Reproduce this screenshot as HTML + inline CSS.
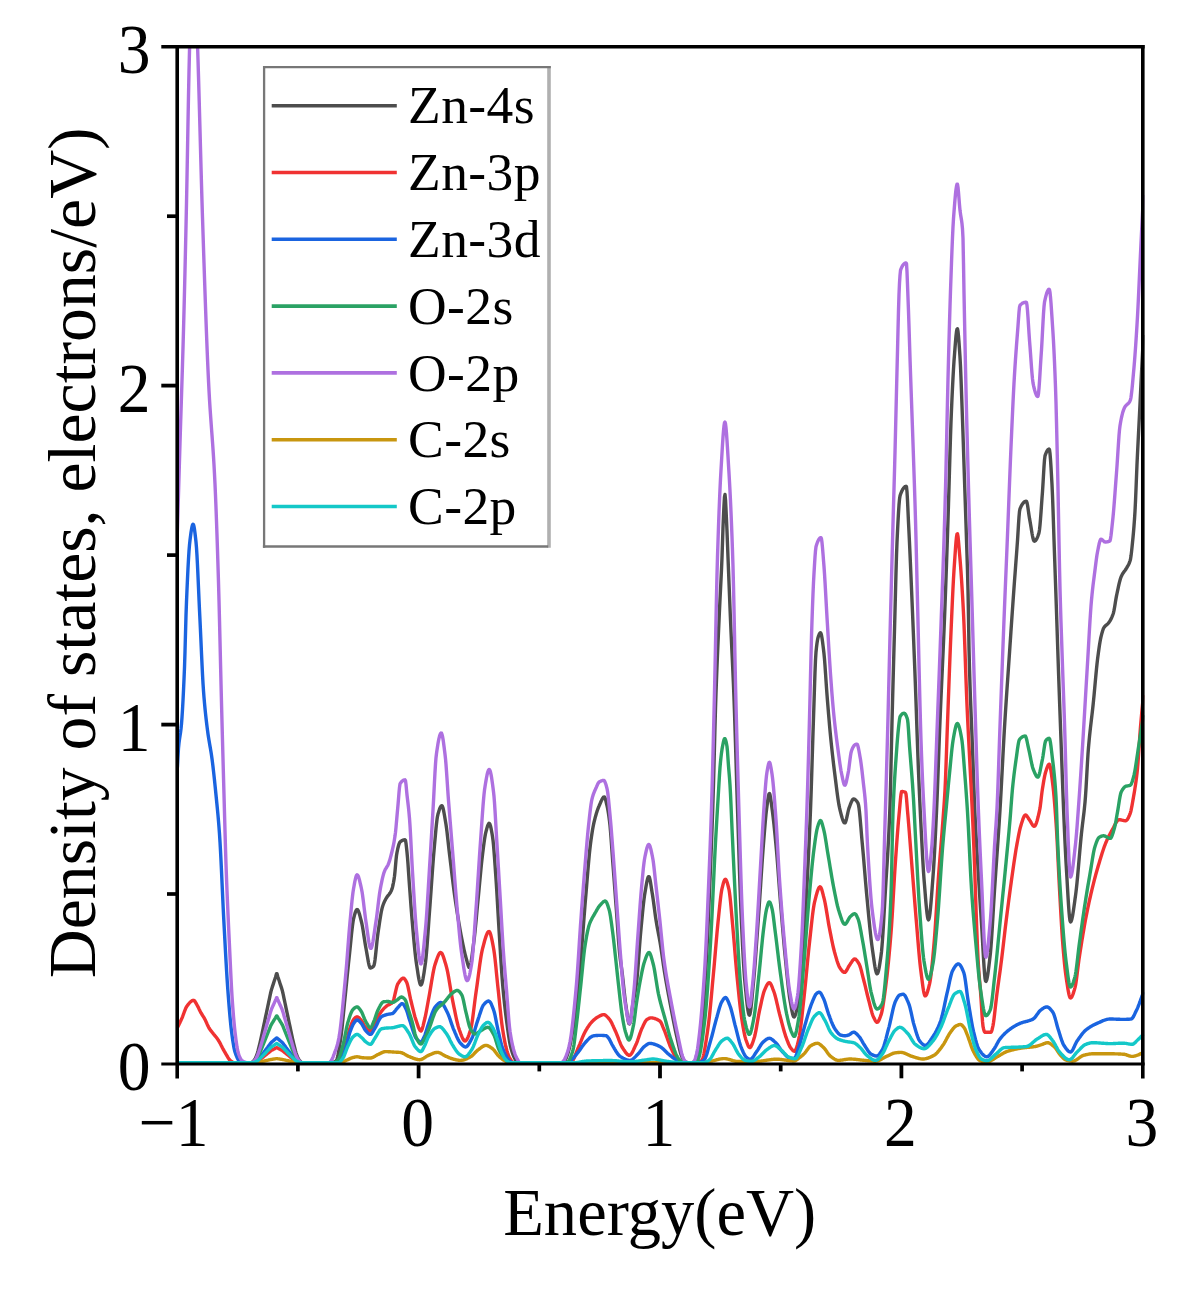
<!DOCTYPE html>
<html><head><meta charset="utf-8"><title>DOS</title>
<style>
html,body{margin:0;padding:0;background:#fff;}
body{width:1182px;height:1290px;overflow:hidden;}
svg{display:block;filter:blur(0.75px);}
text{font-family:"Liberation Serif",serif;fill:#000;}
.c{fill:none;stroke-width:3.4;stroke-linejoin:round;stroke-linecap:butt;}
.ax{stroke:#000;stroke-width:3.6;fill:none;stroke-linecap:butt;}
</style></head><body>
<svg width="1182" height="1290" viewBox="0 0 1182 1290">
<rect x="0" y="0" width="1182" height="1290" fill="#fff"/>
<defs><clipPath id="cp"><rect x="177.2" y="46.7" width="967.1" height="1018.3"/></clipPath></defs>
<g clip-path="url(#cp)">
<path class="c" stroke="#4d4d4d" d="M177.0 1062.8L177.5 1062.8L178.0 1062.8L178.5 1062.8L179.0 1062.8L179.5 1062.8L180.0 1062.8L180.5 1062.8L181.0 1062.8L181.5 1062.8L182.0 1062.8L182.5 1062.8L183.0 1062.8L183.5 1062.8L184.0 1062.8L184.5 1062.8L185.0 1062.8L185.5 1062.8L186.0 1062.8L186.5 1062.8L187.0 1062.8L187.5 1062.8L188.0 1062.8L188.5 1062.8L189.0 1062.8L189.5 1062.8L190.0 1062.8L190.5 1062.8L191.0 1062.8L191.5 1062.8L192.0 1062.8L192.5 1062.8L193.0 1062.8L193.5 1062.8L194.0 1062.8L194.5 1062.8L195.0 1062.8L195.5 1062.8L196.0 1062.8L196.5 1062.8L197.0 1062.8L197.5 1062.8L198.0 1062.8L198.5 1062.8L199.0 1062.8L199.5 1062.8L200.0 1062.8L200.5 1062.8L201.0 1062.8L201.5 1062.8L202.0 1062.8L202.5 1062.8L203.0 1062.8L203.5 1062.8L204.0 1062.8L204.5 1062.8L205.0 1062.8L205.5 1062.8L206.0 1062.8L206.5 1062.8L207.0 1062.8L207.5 1062.8L208.0 1062.8L208.5 1062.8L209.0 1062.8L209.5 1062.8L210.0 1062.8L210.5 1062.8L211.0 1062.8L211.5 1062.8L212.0 1062.8L212.5 1062.8L213.0 1062.8L213.5 1062.8L214.0 1062.8L214.5 1062.8L215.0 1062.8L215.5 1062.8L216.0 1062.8L216.5 1062.8L217.0 1062.8L217.5 1062.8L218.0 1062.8L218.5 1062.8L219.0 1062.8L219.5 1062.8L220.0 1062.8L220.5 1062.8L221.0 1062.8L221.5 1062.8L222.0 1062.8L222.5 1062.8L223.0 1062.8L223.5 1062.8L224.0 1062.8L224.5 1062.8L225.0 1062.8L225.5 1062.8L226.0 1062.8L226.5 1062.8L227.0 1062.8L227.5 1062.8L228.0 1062.8L228.5 1062.8L229.0 1062.8L229.5 1062.8L230.0 1062.8L230.5 1062.8L231.0 1062.8L231.5 1062.8L232.0 1062.8L232.5 1062.8L233.0 1062.8L233.5 1062.8L234.0 1062.8L234.5 1062.8L235.0 1062.8L235.5 1062.8L236.0 1062.8L236.5 1062.8L237.0 1062.8L237.5 1062.8L238.0 1062.8L238.5 1062.8L239.0 1062.8L239.5 1062.8L240.0 1062.8L240.5 1062.8L241.0 1062.8L241.5 1062.8L242.0 1062.8L242.5 1062.8L243.0 1062.8L243.5 1062.8L244.0 1062.8L244.5 1062.8L245.0 1062.8L245.5 1062.8L246.0 1062.8L246.5 1062.8L247.0 1062.8L247.5 1062.8L248.0 1062.8L248.5 1062.8L249.0 1062.8L249.5 1062.8L250.0 1062.8L250.5 1062.8L251.0 1062.8L251.5 1062.6L252.0 1062.4L252.5 1062.0L253.0 1061.6L253.5 1061.2L254.0 1060.6L254.5 1059.8L255.0 1059.0L255.5 1058.1L256.0 1057.0L256.5 1055.6L257.0 1054.2L257.5 1052.7L258.0 1051.0L258.5 1049.0L259.0 1047.0L259.5 1045.0L260.0 1042.9L260.5 1040.7L261.0 1038.5L261.5 1036.1L262.0 1033.8L262.5 1031.4L263.0 1029.1L263.5 1026.7L264.0 1024.3L264.5 1022.0L265.0 1019.6L265.5 1017.2L266.0 1014.9L266.5 1012.5L267.0 1010.1L267.5 1007.8L268.0 1005.4L268.5 1003.0L269.0 1000.7L269.5 998.3L270.0 995.9L270.5 993.5L271.0 991.4L271.5 989.5L272.0 987.9L272.5 986.4L273.0 984.9L273.5 983.4L274.0 981.8L274.5 980.3L275.0 978.8L275.5 977.3L276.0 975.6L276.5 973.8L277.0 973.8L277.5 975.6L278.0 977.3L278.5 978.8L279.0 980.3L279.5 981.8L280.0 983.4L280.5 984.9L281.0 986.4L281.5 987.9L282.0 989.5L282.5 991.4L283.0 993.5L283.5 995.9L284.0 998.3L284.5 1000.7L285.0 1003.0L285.5 1005.4L286.0 1007.8L286.5 1010.1L287.0 1012.5L287.5 1014.9L288.0 1017.2L288.5 1019.6L289.0 1022.0L289.5 1024.3L290.0 1026.7L290.5 1029.1L291.0 1031.4L291.5 1033.8L292.0 1036.1L292.5 1038.5L293.0 1040.7L293.5 1042.9L294.0 1045.0L294.5 1047.0L295.0 1049.0L295.5 1051.0L296.0 1052.7L296.5 1054.2L297.0 1055.6L297.5 1057.0L298.0 1058.1L298.5 1059.0L299.0 1059.8L299.5 1060.6L300.0 1061.2L300.5 1061.6L301.0 1062.0L301.5 1062.4L302.0 1062.7L302.5 1062.8L303.0 1062.8L303.5 1062.8L304.0 1062.8L304.5 1062.8L305.0 1062.8L305.5 1062.8L306.0 1062.8L306.5 1062.8L307.0 1062.8L307.5 1062.8L308.0 1062.8L308.5 1062.8L309.0 1062.8L309.5 1062.8L310.0 1062.8L310.5 1062.8L311.0 1062.8L311.5 1062.8L312.0 1062.8L312.5 1062.8L313.0 1062.8L313.5 1062.8L314.0 1062.8L314.5 1062.8L315.0 1062.8L315.5 1062.8L316.0 1062.8L316.5 1062.8L317.0 1062.8L317.5 1062.8L318.0 1062.8L318.5 1062.8L319.0 1062.8L319.5 1062.8L320.0 1062.8L320.5 1062.8L321.0 1062.8L321.5 1062.8L322.0 1062.8L322.5 1062.8L323.0 1062.8L323.5 1062.8L324.0 1062.8L324.5 1062.8L325.0 1062.8L325.5 1062.8L326.0 1062.8L326.5 1062.8L327.0 1062.8L327.5 1062.8L328.0 1062.8L328.5 1062.8L329.0 1062.8L329.5 1062.8L330.0 1062.8L330.5 1062.8L331.0 1062.8L331.5 1062.8L332.0 1062.8L332.5 1062.6L333.0 1062.5L333.5 1062.3L334.0 1062.1L334.5 1061.9L335.0 1061.6L335.5 1061.3L336.0 1061.0L336.5 1060.3L337.0 1059.0L337.5 1057.2L338.0 1054.9L338.5 1052.3L339.0 1049.4L339.5 1046.3L340.0 1043.1L340.5 1040.0L341.0 1036.6L341.5 1032.6L342.0 1028.1L342.5 1023.3L343.0 1018.3L343.5 1013.1L344.0 1008.0L344.5 1002.9L345.0 998.0L345.5 993.2L346.0 988.3L346.5 983.3L347.0 978.2L347.5 973.2L348.0 968.3L348.5 963.4L349.0 958.7L349.5 954.1L350.0 949.3L350.5 944.3L351.0 939.3L351.5 934.4L352.0 929.7L352.5 925.5L353.0 921.9L353.5 919.0L354.0 917.0L354.5 915.1L355.0 913.4L355.5 911.9L356.0 910.7L356.5 909.9L357.0 909.5L357.5 909.7L358.0 910.3L358.5 911.3L359.0 912.7L359.5 914.3L360.0 916.1L360.5 918.1L361.0 920.0L361.5 922.0L362.0 924.2L362.5 926.8L363.0 929.7L363.5 932.9L364.0 936.2L364.5 939.5L365.0 942.8L365.5 945.8L366.0 948.5L366.5 951.2L367.0 954.1L367.5 957.0L368.0 959.9L368.5 962.6L369.0 964.9L369.5 966.6L370.0 967.7L370.5 968.0L371.0 967.9L371.5 967.7L372.0 967.5L372.5 967.1L373.0 966.7L373.5 966.2L374.0 965.4L374.5 963.2L375.0 959.9L375.5 955.7L376.0 951.0L376.5 946.1L377.0 941.2L377.5 936.8L378.0 933.0L378.5 929.6L379.0 926.2L379.5 922.8L380.0 919.5L380.5 916.4L381.0 913.5L381.5 910.8L382.0 908.6L382.5 906.7L383.0 905.2L383.5 903.8L384.0 902.6L384.5 901.5L385.0 900.5L385.5 899.6L386.0 898.6L386.5 897.8L387.0 897.0L387.5 896.3L388.0 895.7L388.5 895.1L389.0 894.5L389.5 893.8L390.0 893.1L390.5 892.3L391.0 891.3L391.5 890.2L392.0 888.9L392.5 887.2L393.0 885.0L393.5 882.5L394.0 879.6L394.5 876.3L395.0 871.5L395.5 865.8L396.0 860.2L396.5 855.5L397.0 852.5L397.5 850.0L398.0 847.7L398.5 845.8L399.0 844.1L399.5 842.8L400.0 842.0L400.5 841.6L401.0 841.2L401.5 840.9L402.0 840.7L402.5 840.4L403.0 840.2L403.5 840.0L404.0 839.9L404.5 839.8L405.0 839.8L405.5 840.4L406.0 843.2L406.5 847.6L407.0 852.3L407.5 857.6L408.0 864.2L408.5 871.5L409.0 879.0L409.5 886.0L410.0 892.7L410.5 899.5L411.0 906.3L411.5 912.7L412.0 918.8L412.5 924.6L413.0 930.4L413.5 936.0L414.0 941.5L414.5 946.8L415.0 951.8L415.5 956.4L416.0 960.5L416.5 964.0L417.0 967.3L417.5 970.6L418.0 973.9L418.5 976.9L419.0 979.6L419.5 981.9L420.0 983.7L420.5 984.7L421.0 985.0L421.5 984.4L422.0 983.1L422.5 981.2L423.0 978.8L423.5 976.0L424.0 972.9L424.5 969.5L425.0 966.1L425.5 962.5L426.0 958.1L426.5 952.7L427.0 946.5L427.5 939.8L428.0 932.8L428.5 925.6L429.0 918.5L429.5 911.6L430.0 905.0L430.5 898.2L431.0 891.1L431.5 884.0L432.0 876.8L432.5 869.8L433.0 863.1L433.5 856.7L434.0 850.8L434.5 845.2L435.0 839.6L435.5 834.0L436.0 828.6L436.5 823.8L437.0 819.6L437.5 816.3L438.0 814.1L438.5 812.4L439.0 810.7L439.5 809.2L440.0 808.0L440.5 806.9L441.0 806.2L441.5 805.8L442.0 805.8L442.5 806.5L443.0 808.0L443.5 810.1L444.0 812.7L444.5 815.5L445.0 818.5L445.5 821.5L446.0 824.5L446.5 828.0L447.0 831.9L447.5 836.2L448.0 840.7L448.5 845.3L449.0 849.8L449.5 854.0L450.0 858.1L450.5 862.3L451.0 866.4L451.5 870.6L452.0 874.8L452.5 878.9L453.0 883.0L453.5 886.9L454.0 890.8L454.5 894.5L455.0 898.0L455.5 901.4L456.0 904.8L456.5 908.1L457.0 911.3L457.5 914.5L458.0 917.6L458.5 920.6L459.0 923.5L459.5 926.4L460.0 929.3L460.5 932.0L461.0 934.7L461.5 937.3L462.0 939.8L462.5 942.3L463.0 944.8L463.5 947.2L464.0 949.5L464.5 951.7L465.0 953.8L465.5 955.8L466.0 957.6L466.5 959.5L467.0 961.4L467.5 963.3L468.0 965.0L468.5 966.4L469.0 967.3L469.5 967.5L470.0 966.7L470.5 965.0L471.0 962.6L471.5 959.5L472.0 955.9L472.5 952.1L473.0 948.2L473.5 944.3L474.0 940.5L474.5 936.3L475.0 931.7L475.5 926.7L476.0 921.5L476.5 916.1L477.0 910.6L477.5 905.2L478.0 900.0L478.5 895.0L479.0 889.8L479.5 884.4L480.0 879.1L480.5 873.8L481.0 868.7L481.5 863.7L482.0 859.1L482.5 854.8L483.0 850.8L483.5 846.9L484.0 843.1L484.5 839.6L485.0 836.4L485.5 833.7L486.0 831.6L486.5 829.7L487.0 827.9L487.5 826.2L488.0 824.9L488.5 823.9L489.0 823.3L489.5 823.5L490.0 824.4L490.5 826.0L491.0 828.1L491.5 830.7L492.0 833.5L492.5 836.5L493.0 840.2L493.5 845.2L494.0 851.1L494.5 857.6L495.0 864.6L495.5 871.8L496.0 878.9L496.5 886.6L497.0 894.9L497.5 903.6L498.0 912.4L498.5 921.1L499.0 929.4L499.5 937.4L500.0 945.6L500.5 953.8L501.0 961.8L501.5 969.4L502.0 976.5L502.5 982.8L503.0 988.5L503.5 993.8L504.0 998.9L504.5 1003.6L505.0 1008.1L505.5 1012.3L506.0 1016.4L506.5 1020.2L507.0 1024.0L507.5 1027.7L508.0 1031.3L508.5 1034.8L509.0 1038.1L509.5 1041.1L510.0 1043.9L510.5 1046.3L511.0 1048.3L511.5 1050.1L512.0 1051.7L512.5 1053.2L513.0 1054.6L513.5 1055.9L514.0 1057.0L514.5 1058.0L515.0 1058.9L515.5 1059.9L516.0 1060.7L516.5 1061.4L517.0 1062.0L517.5 1062.3L518.0 1062.5L518.5 1062.7L519.0 1062.8L519.5 1062.8L520.0 1062.8L520.5 1062.8L521.0 1062.8L521.5 1062.8L522.0 1062.8L522.5 1062.8L523.0 1062.8L523.5 1062.8L524.0 1062.8L524.5 1062.8L525.0 1062.8L525.5 1062.8L526.0 1062.8L526.5 1062.8L527.0 1062.8L527.5 1062.8L528.0 1062.8L528.5 1062.8L529.0 1062.8L529.5 1062.8L530.0 1062.8L530.5 1062.8L531.0 1062.8L531.5 1062.8L532.0 1062.8L532.5 1062.8L533.0 1062.8L533.5 1062.8L534.0 1062.8L534.5 1062.8L535.0 1062.8L535.5 1062.8L536.0 1062.8L536.5 1062.8L537.0 1062.8L537.5 1062.8L538.0 1062.8L538.5 1062.8L539.0 1062.8L539.5 1062.8L540.0 1062.8L540.5 1062.8L541.0 1062.8L541.5 1062.8L542.0 1062.8L542.5 1062.8L543.0 1062.8L543.5 1062.8L544.0 1062.8L544.5 1062.8L545.0 1062.8L545.5 1062.8L546.0 1062.8L546.5 1062.8L547.0 1062.8L547.5 1062.8L548.0 1062.8L548.5 1062.8L549.0 1062.8L549.5 1062.8L550.0 1062.8L550.5 1062.8L551.0 1062.8L551.5 1062.8L552.0 1062.8L552.5 1062.8L553.0 1062.8L553.5 1062.8L554.0 1062.8L554.5 1062.8L555.0 1062.8L555.5 1062.8L556.0 1062.8L556.5 1062.8L557.0 1062.8L557.5 1062.8L558.0 1062.8L558.5 1062.8L559.0 1062.8L559.5 1062.8L560.0 1062.8L560.5 1062.8L561.0 1062.8L561.5 1062.8L562.0 1062.8L562.5 1062.7L563.0 1062.4L563.5 1062.0L564.0 1061.5L564.5 1061.0L565.0 1060.4L565.5 1059.5L566.0 1058.5L566.5 1057.3L567.0 1055.9L567.5 1054.5L568.0 1053.0L568.5 1051.4L569.0 1049.5L569.5 1047.5L570.0 1045.3L570.5 1042.9L571.0 1040.3L571.5 1037.7L572.0 1034.9L572.5 1032.0L573.0 1029.0L573.5 1025.7L574.0 1022.3L574.5 1018.6L575.0 1014.8L575.5 1010.8L576.0 1006.6L576.5 1002.3L577.0 997.9L577.5 993.3L578.0 988.6L578.5 983.8L579.0 979.0L579.5 974.0L580.0 968.7L580.5 963.0L581.0 957.1L581.5 950.8L582.0 944.4L582.5 937.8L583.0 931.2L583.5 924.5L584.0 917.9L584.5 911.5L585.0 905.2L585.5 899.2L586.0 893.3L586.5 887.3L587.0 881.2L587.5 875.1L588.0 869.2L588.5 863.4L589.0 857.9L589.5 852.7L590.0 848.0L590.5 843.8L591.0 840.0L591.5 836.5L592.0 833.2L592.5 830.1L593.0 827.3L593.5 824.7L594.0 822.4L594.5 820.3L595.0 818.3L595.5 816.4L596.0 814.7L596.5 813.0L597.0 811.4L597.5 810.0L598.0 808.6L598.5 807.3L599.0 806.2L599.5 805.0L600.0 803.8L600.5 802.7L601.0 801.5L601.5 800.4L602.0 799.4L602.5 798.5L603.0 797.8L603.5 797.2L604.0 797.0L604.5 797.0L605.0 797.8L605.5 799.3L606.0 801.3L606.5 803.5L607.0 805.7L607.5 808.0L608.0 810.7L608.5 813.7L609.0 817.2L609.5 821.0L610.0 825.6L610.5 831.2L611.0 837.5L611.5 844.3L612.0 851.3L612.5 858.3L613.0 865.0L613.5 871.5L614.0 878.1L614.5 884.8L615.0 891.5L615.5 898.3L616.0 905.0L616.5 911.7L617.0 918.7L617.5 926.0L618.0 933.2L618.5 940.1L619.0 946.4L619.5 952.0L620.0 956.7L620.5 960.8L621.0 964.5L621.5 968.1L622.0 971.8L622.5 975.8L623.0 980.3L623.5 984.9L624.0 989.7L624.5 994.3L625.0 998.7L625.5 1002.6L626.0 1006.1L626.5 1009.7L627.0 1013.3L627.5 1016.8L628.0 1019.8L628.5 1022.1L629.0 1023.6L629.5 1024.0L630.0 1022.9L630.5 1020.6L631.0 1017.5L631.5 1013.8L632.0 1009.9L632.5 1006.2L633.0 1003.0L633.5 1000.3L634.0 997.8L634.5 995.3L635.0 992.7L635.5 989.9L636.0 986.8L636.5 983.2L637.0 978.7L637.5 973.2L638.0 967.1L638.5 960.5L639.0 953.7L639.5 946.9L640.0 940.3L640.5 934.3L641.0 928.9L641.5 923.6L642.0 918.3L642.5 913.1L643.0 908.1L643.5 903.5L644.0 899.2L644.5 895.6L645.0 892.5L645.5 889.5L646.0 886.5L646.5 883.7L647.0 881.2L647.5 879.1L648.0 877.5L648.5 876.7L649.0 876.6L649.5 877.6L650.0 879.6L650.5 882.3L651.0 885.4L651.5 888.7L652.0 891.9L652.5 894.9L653.0 898.2L653.5 901.7L654.0 905.5L654.5 909.3L655.0 913.1L655.5 916.7L656.0 920.0L656.5 923.0L657.0 925.9L657.5 928.6L658.0 931.3L658.5 933.9L659.0 936.5L659.5 939.2L660.0 942.0L660.5 945.0L661.0 948.2L661.5 951.5L662.0 955.0L662.5 958.5L663.0 962.0L663.5 965.5L664.0 968.8L664.5 972.0L665.0 975.0L665.5 978.0L666.0 980.9L666.5 983.7L667.0 986.5L667.5 989.2L668.0 992.0L668.5 994.6L669.0 997.3L669.5 1000.0L670.0 1002.6L670.5 1005.2L671.0 1007.9L671.5 1010.5L672.0 1013.2L672.5 1015.8L673.0 1018.4L673.5 1020.9L674.0 1023.5L674.5 1026.0L675.0 1028.4L675.5 1030.8L676.0 1033.1L676.5 1035.4L677.0 1037.6L677.5 1039.8L678.0 1042.1L678.5 1044.4L679.0 1046.6L679.5 1048.8L680.0 1050.8L680.5 1052.7L681.0 1054.4L681.5 1055.8L682.0 1057.0L682.5 1058.0L683.0 1058.9L683.5 1059.8L684.0 1060.6L684.5 1061.2L685.0 1061.7L685.5 1062.0L686.0 1062.2L686.5 1062.4L687.0 1062.6L687.5 1062.7L688.0 1062.8L688.5 1062.8L689.0 1062.8L689.5 1062.8L690.0 1062.8L690.5 1062.8L691.0 1062.8L691.5 1062.8L692.0 1062.7L692.5 1062.6L693.0 1062.4L693.5 1062.2L694.0 1062.0L694.5 1061.8L695.0 1061.6L695.5 1061.3L696.0 1061.0L696.5 1060.4L697.0 1059.2L697.5 1057.4L698.0 1055.2L698.5 1052.7L699.0 1049.8L699.5 1046.7L700.0 1043.4L700.5 1040.0L701.0 1036.2L701.5 1031.5L702.0 1026.2L702.5 1020.2L703.0 1013.7L703.5 1006.6L704.0 999.2L704.5 991.5L705.0 983.5L705.5 975.3L706.0 967.0L706.5 958.0L707.0 948.2L707.5 937.8L708.0 926.8L708.5 915.4L709.0 903.7L709.5 891.9L710.0 880.0L710.5 868.0L711.0 855.8L711.5 843.1L712.0 829.8L712.5 815.8L713.0 800.9L713.5 783.9L714.0 765.1L714.5 745.6L715.0 726.3L715.5 708.5L716.0 693.1L716.5 679.4L717.0 666.7L717.5 654.6L718.0 643.1L718.5 632.0L719.0 621.0L719.5 610.0L720.0 599.5L720.5 589.6L721.0 579.7L721.5 569.3L722.0 557.4L722.5 542.5L723.0 527.3L723.5 515.7L724.0 505.0L724.5 496.8L725.0 494.5L725.5 499.7L726.0 509.4L726.5 520.0L727.0 531.2L727.5 544.2L728.0 557.5L728.5 570.1L729.0 582.8L729.5 595.4L730.0 607.9L730.5 620.0L731.0 631.4L731.5 642.2L732.0 652.8L732.5 663.3L733.0 674.3L733.5 685.9L734.0 698.6L734.5 712.8L735.0 728.1L735.5 744.3L736.0 760.8L736.5 777.4L737.0 793.6L737.5 809.0L738.0 824.5L738.5 840.3L739.0 856.0L739.5 871.4L740.0 886.1L740.5 899.9L741.0 912.4L741.5 923.5L742.0 934.0L742.5 944.1L743.0 953.6L743.5 962.3L744.0 970.3L744.5 977.2L745.0 983.0L745.5 988.2L746.0 993.4L746.5 998.4L747.0 1003.1L747.5 1007.2L748.0 1010.7L748.5 1013.2L749.0 1014.8L749.5 1015.2L750.0 1014.0L750.5 1011.4L751.0 1007.7L751.5 1003.2L752.0 998.0L752.5 992.7L753.0 987.3L753.5 982.2L754.0 976.9L754.5 971.1L755.0 964.9L755.5 958.3L756.0 951.5L756.5 944.5L757.0 937.5L757.5 930.4L758.0 923.4L758.5 916.4L759.0 909.3L759.5 901.9L760.0 894.4L760.5 886.8L761.0 879.2L761.5 871.6L762.0 864.2L762.5 857.0L763.0 850.2L763.5 843.7L764.0 837.4L764.5 831.1L765.0 825.0L765.5 819.3L766.0 814.2L766.5 809.9L767.0 806.1L767.5 802.2L768.0 798.7L768.5 795.8L769.0 794.0L769.5 793.5L770.0 794.7L770.5 797.3L771.0 800.7L771.5 804.6L772.0 808.4L772.5 812.0L773.0 816.0L773.5 820.3L774.0 824.9L774.5 829.8L775.0 834.8L775.5 840.0L776.0 845.3L776.5 850.8L777.0 856.8L777.5 863.1L778.0 869.7L778.5 876.5L779.0 883.2L779.5 889.8L780.0 896.2L780.5 902.4L781.0 908.5L781.5 914.5L782.0 920.6L782.5 926.6L783.0 932.4L783.5 938.2L784.0 943.8L784.5 949.3L785.0 954.5L785.5 959.6L786.0 964.7L786.5 969.8L787.0 974.8L787.5 979.7L788.0 984.4L788.5 988.8L789.0 992.9L789.5 996.7L790.0 999.9L790.5 1002.8L791.0 1005.7L791.5 1008.6L792.0 1011.2L792.5 1013.5L793.0 1015.4L793.5 1016.6L794.0 1017.0L794.5 1016.7L795.0 1015.8L795.5 1014.4L796.0 1012.7L796.5 1010.6L797.0 1008.5L797.5 1006.2L798.0 1003.6L798.5 1000.3L799.0 996.5L799.5 992.1L800.0 987.3L800.5 982.1L801.0 976.6L801.5 970.8L802.0 964.9L802.5 958.8L803.0 952.5L803.5 945.4L804.0 937.7L804.5 929.5L805.0 920.8L805.5 911.9L806.0 902.8L806.5 893.6L807.0 884.3L807.5 874.9L808.0 865.2L808.5 855.2L809.0 844.7L809.5 833.7L810.0 822.2L810.5 810.0L811.0 796.4L811.5 781.3L812.0 765.2L812.5 748.9L813.0 732.9L813.5 718.0L814.0 702.9L814.5 687.1L815.0 672.2L815.5 660.0L816.0 652.0L816.5 647.2L817.0 643.2L817.5 640.0L818.0 637.7L818.5 636.1L819.0 634.8L819.5 633.7L820.0 633.0L820.5 632.7L821.0 633.4L821.5 635.2L822.0 638.0L822.5 641.5L823.0 645.4L823.5 649.5L824.0 653.8L824.5 659.2L825.0 665.7L825.5 673.0L826.0 680.5L826.5 687.9L827.0 694.7L827.5 701.0L828.0 707.2L828.5 713.3L829.0 719.2L829.5 725.0L830.0 730.6L830.5 735.8L831.0 740.8L831.5 745.7L832.0 750.4L832.5 754.9L833.0 759.3L833.5 763.6L834.0 767.8L834.5 771.8L835.0 775.8L835.5 779.8L836.0 783.8L836.5 787.8L837.0 791.7L837.5 795.5L838.0 799.0L838.5 802.3L839.0 805.2L839.5 807.7L840.0 809.8L840.5 811.8L841.0 813.8L841.5 815.7L842.0 817.5L842.5 819.1L843.0 820.5L843.5 821.7L844.0 822.5L844.5 822.9L845.0 822.9L845.5 822.2L846.0 820.8L846.5 818.9L847.0 816.7L847.5 814.3L848.0 812.0L848.5 809.9L849.0 808.1L849.5 806.8L850.0 805.5L850.5 804.2L851.0 802.9L851.5 801.7L852.0 800.7L852.5 799.8L853.0 799.3L853.5 799.0L854.0 799.0L854.5 799.2L855.0 799.5L855.5 799.9L856.0 800.4L856.5 800.9L857.0 801.6L857.5 802.4L858.0 803.2L858.5 804.9L859.0 807.9L859.5 812.1L860.0 817.1L860.5 822.8L861.0 828.7L861.5 834.8L862.0 840.6L862.5 846.0L863.0 851.5L863.5 857.2L864.0 863.1L864.5 869.1L865.0 875.1L865.5 881.1L866.0 886.9L866.5 892.5L867.0 897.8L867.5 903.1L868.0 908.5L868.5 913.8L869.0 919.0L869.5 924.2L870.0 929.1L870.5 933.9L871.0 938.4L871.5 942.6L872.0 946.4L872.5 949.9L873.0 953.4L873.5 957.0L874.0 960.6L874.5 963.9L875.0 967.0L875.5 969.6L876.0 971.7L876.5 973.2L877.0 973.8L877.5 973.5L878.0 972.5L878.5 970.8L879.0 968.5L879.5 965.7L880.0 962.6L880.5 959.2L881.0 955.7L881.5 951.7L882.0 946.2L882.5 939.6L883.0 932.1L883.5 923.8L884.0 915.2L884.5 906.3L885.0 897.5L885.5 889.0L886.0 880.9L886.5 873.1L887.0 865.3L887.5 857.3L888.0 848.8L888.5 839.6L889.0 829.5L889.5 818.1L890.0 805.2L890.5 787.8L891.0 766.4L891.5 743.6L892.0 722.0L892.5 702.7L893.0 684.1L893.5 665.8L894.0 647.8L894.5 630.0L895.0 611.3L895.5 591.8L896.0 572.8L896.5 555.8L897.0 542.2L897.5 531.7L898.0 521.7L898.5 512.7L899.0 505.0L899.5 499.3L900.0 495.9L900.5 494.3L901.0 493.0L901.5 491.8L902.0 490.7L902.5 489.7L903.0 488.9L903.5 488.2L904.0 487.6L904.5 487.1L905.0 486.7L905.5 486.5L906.0 486.3L906.5 486.8L907.0 491.7L907.5 500.4L908.0 511.3L908.5 522.5L909.0 532.5L909.5 542.8L910.0 553.8L910.5 565.2L911.0 576.9L911.5 588.6L912.0 600.4L912.5 612.3L913.0 624.4L913.5 636.7L914.0 649.2L914.5 661.9L915.0 674.8L915.5 688.0L916.0 702.0L916.5 716.4L917.0 730.9L917.5 745.1L918.0 758.8L918.5 771.5L919.0 783.4L919.5 794.7L920.0 805.7L920.5 816.1L921.0 826.1L921.5 835.8L922.0 845.4L922.5 854.8L923.0 863.7L923.5 871.8L924.0 878.8L924.5 884.9L925.0 891.2L925.5 897.5L926.0 903.3L926.5 908.7L927.0 913.2L927.5 916.8L928.0 919.1L928.5 919.9L929.0 919.0L929.5 916.6L930.0 912.9L930.5 908.1L931.0 902.5L931.5 896.3L932.0 889.8L932.5 883.2L933.0 876.7L933.5 869.6L934.0 861.6L934.5 852.8L935.0 843.2L935.5 833.2L936.0 822.7L936.5 812.0L937.0 800.5L937.5 787.7L938.0 774.3L938.5 760.4L939.0 746.6L939.5 733.4L940.0 720.9L940.5 709.1L941.0 697.7L941.5 686.6L942.0 675.6L942.5 664.7L943.0 653.6L943.5 642.3L944.0 630.7L944.5 618.6L945.0 605.8L945.5 592.5L946.0 578.7L946.5 564.4L947.0 549.8L947.5 535.0L948.0 520.0L948.5 504.1L949.0 487.2L949.5 469.7L950.0 452.6L950.5 436.4L951.0 421.9L951.5 409.6L952.0 398.2L952.5 387.6L953.0 377.8L953.5 369.0L954.0 361.2L954.5 354.6L955.0 348.0L955.5 341.6L956.0 336.0L956.5 331.6L957.0 329.1L957.5 328.8L958.0 331.4L958.5 336.1L959.0 342.4L959.5 349.6L960.0 357.2L960.5 366.4L961.0 378.3L961.5 391.9L962.0 406.0L962.5 419.8L963.0 434.3L963.5 449.4L964.0 464.7L964.5 480.0L965.0 494.9L965.5 509.6L966.0 524.5L966.5 540.0L967.0 555.3L967.5 571.2L968.0 590.0L968.5 617.7L969.0 648.0L969.5 668.4L970.0 684.7L970.5 698.8L971.0 711.6L971.5 723.6L972.0 735.7L972.5 748.6L973.0 762.5L973.5 776.6L974.0 790.5L974.5 803.5L975.0 815.0L975.5 825.0L976.0 834.1L976.5 842.6L977.0 851.0L977.5 859.4L978.0 867.8L978.5 876.2L979.0 884.5L979.5 892.6L980.0 900.6L980.5 908.4L981.0 916.0L981.5 923.5L982.0 931.6L982.5 940.4L983.0 949.4L983.5 958.2L984.0 966.2L984.5 973.0L985.0 978.1L985.5 981.0L986.0 981.4L986.5 980.5L987.0 978.7L987.5 976.2L988.0 973.0L988.5 969.3L989.0 965.3L989.5 961.1L990.0 956.7L990.5 952.2L991.0 946.4L991.5 939.6L992.0 932.0L992.5 923.8L993.0 915.3L993.5 906.7L994.0 898.4L994.5 890.5L995.0 883.1L995.5 875.9L996.0 868.7L996.5 861.6L997.0 854.5L997.5 847.4L998.0 840.2L998.5 832.8L999.0 825.3L999.5 817.6L1000.0 809.6L1000.5 801.3L1001.0 792.4L1001.5 783.1L1002.0 773.6L1002.5 764.1L1003.0 754.5L1003.5 745.1L1004.0 736.1L1004.5 727.5L1005.0 719.3L1005.5 711.5L1006.0 703.8L1006.5 696.4L1007.0 689.0L1007.5 681.8L1008.0 674.6L1008.5 667.4L1009.0 660.1L1009.5 652.8L1010.0 645.4L1010.5 638.1L1011.0 630.7L1011.5 623.4L1012.0 616.2L1012.5 609.0L1013.0 601.8L1013.5 594.8L1014.0 587.8L1014.5 581.0L1015.0 574.3L1015.5 567.6L1016.0 560.9L1016.5 554.3L1017.0 547.7L1017.5 540.7L1018.0 532.6L1018.5 524.3L1019.0 516.8L1019.5 511.4L1020.0 508.9L1020.5 507.7L1021.0 506.6L1021.5 505.6L1022.0 504.7L1022.5 504.0L1023.0 503.3L1023.5 502.7L1024.0 502.2L1024.5 501.8L1025.0 501.5L1025.5 501.3L1026.0 501.2L1026.5 501.3L1027.0 502.6L1027.5 505.0L1028.0 508.2L1028.5 511.7L1029.0 515.3L1029.5 518.4L1030.0 521.1L1030.5 524.0L1031.0 527.1L1031.5 530.2L1032.0 533.3L1032.5 536.0L1033.0 538.3L1033.5 540.0L1034.0 541.0L1034.5 541.2L1035.0 541.0L1035.5 540.6L1036.0 540.0L1036.5 539.2L1037.0 538.2L1037.5 537.1L1038.0 535.8L1038.5 534.4L1039.0 532.8L1039.5 529.8L1040.0 525.1L1040.5 519.1L1041.0 512.3L1041.5 505.2L1042.0 498.2L1042.5 491.6L1043.0 483.7L1043.5 475.0L1044.0 466.7L1044.5 459.9L1045.0 455.9L1045.5 454.4L1046.0 453.1L1046.5 452.0L1047.0 451.0L1047.5 450.3L1048.0 449.7L1048.5 449.3L1049.0 449.1L1049.5 449.7L1050.0 453.4L1050.5 459.5L1051.0 467.2L1051.5 475.9L1052.0 484.7L1052.5 495.8L1053.0 509.4L1053.5 524.5L1054.0 539.8L1054.5 554.3L1055.0 568.5L1055.5 582.8L1056.0 597.2L1056.5 611.8L1057.0 626.7L1057.5 641.7L1058.0 656.7L1058.5 671.4L1059.0 685.7L1059.5 699.6L1060.0 713.4L1060.5 727.0L1061.0 740.5L1061.5 754.0L1062.0 767.8L1062.5 781.6L1063.0 795.0L1063.5 807.8L1064.0 819.7L1064.5 831.1L1065.0 842.1L1065.5 852.4L1066.0 861.9L1066.5 870.3L1067.0 879.0L1067.5 887.9L1068.0 896.6L1068.5 904.6L1069.0 911.6L1069.5 917.1L1070.0 920.7L1070.5 922.0L1071.0 921.6L1071.5 920.4L1072.0 918.5L1072.5 916.1L1073.0 913.2L1073.5 910.0L1074.0 906.5L1074.5 902.9L1075.0 899.2L1075.5 895.7L1076.0 891.9L1076.5 887.5L1077.0 882.7L1077.5 877.5L1078.0 871.9L1078.5 866.2L1079.0 860.4L1079.5 854.6L1080.0 848.8L1080.5 843.3L1081.0 838.0L1081.5 833.1L1082.0 828.6L1082.5 824.4L1083.0 820.4L1083.5 816.3L1084.0 812.1L1084.5 807.4L1085.0 802.3L1085.5 796.2L1086.0 788.6L1086.5 779.9L1087.0 770.8L1087.5 762.0L1088.0 754.0L1088.5 747.4L1089.0 741.8L1089.5 736.6L1090.0 731.9L1090.5 727.4L1091.0 723.1L1091.5 718.8L1092.0 714.6L1092.5 710.3L1093.0 705.8L1093.5 700.9L1094.0 695.8L1094.5 690.4L1095.0 684.9L1095.5 679.4L1096.0 674.0L1096.5 668.9L1097.0 664.0L1097.5 659.6L1098.0 655.7L1098.5 652.0L1099.0 648.4L1099.5 645.1L1100.0 642.0L1100.5 639.2L1101.0 636.8L1101.5 634.8L1102.0 632.9L1102.5 631.2L1103.0 629.7L1103.5 628.4L1104.0 627.5L1104.5 626.8L1105.0 626.2L1105.5 625.7L1106.0 625.3L1106.5 624.9L1107.0 624.5L1107.5 624.1L1108.0 623.6L1108.5 623.0L1109.0 622.4L1109.5 621.6L1110.0 620.8L1110.5 620.0L1111.0 619.1L1111.5 618.0L1112.0 616.9L1112.5 615.7L1113.0 614.3L1113.5 612.7L1114.0 610.4L1114.5 607.7L1115.0 604.7L1115.5 601.5L1116.0 598.6L1116.5 595.9L1117.0 593.5L1117.5 591.1L1118.0 588.8L1118.5 586.4L1119.0 584.2L1119.5 582.1L1120.0 580.2L1120.5 578.5L1121.0 577.1L1121.5 575.9L1122.0 574.9L1122.5 574.0L1123.0 573.2L1123.5 572.5L1124.0 571.8L1124.5 571.1L1125.0 570.5L1125.5 569.8L1126.0 569.0L1126.5 568.2L1127.0 567.3L1127.5 566.4L1128.0 565.6L1128.5 564.7L1129.0 563.7L1129.5 562.5L1130.0 561.0L1130.5 559.2L1131.0 556.1L1131.5 552.1L1132.0 547.4L1132.5 542.5L1133.0 537.5L1133.5 532.0L1134.0 526.0L1134.5 519.1L1135.0 511.3L1135.5 501.2L1136.0 489.3L1136.5 476.6L1137.0 464.4L1137.5 453.7L1138.0 443.7L1138.5 433.9L1139.0 424.2L1139.5 414.3L1140.0 404.0L1140.5 393.6L1141.0 383.2L1141.5 373.0L1142.0 363.1L1142.5 353.5L1143.0 344.1L1143.5 335.0"/>
<path class="c" stroke="#f03232" d="M177.0 1028.5L177.5 1027.5L178.0 1026.5L178.5 1025.5L179.0 1024.5L179.5 1023.4L180.0 1022.4L180.5 1021.3L181.0 1020.2L181.5 1019.1L182.0 1018.0L182.5 1016.8L183.0 1015.5L183.5 1014.2L184.0 1012.8L184.5 1011.4L185.0 1010.1L185.5 1008.8L186.0 1007.7L186.5 1006.8L187.0 1006.0L187.5 1005.4L188.0 1004.7L188.5 1004.1L189.0 1003.5L189.5 1002.9L190.0 1002.4L190.5 1001.9L191.0 1001.5L191.5 1001.1L192.0 1000.8L192.5 1000.5L193.0 1000.4L193.5 1000.3L194.0 1000.4L194.5 1000.8L195.0 1001.5L195.5 1002.3L196.0 1003.2L196.5 1004.1L197.0 1005.0L197.5 1005.9L198.0 1006.8L198.5 1007.8L199.0 1008.9L199.5 1009.9L200.0 1011.0L200.5 1011.9L201.0 1012.9L201.5 1013.7L202.0 1014.5L202.5 1015.3L203.0 1016.1L203.5 1016.9L204.0 1017.7L204.5 1018.6L205.0 1019.5L205.5 1020.5L206.0 1021.6L206.5 1022.7L207.0 1023.9L207.5 1025.0L208.0 1026.1L208.5 1027.1L209.0 1028.0L209.5 1028.8L210.0 1029.5L210.5 1030.2L211.0 1030.8L211.5 1031.4L212.0 1032.1L212.5 1032.7L213.0 1033.3L213.5 1034.0L214.0 1034.6L214.5 1035.2L215.0 1035.8L215.5 1036.4L216.0 1037.0L216.5 1037.6L217.0 1038.3L217.5 1039.0L218.0 1039.7L218.5 1040.5L219.0 1041.3L219.5 1042.2L220.0 1043.1L220.5 1044.1L221.0 1045.1L221.5 1046.0L222.0 1047.0L222.5 1048.0L223.0 1048.9L223.5 1049.8L224.0 1050.7L224.5 1051.6L225.0 1052.4L225.5 1053.3L226.0 1054.2L226.5 1055.0L227.0 1055.8L227.5 1056.7L228.0 1057.6L228.5 1058.4L229.0 1059.2L229.5 1059.8L230.0 1060.3L230.5 1060.7L231.0 1061.1L231.5 1061.5L232.0 1061.8L232.5 1062.1L233.0 1062.4L233.5 1062.6L234.0 1062.7L234.5 1062.8L235.0 1062.8L235.5 1062.8L236.0 1062.8L236.5 1062.8L237.0 1062.8L237.5 1062.8L238.0 1062.8L238.5 1062.8L239.0 1062.8L239.5 1062.8L240.0 1062.8L240.5 1062.8L241.0 1062.8L241.5 1062.8L242.0 1062.8L242.5 1062.8L243.0 1062.8L243.5 1062.8L244.0 1062.8L244.5 1062.8L245.0 1062.8L245.5 1062.8L246.0 1062.8L246.5 1062.8L247.0 1062.8L247.5 1062.8L248.0 1062.8L248.5 1062.8L249.0 1062.8L249.5 1062.8L250.0 1062.8L250.5 1062.8L251.0 1062.8L251.5 1062.8L252.0 1062.8L252.5 1062.8L253.0 1062.8L253.5 1062.7L254.0 1062.6L254.5 1062.5L255.0 1062.3L255.5 1062.2L256.0 1062.0L256.5 1061.7L257.0 1061.5L257.5 1061.2L258.0 1060.9L258.5 1060.6L259.0 1060.2L259.5 1059.9L260.0 1059.5L260.5 1059.2L261.0 1058.8L261.5 1058.4L262.0 1058.0L262.5 1057.6L263.0 1057.2L263.5 1056.8L264.0 1056.3L264.5 1055.9L265.0 1055.5L265.5 1055.1L266.0 1054.7L266.5 1054.3L267.0 1053.9L267.5 1053.5L268.0 1053.1L268.5 1052.7L269.0 1052.3L269.5 1051.9L270.0 1051.5L270.5 1051.0L271.0 1050.7L271.5 1050.4L272.0 1050.1L272.5 1049.8L273.0 1049.6L273.5 1049.3L274.0 1049.0L274.5 1048.8L275.0 1048.5L275.5 1048.2L276.0 1048.0L276.5 1047.7L277.0 1047.7L277.5 1048.0L278.0 1048.2L278.5 1048.5L279.0 1048.8L279.5 1049.0L280.0 1049.3L280.5 1049.6L281.0 1049.8L281.5 1050.1L282.0 1050.4L282.5 1050.7L283.0 1051.0L283.5 1051.5L284.0 1051.9L284.5 1052.3L285.0 1052.7L285.5 1053.1L286.0 1053.5L286.5 1053.9L287.0 1054.3L287.5 1054.7L288.0 1055.1L288.5 1055.5L289.0 1055.9L289.5 1056.3L290.0 1056.8L290.5 1057.2L291.0 1057.6L291.5 1058.0L292.0 1058.4L292.5 1058.8L293.0 1059.2L293.5 1059.5L294.0 1059.9L294.5 1060.2L295.0 1060.6L295.5 1060.9L296.0 1061.2L296.5 1061.5L297.0 1061.7L297.5 1062.0L298.0 1062.2L298.5 1062.3L299.0 1062.5L299.5 1062.6L300.0 1062.7L300.5 1062.8L301.0 1062.8L301.5 1062.8L302.0 1062.8L302.5 1062.8L303.0 1062.8L303.5 1062.8L304.0 1062.8L304.5 1062.8L305.0 1062.8L305.5 1062.8L306.0 1062.8L306.5 1062.8L307.0 1062.8L307.5 1062.8L308.0 1062.8L308.5 1062.8L309.0 1062.8L309.5 1062.8L310.0 1062.8L310.5 1062.8L311.0 1062.8L311.5 1062.8L312.0 1062.8L312.5 1062.8L313.0 1062.8L313.5 1062.8L314.0 1062.8L314.5 1062.8L315.0 1062.8L315.5 1062.8L316.0 1062.8L316.5 1062.8L317.0 1062.8L317.5 1062.8L318.0 1062.8L318.5 1062.8L319.0 1062.8L319.5 1062.8L320.0 1062.8L320.5 1062.8L321.0 1062.8L321.5 1062.8L322.0 1062.8L322.5 1062.8L323.0 1062.8L323.5 1062.8L324.0 1062.8L324.5 1062.8L325.0 1062.8L325.5 1062.8L326.0 1062.8L326.5 1062.8L327.0 1062.8L327.5 1062.8L328.0 1062.8L328.5 1062.8L329.0 1062.8L329.5 1062.8L330.0 1062.8L330.5 1062.8L331.0 1062.8L331.5 1062.8L332.0 1062.8L332.5 1062.8L333.0 1062.8L333.5 1062.8L334.0 1062.8L334.5 1062.8L335.0 1062.8L335.5 1062.8L336.0 1062.8L336.5 1062.8L337.0 1062.6L337.5 1062.4L338.0 1062.2L338.5 1061.9L339.0 1061.7L339.5 1061.3L340.0 1061.0L340.5 1060.5L341.0 1059.7L341.5 1058.7L342.0 1057.4L342.5 1056.0L343.0 1054.5L343.5 1052.9L344.0 1051.3L344.5 1049.6L345.0 1048.0L345.5 1046.3L346.0 1044.4L346.5 1042.3L347.0 1040.1L347.5 1037.8L348.0 1035.6L348.5 1033.4L349.0 1031.4L349.5 1029.6L350.0 1028.0L350.5 1026.6L351.0 1025.2L351.5 1023.9L352.0 1022.6L352.5 1021.5L353.0 1020.5L353.5 1019.6L354.0 1019.0L354.5 1018.5L355.0 1018.0L355.5 1017.5L356.0 1017.2L356.5 1016.9L357.0 1016.8L357.5 1016.9L358.0 1017.1L358.5 1017.4L359.0 1017.8L359.5 1018.3L360.0 1018.9L360.5 1019.4L361.0 1020.0L361.5 1020.6L362.0 1021.4L362.5 1022.2L363.0 1023.1L363.5 1024.1L364.0 1025.0L364.5 1025.9L365.0 1026.7L365.5 1027.4L366.0 1028.0L366.5 1028.5L367.0 1029.0L367.5 1029.4L368.0 1029.9L368.5 1030.2L369.0 1030.6L369.5 1030.8L370.0 1031.0L370.5 1031.0L371.0 1030.8L371.5 1030.4L372.0 1029.7L372.5 1028.9L373.0 1028.0L373.5 1027.0L374.0 1026.0L374.5 1025.0L375.0 1024.0L375.5 1023.0L376.0 1021.9L376.5 1020.7L377.0 1019.4L377.5 1018.2L378.0 1017.0L378.5 1015.9L379.0 1014.9L379.5 1014.1L380.0 1013.4L380.5 1012.7L381.0 1012.0L381.5 1011.3L382.0 1010.7L382.5 1010.1L383.0 1009.5L383.5 1008.9L384.0 1008.4L384.5 1007.9L385.0 1007.4L385.5 1007.0L386.0 1006.5L386.5 1006.1L387.0 1005.7L387.5 1005.4L388.0 1005.1L388.5 1004.8L389.0 1004.6L389.5 1004.4L390.0 1004.2L390.5 1003.9L391.0 1003.6L391.5 1003.3L392.0 1002.9L392.5 1002.4L393.0 1001.5L393.5 1000.1L394.0 998.4L394.5 996.4L395.0 994.2L395.5 992.0L396.0 989.8L396.5 987.8L397.0 986.0L397.5 984.6L398.0 983.6L398.5 982.9L399.0 982.1L399.5 981.4L400.0 980.7L400.5 980.1L401.0 979.5L401.5 979.1L402.0 978.7L402.5 978.4L403.0 978.2L403.5 978.2L404.0 978.4L404.5 978.8L405.0 979.5L405.5 980.2L406.0 981.1L406.5 982.0L407.0 983.2L407.5 984.8L408.0 986.8L408.5 989.1L409.0 991.5L409.5 994.0L410.0 996.5L410.5 998.9L411.0 1001.0L411.5 1003.0L412.0 1005.1L412.5 1007.2L413.0 1009.2L413.5 1011.2L414.0 1013.2L414.5 1015.1L415.0 1016.9L415.5 1018.5L416.0 1020.0L416.5 1021.5L417.0 1023.0L417.5 1024.5L418.0 1026.0L418.5 1027.4L419.0 1028.6L419.5 1029.6L420.0 1030.4L420.5 1030.9L421.0 1031.0L421.5 1030.5L422.0 1029.4L422.5 1027.9L423.0 1026.1L423.5 1024.1L424.0 1022.0L424.5 1020.0L425.0 1018.0L425.5 1015.6L426.0 1013.1L426.5 1010.5L427.0 1007.7L427.5 1005.0L428.0 1002.2L428.5 999.5L429.0 996.9L429.5 994.0L430.0 991.1L430.5 988.1L431.0 985.1L431.5 982.0L432.0 979.1L432.5 976.2L433.0 973.4L433.5 970.9L434.0 968.5L434.5 966.4L435.0 964.6L435.5 963.1L436.0 961.6L436.5 960.1L437.0 958.7L437.5 957.3L438.0 956.1L438.5 955.0L439.0 954.0L439.5 953.3L440.0 952.8L440.5 952.5L441.0 952.6L441.5 952.9L442.0 953.6L442.5 954.6L443.0 955.7L443.5 957.1L444.0 958.6L444.5 960.2L445.0 961.9L445.5 963.6L446.0 965.3L446.5 967.1L447.0 969.1L447.5 971.4L448.0 973.9L448.5 976.6L449.0 979.5L449.5 982.5L450.0 985.5L450.5 988.6L451.0 991.6L451.5 994.5L452.0 997.3L452.5 999.9L453.0 1002.4L453.5 1004.8L454.0 1007.3L454.5 1009.7L455.0 1012.2L455.5 1014.6L456.0 1017.0L456.5 1019.3L457.0 1021.5L457.5 1023.5L458.0 1025.5L458.5 1027.3L459.0 1028.9L459.5 1030.3L460.0 1031.6L460.5 1033.0L461.0 1034.4L461.5 1035.7L462.0 1036.9L462.5 1038.0L463.0 1039.0L463.5 1039.8L464.0 1040.5L464.5 1040.9L465.0 1041.0L465.5 1040.9L466.0 1040.5L466.5 1039.9L467.0 1039.1L467.5 1038.2L468.0 1037.1L468.5 1035.8L469.0 1034.5L469.5 1033.0L470.0 1031.5L470.5 1030.0L471.0 1028.1L471.5 1025.7L472.0 1022.7L472.5 1019.4L473.0 1015.7L473.5 1011.9L474.0 1007.9L474.5 1003.9L475.0 999.9L475.5 996.1L476.0 992.6L476.5 989.1L477.0 985.5L477.5 981.8L478.0 978.0L478.5 974.1L479.0 970.4L479.5 966.6L480.0 963.1L480.5 959.7L481.0 956.5L481.5 953.6L482.0 951.1L482.5 948.9L483.0 947.0L483.5 945.1L484.0 943.2L484.5 941.3L485.0 939.6L485.5 937.9L486.0 936.4L486.5 935.0L487.0 933.8L487.5 932.8L488.0 932.1L488.5 931.7L489.0 931.5L489.5 931.8L490.0 932.7L490.5 934.0L491.0 935.8L491.5 937.8L492.0 940.2L492.5 942.7L493.0 945.3L493.5 948.0L494.0 950.9L494.5 954.5L495.0 958.6L495.5 963.3L496.0 968.2L496.5 973.3L497.0 978.3L497.5 983.3L498.0 988.0L498.5 992.6L499.0 997.5L499.5 1002.4L500.0 1007.3L500.5 1012.1L501.0 1016.8L501.5 1021.1L502.0 1025.0L502.5 1028.5L503.0 1031.6L503.5 1034.7L504.0 1037.5L504.5 1040.3L505.0 1042.8L505.5 1045.2L506.0 1047.3L506.5 1049.2L507.0 1051.0L507.5 1052.6L508.0 1054.0L508.5 1055.4L509.0 1056.6L509.5 1057.7L510.0 1058.6L510.5 1059.5L511.0 1060.3L511.5 1061.0L512.0 1061.6L512.5 1062.0L513.0 1062.3L513.5 1062.5L514.0 1062.7L514.5 1062.8L515.0 1062.8L515.5 1062.8L516.0 1062.8L516.5 1062.8L517.0 1062.8L517.5 1062.8L518.0 1062.8L518.5 1062.8L519.0 1062.8L519.5 1062.8L520.0 1062.8L520.5 1062.8L521.0 1062.8L521.5 1062.8L522.0 1062.8L522.5 1062.8L523.0 1062.8L523.5 1062.8L524.0 1062.8L524.5 1062.8L525.0 1062.8L525.5 1062.8L526.0 1062.8L526.5 1062.8L527.0 1062.8L527.5 1062.8L528.0 1062.8L528.5 1062.8L529.0 1062.8L529.5 1062.8L530.0 1062.8L530.5 1062.8L531.0 1062.8L531.5 1062.8L532.0 1062.8L532.5 1062.8L533.0 1062.8L533.5 1062.8L534.0 1062.8L534.5 1062.8L535.0 1062.8L535.5 1062.8L536.0 1062.8L536.5 1062.8L537.0 1062.8L537.5 1062.8L538.0 1062.8L538.5 1062.8L539.0 1062.8L539.5 1062.8L540.0 1062.8L540.5 1062.8L541.0 1062.8L541.5 1062.8L542.0 1062.8L542.5 1062.8L543.0 1062.8L543.5 1062.8L544.0 1062.8L544.5 1062.8L545.0 1062.8L545.5 1062.8L546.0 1062.8L546.5 1062.8L547.0 1062.8L547.5 1062.8L548.0 1062.8L548.5 1062.8L549.0 1062.8L549.5 1062.8L550.0 1062.8L550.5 1062.8L551.0 1062.8L551.5 1062.8L552.0 1062.8L552.5 1062.8L553.0 1062.8L553.5 1062.8L554.0 1062.8L554.5 1062.8L555.0 1062.8L555.5 1062.8L556.0 1062.8L556.5 1062.8L557.0 1062.8L557.5 1062.8L558.0 1062.8L558.5 1062.8L559.0 1062.8L559.5 1062.8L560.0 1062.8L560.5 1062.8L561.0 1062.8L561.5 1062.8L562.0 1062.8L562.5 1062.8L563.0 1062.8L563.5 1062.8L564.0 1062.8L564.5 1062.8L565.0 1062.8L565.5 1062.8L566.0 1062.8L566.5 1062.8L567.0 1062.8L567.5 1062.8L568.0 1062.8L568.5 1062.7L569.0 1062.5L569.5 1062.4L570.0 1062.2L570.5 1062.0L571.0 1061.8L571.5 1061.6L572.0 1061.3L572.5 1060.8L573.0 1060.2L573.5 1059.3L574.0 1058.3L574.5 1057.2L575.0 1056.0L575.5 1054.7L576.0 1053.4L576.5 1052.1L577.0 1050.8L577.5 1049.5L578.0 1048.3L578.5 1047.2L579.0 1046.0L579.5 1044.8L580.0 1043.6L580.5 1042.3L581.0 1041.1L581.5 1039.8L582.0 1038.6L582.5 1037.4L583.0 1036.2L583.5 1035.1L584.0 1034.0L584.5 1033.0L585.0 1032.0L585.5 1031.1L586.0 1030.2L586.5 1029.4L587.0 1028.5L587.5 1027.7L588.0 1026.9L588.5 1026.2L589.0 1025.4L589.5 1024.7L590.0 1024.1L590.5 1023.4L591.0 1022.9L591.5 1022.3L592.0 1021.8L592.5 1021.3L593.0 1020.8L593.5 1020.3L594.0 1019.8L594.5 1019.4L595.0 1019.0L595.5 1018.6L596.0 1018.2L596.5 1017.8L597.0 1017.5L597.5 1017.2L598.0 1016.9L598.5 1016.6L599.0 1016.4L599.5 1016.1L600.0 1015.8L600.5 1015.6L601.0 1015.3L601.5 1015.1L602.0 1014.9L602.5 1014.8L603.0 1014.7L603.5 1014.6L604.0 1014.6L604.5 1014.7L605.0 1015.0L605.5 1015.3L606.0 1015.6L606.5 1016.1L607.0 1016.6L607.5 1017.1L608.0 1017.6L608.5 1018.2L609.0 1018.8L609.5 1019.4L610.0 1020.0L610.5 1020.8L611.0 1021.7L611.5 1022.6L612.0 1023.6L612.5 1024.7L613.0 1025.7L613.5 1026.9L614.0 1028.0L614.5 1029.1L615.0 1030.2L615.5 1031.3L616.0 1032.4L616.5 1033.6L617.0 1034.8L617.5 1036.1L618.0 1037.4L618.5 1038.7L619.0 1040.1L619.5 1041.4L620.0 1042.6L620.5 1043.9L621.0 1045.0L621.5 1046.0L622.0 1047.0L622.5 1047.8L623.0 1048.5L623.5 1049.3L624.0 1050.1L624.5 1050.8L625.0 1051.5L625.5 1052.2L626.0 1052.9L626.5 1053.5L627.0 1054.0L627.5 1054.5L628.0 1054.8L628.5 1055.1L629.0 1055.3L629.5 1055.3L630.0 1055.1L630.5 1054.8L631.0 1054.3L631.5 1053.6L632.0 1052.8L632.5 1051.9L633.0 1050.9L633.5 1049.9L634.0 1048.8L634.5 1047.7L635.0 1046.6L635.5 1045.6L636.0 1044.6L636.5 1043.4L637.0 1042.1L637.5 1040.8L638.0 1039.3L638.5 1037.9L639.0 1036.4L639.5 1034.9L640.0 1033.4L640.5 1032.0L641.0 1030.6L641.5 1029.4L642.0 1028.2L642.5 1027.2L643.0 1026.1L643.5 1025.0L644.0 1024.0L644.5 1023.0L645.0 1022.0L645.5 1021.2L646.0 1020.5L646.5 1019.9L647.0 1019.5L647.5 1019.2L648.0 1018.9L648.5 1018.6L649.0 1018.4L649.5 1018.2L650.0 1018.0L650.5 1017.9L651.0 1017.9L651.5 1017.9L652.0 1017.9L652.5 1018.0L653.0 1018.1L653.5 1018.2L654.0 1018.3L654.5 1018.4L655.0 1018.6L655.5 1018.8L656.0 1019.0L656.5 1019.2L657.0 1019.4L657.5 1019.7L658.0 1019.9L658.5 1020.2L659.0 1020.5L659.5 1020.8L660.0 1021.2L660.5 1021.7L661.0 1022.5L661.5 1023.5L662.0 1024.6L662.5 1025.8L663.0 1027.1L663.5 1028.3L664.0 1029.5L664.5 1030.7L665.0 1032.0L665.5 1033.3L666.0 1034.6L666.5 1036.1L667.0 1037.5L667.5 1039.0L668.0 1040.4L668.5 1041.8L669.0 1043.2L669.5 1044.5L670.0 1045.8L670.5 1047.0L671.0 1048.0L671.5 1049.1L672.0 1050.1L672.5 1051.2L673.0 1052.2L673.5 1053.2L674.0 1054.2L674.5 1055.1L675.0 1055.9L675.5 1056.7L676.0 1057.5L676.5 1058.1L677.0 1058.6L677.5 1059.1L678.0 1059.5L678.5 1059.9L679.0 1060.2L679.5 1060.6L680.0 1060.9L680.5 1061.2L681.0 1061.5L681.5 1061.7L682.0 1061.9L682.5 1062.1L683.0 1062.3L683.5 1062.4L684.0 1062.5L684.5 1062.6L685.0 1062.6L685.5 1062.7L686.0 1062.8L686.5 1062.8L687.0 1062.8L687.5 1062.8L688.0 1062.8L688.5 1062.8L689.0 1062.8L689.5 1062.8L690.0 1062.8L690.5 1062.8L691.0 1062.8L691.5 1062.8L692.0 1062.8L692.5 1062.8L693.0 1062.8L693.5 1062.8L694.0 1062.8L694.5 1062.8L695.0 1062.7L695.5 1062.7L696.0 1062.6L696.5 1062.6L697.0 1062.5L697.5 1062.4L698.0 1062.3L698.5 1062.2L699.0 1062.0L699.5 1061.8L700.0 1061.5L700.5 1061.2L701.0 1060.9L701.5 1060.6L702.0 1060.0L702.5 1059.0L703.0 1057.5L703.5 1055.6L704.0 1053.3L704.5 1050.7L705.0 1047.8L705.5 1044.8L706.0 1041.5L706.5 1038.1L707.0 1034.7L707.5 1031.2L708.0 1027.7L708.5 1024.1L709.0 1020.0L709.5 1015.5L710.0 1010.7L710.5 1005.6L711.0 1000.3L711.5 994.8L712.0 989.3L712.5 983.7L713.0 978.3L713.5 972.9L714.0 967.5L714.5 961.8L715.0 956.0L715.5 950.1L716.0 944.3L716.5 938.5L717.0 932.9L717.5 927.5L718.0 922.4L718.5 917.6L719.0 912.7L719.5 907.8L720.0 903.0L720.5 898.6L721.0 894.6L721.5 891.2L722.0 888.7L722.5 886.6L723.0 884.6L723.5 882.8L724.0 881.2L724.5 880.1L725.0 879.4L725.5 879.3L726.0 879.8L726.5 880.7L727.0 882.0L727.5 883.6L728.0 885.5L728.5 887.5L729.0 889.6L729.5 892.7L730.0 896.7L730.5 901.4L731.0 906.7L731.5 912.3L732.0 918.0L732.5 923.7L733.0 929.1L733.5 934.6L734.0 940.5L734.5 946.6L735.0 952.8L735.5 959.0L736.0 964.9L736.5 970.7L737.0 976.0L737.5 981.1L738.0 986.2L738.5 991.1L739.0 996.0L739.5 1000.7L740.0 1005.2L740.5 1009.5L741.0 1013.4L741.5 1017.0L742.0 1020.3L742.5 1023.4L743.0 1026.4L743.5 1029.2L744.0 1031.9L744.5 1034.3L745.0 1036.5L745.5 1038.4L746.0 1040.0L746.5 1041.4L747.0 1042.8L747.5 1044.2L748.0 1045.4L748.5 1046.4L749.0 1047.1L749.5 1047.5L750.0 1047.6L750.5 1047.2L751.0 1046.6L751.5 1045.6L752.0 1044.5L752.5 1043.1L753.0 1041.7L753.5 1040.2L754.0 1038.6L754.5 1037.0L755.0 1035.0L755.5 1032.7L756.0 1030.1L756.5 1027.4L757.0 1024.4L757.5 1021.5L758.0 1018.6L758.5 1015.7L759.0 1013.1L759.5 1010.7L760.0 1008.4L760.5 1006.1L761.0 1003.8L761.5 1001.5L762.0 999.2L762.5 997.1L763.0 995.1L763.5 993.2L764.0 991.6L764.5 990.2L765.0 989.1L765.5 988.0L766.0 986.9L766.5 985.8L767.0 984.9L767.5 984.1L768.0 983.4L768.5 982.9L769.0 982.6L769.5 982.6L770.0 982.9L770.5 983.6L771.0 984.4L771.5 985.5L772.0 986.7L772.5 988.0L773.0 989.4L773.5 990.7L774.0 992.0L774.5 993.5L775.0 995.2L775.5 997.1L776.0 999.0L776.5 1001.1L777.0 1003.3L777.5 1005.4L778.0 1007.6L778.5 1009.8L779.0 1011.9L779.5 1013.9L780.0 1015.7L780.5 1017.6L781.0 1019.5L781.5 1021.5L782.0 1023.4L782.5 1025.3L783.0 1027.1L783.5 1029.0L784.0 1030.8L784.5 1032.5L785.0 1034.1L785.5 1035.7L786.0 1037.2L786.5 1038.5L787.0 1039.9L787.5 1041.2L788.0 1042.5L788.5 1043.7L789.0 1044.8L789.5 1045.9L790.0 1046.8L790.5 1047.6L791.0 1048.3L791.5 1048.9L792.0 1049.5L792.5 1050.1L793.0 1050.6L793.5 1051.0L794.0 1051.2L794.5 1051.3L795.0 1051.1L795.5 1050.3L796.0 1049.3L796.5 1047.9L797.0 1046.2L797.5 1044.4L798.0 1042.4L798.5 1040.4L799.0 1038.2L799.5 1035.5L800.0 1032.2L800.5 1028.6L801.0 1024.5L801.5 1020.3L802.0 1015.8L802.5 1011.2L803.0 1006.6L803.5 1002.0L804.0 997.5L804.5 992.9L805.0 988.1L805.5 983.1L806.0 977.9L806.5 972.6L807.0 967.3L807.5 962.0L808.0 956.9L808.5 951.9L809.0 947.1L809.5 942.6L810.0 938.0L810.5 933.3L811.0 928.7L811.5 924.1L812.0 919.6L812.5 915.4L813.0 911.5L813.5 908.0L814.0 904.9L814.5 902.4L815.0 900.4L815.5 898.3L816.0 896.3L816.5 894.5L817.0 892.7L817.5 891.1L818.0 889.7L818.5 888.6L819.0 887.7L819.5 887.1L820.0 886.8L820.5 887.0L821.0 887.7L821.5 888.9L822.0 890.4L822.5 892.2L823.0 894.1L823.5 896.2L824.0 898.1L824.5 900.1L825.0 902.5L825.5 905.1L826.0 907.9L826.5 910.9L827.0 913.9L827.5 917.0L828.0 920.1L828.5 923.1L829.0 925.9L829.5 928.5L830.0 931.1L830.5 933.6L831.0 936.1L831.5 938.7L832.0 941.1L832.5 943.5L833.0 945.8L833.5 948.0L834.0 950.0L834.5 952.0L835.0 953.8L835.5 955.6L836.0 957.3L836.5 959.0L837.0 960.7L837.5 962.2L838.0 963.7L838.5 965.0L839.0 966.2L839.5 967.2L840.0 968.0L840.5 968.7L841.0 969.4L841.5 970.1L842.0 970.7L842.5 971.2L843.0 971.7L843.5 972.0L844.0 972.3L844.5 972.4L845.0 972.3L845.5 971.9L846.0 971.3L846.5 970.6L847.0 969.7L847.5 968.7L848.0 967.8L848.5 966.8L849.0 965.9L849.5 965.2L850.0 964.5L850.5 963.7L851.0 962.9L851.5 962.2L852.0 961.4L852.5 960.7L853.0 960.1L853.5 959.6L854.0 959.2L854.5 959.0L855.0 959.0L855.5 959.2L856.0 959.6L856.5 960.1L857.0 960.7L857.5 961.4L858.0 962.2L858.5 963.0L859.0 963.8L859.5 964.8L860.0 966.1L860.5 967.6L861.0 969.4L861.5 971.3L862.0 973.3L862.5 975.4L863.0 977.4L863.5 979.3L864.0 981.2L864.5 983.2L865.0 985.2L865.5 987.2L866.0 989.3L866.5 991.4L867.0 993.5L867.5 995.5L868.0 997.5L868.5 999.5L869.0 1001.4L869.5 1003.3L870.0 1005.3L870.5 1007.3L871.0 1009.3L871.5 1011.1L872.0 1012.9L872.5 1014.5L873.0 1015.9L873.5 1017.0L874.0 1018.1L874.5 1019.1L875.0 1020.1L875.5 1020.9L876.0 1021.6L876.5 1022.1L877.0 1022.3L877.5 1022.2L878.0 1021.8L878.5 1021.1L879.0 1020.1L879.5 1019.0L880.0 1017.7L880.5 1016.3L881.0 1014.9L881.5 1013.3L882.0 1011.2L882.5 1008.6L883.0 1005.7L883.5 1002.5L884.0 999.1L884.5 995.4L885.0 991.7L885.5 988.0L886.0 984.1L886.5 980.1L887.0 975.7L887.5 971.2L888.0 966.4L888.5 961.4L889.0 956.2L889.5 950.7L890.0 945.0L890.5 939.1L891.0 933.0L891.5 926.3L892.0 918.7L892.5 910.6L893.0 902.0L893.5 893.2L894.0 884.5L894.5 876.0L895.0 868.0L895.5 860.6L896.0 853.5L896.5 846.5L897.0 839.6L897.5 833.0L898.0 826.7L898.5 820.7L899.0 815.1L899.5 809.9L900.0 804.2L900.5 798.7L901.0 794.3L901.5 791.7L902.0 791.5L902.5 791.5L903.0 791.6L903.5 791.7L904.0 791.8L904.5 792.0L905.0 792.2L905.5 792.4L906.0 794.0L906.5 798.5L907.0 804.7L907.5 810.9L908.0 816.4L908.5 822.3L909.0 828.4L909.5 834.7L910.0 841.2L910.5 847.7L911.0 854.2L911.5 860.7L912.0 867.0L912.5 873.3L913.0 879.6L913.5 886.0L914.0 892.4L914.5 898.7L915.0 905.0L915.5 911.2L916.0 917.3L916.5 923.2L917.0 929.2L917.5 935.3L918.0 941.4L918.5 947.4L919.0 953.1L919.5 958.6L920.0 963.6L920.5 968.1L921.0 972.0L921.5 976.0L922.0 979.9L922.5 983.8L923.0 987.4L923.5 990.5L924.0 993.1L924.5 994.9L925.0 995.8L925.5 995.8L926.0 995.3L926.5 994.5L927.0 993.3L927.5 991.8L928.0 990.1L928.5 988.2L929.0 986.2L929.5 984.1L930.0 981.7L930.5 978.6L931.0 974.9L931.5 970.5L932.0 965.8L932.5 960.6L933.0 955.2L933.5 949.6L934.0 944.0L934.5 937.9L935.0 931.0L935.5 923.5L936.0 915.6L936.5 907.5L937.0 899.3L937.5 891.3L938.0 883.7L938.5 876.6L939.0 870.0L939.5 863.6L940.0 857.3L940.5 851.2L941.0 845.1L941.5 838.9L942.0 832.6L942.5 826.0L943.0 819.3L943.5 812.7L944.0 806.0L944.5 798.6L945.0 790.0L945.5 779.1L946.0 765.9L946.5 751.5L947.0 736.9L947.5 723.1L948.0 709.7L948.5 696.1L949.0 682.5L949.5 669.1L950.0 656.1L950.5 643.7L951.0 632.0L951.5 620.6L952.0 609.3L952.5 598.4L953.0 588.0L953.5 578.5L954.0 570.1L954.5 562.9L955.0 555.5L955.5 548.4L956.0 542.0L956.5 537.0L957.0 534.0L957.5 533.8L958.0 536.5L958.5 541.3L959.0 547.2L959.5 553.2L960.0 558.9L960.5 565.1L961.0 571.8L961.5 579.0L962.0 586.8L962.5 595.1L963.0 603.9L963.5 613.4L964.0 624.5L964.5 637.3L965.0 651.3L965.5 665.7L966.0 679.8L966.5 693.2L967.0 705.2L967.5 716.1L968.0 726.5L968.5 736.4L969.0 746.2L969.5 755.9L970.0 765.6L970.5 775.4L971.0 785.1L971.5 794.8L972.0 805.0L972.5 815.8L973.0 827.0L973.5 838.7L974.0 850.9L974.5 864.0L975.0 878.4L975.5 893.5L976.0 908.3L976.5 922.0L977.0 935.1L977.5 947.6L978.0 958.2L978.5 966.4L979.0 973.3L979.5 979.5L980.0 985.4L980.5 991.4L981.0 998.3L981.5 1006.2L982.0 1014.3L982.5 1021.4L983.0 1026.4L983.5 1028.7L984.0 1030.6L984.5 1031.8L985.0 1032.3L985.5 1032.3L986.0 1032.3L986.5 1032.3L987.0 1032.3L987.5 1032.3L988.0 1032.3L988.5 1032.3L989.0 1032.3L989.5 1032.3L990.0 1032.3L990.5 1032.3L991.0 1032.3L991.5 1031.6L992.0 1030.0L992.5 1027.9L993.0 1025.6L993.5 1022.6L994.0 1018.9L994.5 1014.8L995.0 1010.4L995.5 1005.9L996.0 1001.5L996.5 997.2L997.0 993.2L997.5 989.5L998.0 985.8L998.5 982.2L999.0 978.6L999.5 975.0L1000.0 971.4L1000.5 967.7L1001.0 963.9L1001.5 960.0L1002.0 956.0L1002.5 951.8L1003.0 947.6L1003.5 943.2L1004.0 938.9L1004.5 934.6L1005.0 930.3L1005.5 926.1L1006.0 922.0L1006.5 918.0L1007.0 914.0L1007.5 910.1L1008.0 906.2L1008.5 902.4L1009.0 898.5L1009.5 894.8L1010.0 891.0L1010.5 887.3L1011.0 883.7L1011.5 880.1L1012.0 876.6L1012.5 873.1L1013.0 869.5L1013.5 866.0L1014.0 862.6L1014.5 859.2L1015.0 855.9L1015.5 852.7L1016.0 849.6L1016.5 846.7L1017.0 843.9L1017.5 841.2L1018.0 838.5L1018.5 835.9L1019.0 833.4L1019.5 831.0L1020.0 828.8L1020.5 826.9L1021.0 825.2L1021.5 823.6L1022.0 822.0L1022.5 820.4L1023.0 818.9L1023.5 817.6L1024.0 816.5L1024.5 815.6L1025.0 815.1L1025.5 815.0L1026.0 815.2L1026.5 815.6L1027.0 816.2L1027.5 816.9L1028.0 817.7L1028.5 818.5L1029.0 819.3L1029.5 820.0L1030.0 820.7L1030.5 821.5L1031.0 822.4L1031.5 823.3L1032.0 824.1L1032.5 824.9L1033.0 825.6L1033.5 826.0L1034.0 826.3L1034.5 826.2L1035.0 825.8L1035.5 825.0L1036.0 824.0L1036.5 822.6L1037.0 821.0L1037.5 819.2L1038.0 817.3L1038.5 815.2L1039.0 813.0L1039.5 810.7L1040.0 808.2L1040.5 804.6L1041.0 800.4L1041.5 795.9L1042.0 791.9L1042.5 788.5L1043.0 785.4L1043.5 782.4L1044.0 779.5L1044.5 776.9L1045.0 774.5L1045.5 772.5L1046.0 770.9L1046.5 769.4L1047.0 767.9L1047.5 766.6L1048.0 765.5L1048.5 764.7L1049.0 764.2L1049.5 764.4L1050.0 765.8L1050.5 768.0L1051.0 771.1L1051.5 774.6L1052.0 778.4L1052.5 782.2L1053.0 786.2L1053.5 790.9L1054.0 796.2L1054.5 802.0L1055.0 808.3L1055.5 815.0L1056.0 822.1L1056.5 829.7L1057.0 838.5L1057.5 848.4L1058.0 858.8L1058.5 869.3L1059.0 879.5L1059.5 889.0L1060.0 898.1L1060.5 907.2L1061.0 916.1L1061.5 924.7L1062.0 932.8L1062.5 940.1L1063.0 946.5L1063.5 952.5L1064.0 958.2L1064.5 963.5L1065.0 968.3L1065.5 972.6L1066.0 976.3L1066.5 979.7L1067.0 983.0L1067.5 986.3L1068.0 989.4L1068.5 992.2L1069.0 994.6L1069.5 996.4L1070.0 997.6L1070.5 998.0L1071.0 997.8L1071.5 997.3L1072.0 996.5L1072.5 995.4L1073.0 994.1L1073.5 992.6L1074.0 991.0L1074.5 989.4L1075.0 987.6L1075.5 985.4L1076.0 982.4L1076.5 979.0L1077.0 975.1L1077.5 971.1L1078.0 967.0L1078.5 963.0L1079.0 959.3L1079.5 956.0L1080.0 952.8L1080.5 949.6L1081.0 946.4L1081.5 943.2L1082.0 940.1L1082.5 937.1L1083.0 934.0L1083.5 931.1L1084.0 928.1L1084.5 925.3L1085.0 922.5L1085.5 919.8L1086.0 917.2L1086.5 914.6L1087.0 912.1L1087.5 909.6L1088.0 907.2L1088.5 904.8L1089.0 902.5L1089.5 900.2L1090.0 898.0L1090.5 895.8L1091.0 893.6L1091.5 891.5L1092.0 889.4L1092.5 887.3L1093.0 885.3L1093.5 883.3L1094.0 881.3L1094.5 879.4L1095.0 877.5L1095.5 875.6L1096.0 873.8L1096.5 872.0L1097.0 870.2L1097.5 868.5L1098.0 866.7L1098.5 865.0L1099.0 863.4L1099.5 861.7L1100.0 860.1L1100.5 858.4L1101.0 856.8L1101.5 855.2L1102.0 853.6L1102.5 852.0L1103.0 850.5L1103.5 849.0L1104.0 847.5L1104.5 846.1L1105.0 844.8L1105.5 843.5L1106.0 842.3L1106.5 841.2L1107.0 840.0L1107.5 838.9L1108.0 837.9L1108.5 836.8L1109.0 835.8L1109.5 834.9L1110.0 833.9L1110.5 833.0L1111.0 832.1L1111.5 831.2L1112.0 830.3L1112.5 829.4L1113.0 828.5L1113.5 827.6L1114.0 826.6L1114.5 825.6L1115.0 824.6L1115.5 823.6L1116.0 822.7L1116.5 821.9L1117.0 821.2L1117.5 820.6L1118.0 820.1L1118.5 819.8L1119.0 819.7L1119.5 819.7L1120.0 819.8L1120.5 819.8L1121.0 819.9L1121.5 820.1L1122.0 820.2L1122.5 820.3L1123.0 820.4L1123.5 820.5L1124.0 820.6L1124.5 820.7L1125.0 820.8L1125.5 820.8L1126.0 820.7L1126.5 820.4L1127.0 819.9L1127.5 819.2L1128.0 818.4L1128.5 817.4L1129.0 816.3L1129.5 815.2L1130.0 814.0L1130.5 812.5L1131.0 810.6L1131.5 808.2L1132.0 805.6L1132.5 802.8L1133.0 799.9L1133.5 797.0L1134.0 794.1L1134.5 791.2L1135.0 788.1L1135.5 784.8L1136.0 781.3L1136.5 777.5L1137.0 773.3L1137.5 768.5L1138.0 762.5L1138.5 755.7L1139.0 748.3L1139.5 740.8L1140.0 733.6L1140.5 727.0L1141.0 721.1L1141.5 715.5L1142.0 710.0L1142.5 704.8L1143.0 699.8L1143.5 695.0"/>
<path class="c" stroke="#1a64e0" d="M176.5 775.0L177.0 771.8L177.5 765.9L178.0 756.3L178.5 748.0L179.0 743.1L179.5 739.3L180.0 736.1L180.5 732.8L181.0 728.9L181.5 723.9L182.0 717.3L182.5 709.5L183.0 700.5L183.5 690.4L184.0 679.4L184.5 667.5L185.0 651.7L185.5 633.3L186.0 615.5L186.5 601.6L187.0 589.8L187.5 578.6L188.0 568.2L188.5 559.0L189.0 551.1L189.5 544.9L190.0 540.3L190.5 536.3L191.0 532.6L191.5 529.4L192.0 526.8L192.5 525.0L193.0 524.2L193.5 524.7L194.0 526.5L194.5 529.4L195.0 533.2L195.5 537.5L196.0 542.0L196.5 547.8L197.0 555.9L197.5 565.5L198.0 576.3L198.5 587.7L199.0 599.2L199.5 610.2L200.0 620.4L200.5 631.1L201.0 642.2L201.5 653.3L202.0 664.2L202.5 674.3L203.0 683.3L203.5 690.9L204.0 697.3L204.5 703.1L205.0 708.5L205.5 713.4L206.0 718.0L206.5 722.3L207.0 726.4L207.5 730.3L208.0 733.9L208.5 737.2L209.0 740.2L209.5 743.2L210.0 746.1L210.5 749.0L211.0 752.1L211.5 755.3L212.0 758.8L212.5 762.6L213.0 766.7L213.5 771.1L214.0 775.6L214.5 780.3L215.0 785.1L215.5 790.0L216.0 795.0L216.5 800.0L217.0 805.0L217.5 810.1L218.0 815.4L218.5 821.1L219.0 827.3L219.5 834.0L220.0 841.8L220.5 850.8L221.0 860.7L221.5 871.2L222.0 882.2L222.5 893.2L223.0 904.0L223.5 914.3L224.0 923.9L224.5 933.2L225.0 942.6L225.5 951.9L226.0 960.9L226.5 969.5L227.0 977.7L227.5 985.2L228.0 992.1L228.5 998.7L229.0 1005.1L229.5 1011.2L230.0 1016.9L230.5 1022.2L231.0 1027.0L231.5 1031.2L232.0 1035.0L232.5 1038.7L233.0 1042.0L233.5 1045.1L234.0 1047.9L234.5 1050.2L235.0 1052.0L235.5 1053.5L236.0 1054.9L236.5 1056.2L237.0 1057.4L237.5 1058.5L238.0 1059.4L238.5 1060.1L239.0 1060.7L239.5 1061.1L240.0 1061.4L240.5 1061.6L241.0 1061.9L241.5 1062.1L242.0 1062.4L242.5 1062.5L243.0 1062.7L243.5 1062.8L244.0 1062.8L244.5 1062.8L245.0 1062.8L245.5 1062.8L246.0 1062.8L246.5 1062.8L247.0 1062.8L247.5 1062.8L248.0 1062.8L248.5 1062.8L249.0 1062.8L249.5 1062.8L250.0 1062.8L250.5 1062.8L251.0 1062.8L251.5 1062.8L252.0 1062.8L252.5 1062.7L253.0 1062.6L253.5 1062.5L254.0 1062.3L254.5 1062.1L255.0 1061.9L255.5 1061.6L256.0 1061.3L256.5 1060.9L257.0 1060.5L257.5 1060.1L258.0 1059.6L258.5 1059.1L259.0 1058.5L259.5 1057.9L260.0 1057.3L260.5 1056.7L261.0 1056.1L261.5 1055.4L262.0 1054.8L262.5 1054.1L263.0 1053.4L263.5 1052.8L264.0 1052.1L264.5 1051.4L265.0 1050.8L265.5 1050.1L266.0 1049.4L266.5 1048.8L267.0 1048.1L267.5 1047.5L268.0 1046.8L268.5 1046.1L269.0 1045.4L269.5 1044.8L270.0 1044.1L270.5 1043.4L271.0 1042.8L271.5 1042.3L272.0 1041.9L272.5 1041.4L273.0 1041.0L273.5 1040.6L274.0 1040.2L274.5 1039.7L275.0 1039.3L275.5 1038.9L276.0 1038.4L276.5 1037.9L277.0 1037.9L277.5 1038.4L278.0 1038.9L278.5 1039.3L279.0 1039.7L279.5 1040.2L280.0 1040.6L280.5 1041.0L281.0 1041.4L281.5 1041.9L282.0 1042.3L282.5 1042.8L283.0 1043.4L283.5 1044.1L284.0 1044.8L284.5 1045.4L285.0 1046.1L285.5 1046.8L286.0 1047.5L286.5 1048.1L287.0 1048.8L287.5 1049.4L288.0 1050.1L288.5 1050.8L289.0 1051.4L289.5 1052.1L290.0 1052.8L290.5 1053.4L291.0 1054.1L291.5 1054.8L292.0 1055.4L292.5 1056.1L293.0 1056.7L293.5 1057.3L294.0 1057.9L294.5 1058.5L295.0 1059.1L295.5 1059.6L296.0 1060.1L296.5 1060.5L297.0 1060.9L297.5 1061.3L298.0 1061.6L298.5 1061.9L299.0 1062.1L299.5 1062.3L300.0 1062.5L300.5 1062.6L301.0 1062.7L301.5 1062.8L302.0 1062.8L302.5 1062.8L303.0 1062.8L303.5 1062.8L304.0 1062.8L304.5 1062.8L305.0 1062.8L305.5 1062.8L306.0 1062.8L306.5 1062.8L307.0 1062.8L307.5 1062.8L308.0 1062.8L308.5 1062.8L309.0 1062.8L309.5 1062.8L310.0 1062.8L310.5 1062.8L311.0 1062.8L311.5 1062.8L312.0 1062.8L312.5 1062.8L313.0 1062.8L313.5 1062.8L314.0 1062.8L314.5 1062.8L315.0 1062.8L315.5 1062.8L316.0 1062.8L316.5 1062.8L317.0 1062.8L317.5 1062.8L318.0 1062.8L318.5 1062.8L319.0 1062.8L319.5 1062.8L320.0 1062.8L320.5 1062.8L321.0 1062.8L321.5 1062.8L322.0 1062.8L322.5 1062.8L323.0 1062.8L323.5 1062.8L324.0 1062.8L324.5 1062.8L325.0 1062.8L325.5 1062.8L326.0 1062.8L326.5 1062.8L327.0 1062.8L327.5 1062.8L328.0 1062.8L328.5 1062.8L329.0 1062.8L329.5 1062.8L330.0 1062.8L330.5 1062.8L331.0 1062.8L331.5 1062.8L332.0 1062.8L332.5 1062.8L333.0 1062.8L333.5 1062.8L334.0 1062.8L334.5 1062.8L335.0 1062.8L335.5 1062.8L336.0 1062.8L336.5 1062.6L337.0 1062.4L337.5 1062.1L338.0 1061.7L338.5 1061.3L339.0 1060.9L339.5 1060.5L340.0 1060.0L340.5 1059.5L341.0 1058.8L341.5 1058.0L342.0 1057.0L342.5 1056.0L343.0 1054.9L343.5 1053.8L344.0 1052.5L344.5 1051.3L345.0 1050.0L345.5 1048.6L346.0 1046.9L346.5 1045.1L347.0 1043.1L347.5 1041.1L348.0 1039.1L348.5 1037.1L349.0 1035.2L349.5 1033.5L350.0 1032.0L350.5 1030.6L351.0 1029.3L351.5 1028.0L352.0 1026.8L352.5 1025.7L353.0 1024.6L353.5 1023.7L354.0 1023.0L354.5 1022.3L355.0 1021.7L355.5 1021.0L356.0 1020.5L356.5 1020.2L357.0 1020.0L357.5 1020.1L358.0 1020.2L358.5 1020.6L359.0 1021.0L359.5 1021.4L360.0 1021.9L360.5 1022.5L361.0 1023.0L361.5 1023.6L362.0 1024.3L362.5 1025.2L363.0 1026.1L363.5 1027.0L364.0 1027.9L364.5 1028.8L365.0 1029.7L365.5 1030.4L366.0 1031.0L366.5 1031.5L367.0 1032.1L367.5 1032.6L368.0 1033.1L368.5 1033.5L369.0 1033.9L369.5 1034.2L370.0 1034.4L370.5 1034.4L371.0 1034.2L371.5 1033.8L372.0 1033.2L372.5 1032.4L373.0 1031.6L373.5 1030.6L374.0 1029.7L374.5 1028.8L375.0 1028.0L375.5 1027.2L376.0 1026.3L376.5 1025.3L377.0 1024.2L377.5 1023.2L378.0 1022.1L378.5 1021.1L379.0 1020.1L379.5 1019.2L380.0 1018.4L380.5 1017.7L381.0 1017.1L381.5 1016.7L382.0 1016.4L382.5 1016.1L383.0 1015.9L383.5 1015.7L384.0 1015.4L384.5 1015.3L385.0 1015.1L385.5 1014.9L386.0 1014.8L386.5 1014.6L387.0 1014.5L387.5 1014.4L388.0 1014.3L388.5 1014.2L389.0 1014.1L389.5 1014.1L390.0 1014.0L390.5 1013.9L391.0 1013.8L391.5 1013.7L392.0 1013.6L392.5 1013.5L393.0 1013.2L393.5 1012.8L394.0 1012.3L394.5 1011.7L395.0 1011.1L395.5 1010.5L396.0 1009.8L396.5 1009.1L397.0 1008.5L397.5 1008.0L398.0 1007.5L398.5 1006.9L399.0 1006.3L399.5 1005.7L400.0 1005.1L400.5 1004.6L401.0 1004.1L401.5 1003.8L402.0 1003.6L402.5 1003.6L403.0 1003.9L403.5 1004.4L404.0 1005.1L404.5 1006.0L405.0 1007.0L405.5 1008.0L406.0 1009.0L406.5 1010.1L407.0 1011.5L407.5 1013.1L408.0 1014.7L408.5 1016.4L409.0 1018.2L409.5 1019.8L410.0 1021.3L410.5 1022.8L411.0 1024.4L411.5 1026.0L412.0 1027.6L412.5 1029.2L413.0 1030.8L413.5 1032.3L414.0 1033.7L414.5 1035.0L415.0 1036.2L415.5 1037.3L416.0 1038.1L416.5 1038.8L417.0 1039.3L417.5 1039.9L418.0 1040.4L418.5 1040.8L419.0 1041.2L419.5 1041.6L420.0 1041.8L420.5 1042.0L421.0 1042.0L421.5 1041.7L422.0 1041.2L422.5 1040.3L423.0 1039.4L423.5 1038.3L424.0 1037.1L424.5 1036.0L425.0 1034.8L425.5 1033.4L426.0 1031.8L426.5 1030.2L427.0 1028.5L427.5 1026.8L428.0 1025.2L428.5 1023.7L429.0 1022.3L429.5 1020.8L430.0 1019.4L430.5 1017.9L431.0 1016.5L431.5 1015.0L432.0 1013.6L432.5 1012.3L433.0 1011.1L433.5 1009.9L434.0 1008.9L434.5 1008.0L435.0 1007.3L435.5 1006.6L436.0 1006.0L436.5 1005.4L437.0 1004.9L437.5 1004.4L438.0 1003.9L438.5 1003.4L439.0 1003.1L439.5 1002.8L440.0 1002.6L440.5 1002.5L441.0 1002.5L441.5 1002.7L442.0 1003.1L442.5 1003.6L443.0 1004.3L443.5 1005.0L444.0 1005.9L444.5 1006.8L445.0 1007.8L445.5 1008.8L446.0 1009.8L446.5 1010.8L447.0 1011.8L447.5 1012.8L448.0 1013.9L448.5 1015.1L449.0 1016.4L449.5 1017.7L450.0 1019.1L450.5 1020.6L451.0 1022.1L451.5 1023.6L452.0 1025.0L452.5 1026.4L453.0 1027.8L453.5 1029.1L454.0 1030.2L454.5 1031.4L455.0 1032.6L455.5 1033.7L456.0 1034.9L456.5 1036.1L457.0 1037.2L457.5 1038.2L458.0 1039.3L458.5 1040.2L459.0 1041.1L459.5 1041.9L460.0 1042.6L460.5 1043.2L461.0 1043.7L461.5 1044.3L462.0 1044.8L462.5 1045.3L463.0 1045.7L463.5 1046.1L464.0 1046.5L464.5 1046.7L465.0 1046.9L465.5 1047.0L466.0 1046.9L466.5 1046.7L467.0 1046.3L467.5 1045.8L468.0 1045.2L468.5 1044.5L469.0 1043.6L469.5 1042.8L470.0 1041.8L470.5 1040.9L471.0 1039.9L471.5 1039.0L472.0 1038.0L472.5 1036.8L473.0 1035.5L473.5 1034.1L474.0 1032.6L474.5 1031.0L475.0 1029.3L475.5 1027.6L476.0 1025.9L476.5 1024.3L477.0 1022.6L477.5 1021.1L478.0 1019.6L478.5 1018.1L479.0 1016.7L479.5 1015.1L480.0 1013.6L480.5 1012.1L481.0 1010.6L481.5 1009.2L482.0 1007.9L482.5 1006.7L483.0 1005.7L483.5 1004.9L484.0 1004.4L484.5 1003.8L485.0 1003.3L485.5 1002.8L486.0 1002.3L486.5 1001.9L487.0 1001.6L487.5 1001.3L488.0 1001.1L488.5 1001.0L489.0 1001.1L489.5 1001.4L490.0 1001.9L490.5 1002.6L491.0 1003.6L491.5 1004.6L492.0 1005.8L492.5 1007.1L493.0 1008.4L493.5 1009.7L494.0 1011.2L494.5 1013.0L495.0 1015.2L495.5 1017.6L496.0 1020.1L496.5 1022.7L497.0 1025.3L497.5 1027.7L498.0 1030.0L498.5 1032.2L499.0 1034.4L499.5 1036.6L500.0 1038.8L500.5 1040.9L501.0 1042.9L501.5 1044.8L502.0 1046.4L502.5 1047.9L503.0 1049.2L503.5 1050.5L504.0 1051.7L504.5 1052.8L505.0 1053.9L505.5 1054.9L506.0 1055.8L506.5 1056.7L507.0 1057.5L507.5 1058.2L508.0 1058.9L508.5 1059.6L509.0 1060.2L509.5 1060.7L510.0 1061.2L510.5 1061.7L511.0 1062.0L511.5 1062.3L512.0 1062.6L512.5 1062.8L513.0 1062.8L513.5 1062.8L514.0 1062.8L514.5 1062.8L515.0 1062.8L515.5 1062.8L516.0 1062.8L516.5 1062.8L517.0 1062.8L517.5 1062.8L518.0 1062.8L518.5 1062.8L519.0 1062.8L519.5 1062.8L520.0 1062.8L520.5 1062.8L521.0 1062.8L521.5 1062.8L522.0 1062.8L522.5 1062.8L523.0 1062.8L523.5 1062.8L524.0 1062.8L524.5 1062.8L525.0 1062.8L525.5 1062.8L526.0 1062.8L526.5 1062.8L527.0 1062.8L527.5 1062.8L528.0 1062.8L528.5 1062.8L529.0 1062.8L529.5 1062.8L530.0 1062.8L530.5 1062.8L531.0 1062.8L531.5 1062.8L532.0 1062.8L532.5 1062.8L533.0 1062.8L533.5 1062.8L534.0 1062.8L534.5 1062.8L535.0 1062.8L535.5 1062.8L536.0 1062.8L536.5 1062.8L537.0 1062.8L537.5 1062.8L538.0 1062.8L538.5 1062.8L539.0 1062.8L539.5 1062.8L540.0 1062.8L540.5 1062.8L541.0 1062.8L541.5 1062.8L542.0 1062.8L542.5 1062.8L543.0 1062.8L543.5 1062.8L544.0 1062.8L544.5 1062.8L545.0 1062.8L545.5 1062.8L546.0 1062.8L546.5 1062.8L547.0 1062.8L547.5 1062.8L548.0 1062.8L548.5 1062.8L549.0 1062.8L549.5 1062.8L550.0 1062.8L550.5 1062.8L551.0 1062.8L551.5 1062.8L552.0 1062.8L552.5 1062.8L553.0 1062.8L553.5 1062.8L554.0 1062.8L554.5 1062.8L555.0 1062.8L555.5 1062.8L556.0 1062.8L556.5 1062.8L557.0 1062.8L557.5 1062.8L558.0 1062.8L558.5 1062.8L559.0 1062.8L559.5 1062.8L560.0 1062.8L560.5 1062.8L561.0 1062.8L561.5 1062.8L562.0 1062.8L562.5 1062.8L563.0 1062.8L563.5 1062.8L564.0 1062.8L564.5 1062.8L565.0 1062.8L565.5 1062.8L566.0 1062.8L566.5 1062.7L567.0 1062.5L567.5 1062.3L568.0 1062.0L568.5 1061.7L569.0 1061.4L569.5 1061.0L570.0 1060.7L570.5 1060.3L571.0 1060.0L571.5 1059.6L572.0 1059.2L572.5 1058.8L573.0 1058.3L573.5 1057.8L574.0 1057.2L574.5 1056.7L575.0 1056.1L575.5 1055.5L576.0 1054.9L576.5 1054.2L577.0 1053.6L577.5 1053.0L578.0 1052.4L578.5 1051.8L579.0 1051.1L579.5 1050.4L580.0 1049.7L580.5 1049.0L581.0 1048.3L581.5 1047.6L582.0 1046.8L582.5 1046.1L583.0 1045.4L583.5 1044.7L584.0 1044.1L584.5 1043.5L585.0 1042.9L585.5 1042.3L586.0 1041.8L586.5 1041.2L587.0 1040.7L587.5 1040.1L588.0 1039.6L588.5 1039.1L589.0 1038.6L589.5 1038.1L590.0 1037.7L590.5 1037.3L591.0 1037.0L591.5 1036.7L592.0 1036.4L592.5 1036.2L593.0 1036.0L593.5 1035.8L594.0 1035.7L594.5 1035.7L595.0 1035.6L595.5 1035.6L596.0 1035.5L596.5 1035.5L597.0 1035.5L597.5 1035.5L598.0 1035.4L598.5 1035.4L599.0 1035.4L599.5 1035.4L600.0 1035.4L600.5 1035.4L601.0 1035.4L601.5 1035.4L602.0 1035.4L602.5 1035.4L603.0 1035.5L603.5 1035.5L604.0 1035.5L604.5 1035.6L605.0 1035.6L605.5 1035.6L606.0 1035.7L606.5 1035.9L607.0 1036.3L607.5 1036.8L608.0 1037.4L608.5 1038.0L609.0 1038.7L609.5 1039.5L610.0 1040.5L610.5 1041.5L611.0 1042.5L611.5 1043.5L612.0 1044.5L612.5 1045.4L613.0 1046.2L613.5 1047.1L614.0 1047.9L614.5 1048.8L615.0 1049.6L615.5 1050.5L616.0 1051.3L616.5 1052.1L617.0 1052.8L617.5 1053.6L618.0 1054.2L618.5 1054.8L619.0 1055.4L619.5 1055.9L620.0 1056.3L620.5 1056.6L621.0 1056.9L621.5 1057.2L622.0 1057.5L622.5 1057.8L623.0 1058.1L623.5 1058.4L624.0 1058.7L624.5 1058.9L625.0 1059.2L625.5 1059.4L626.0 1059.6L626.5 1059.8L627.0 1059.9L627.5 1060.1L628.0 1060.2L628.5 1060.3L629.0 1060.3L629.5 1060.4L630.0 1060.4L630.5 1060.4L631.0 1060.2L631.5 1060.0L632.0 1059.7L632.5 1059.4L633.0 1059.0L633.5 1058.6L634.0 1058.1L634.5 1057.6L635.0 1057.1L635.5 1056.6L636.0 1056.1L636.5 1055.5L637.0 1055.0L637.5 1054.5L638.0 1054.0L638.5 1053.5L639.0 1052.9L639.5 1052.3L640.0 1051.6L640.5 1051.0L641.0 1050.3L641.5 1049.7L642.0 1049.0L642.5 1048.4L643.0 1047.8L643.5 1047.3L644.0 1046.8L644.5 1046.4L645.0 1046.0L645.5 1045.6L646.0 1045.3L646.5 1044.9L647.0 1044.5L647.5 1044.2L648.0 1043.9L648.5 1043.7L649.0 1043.5L649.5 1043.4L650.0 1043.4L650.5 1043.4L651.0 1043.5L651.5 1043.5L652.0 1043.6L652.5 1043.7L653.0 1043.8L653.5 1043.9L654.0 1044.1L654.5 1044.3L655.0 1044.4L655.5 1044.6L656.0 1044.8L656.5 1045.0L657.0 1045.2L657.5 1045.4L658.0 1045.7L658.5 1045.9L659.0 1046.1L659.5 1046.4L660.0 1046.6L660.5 1046.9L661.0 1047.2L661.5 1047.6L662.0 1048.0L662.5 1048.4L663.0 1048.8L663.5 1049.3L664.0 1049.8L664.5 1050.3L665.0 1050.8L665.5 1051.3L666.0 1051.8L666.5 1052.3L667.0 1052.8L667.5 1053.3L668.0 1053.7L668.5 1054.1L669.0 1054.5L669.5 1054.9L670.0 1055.3L670.5 1055.7L671.0 1056.1L671.5 1056.5L672.0 1056.9L672.5 1057.3L673.0 1057.7L673.5 1058.0L674.0 1058.4L674.5 1058.7L675.0 1059.1L675.5 1059.4L676.0 1059.7L676.5 1060.0L677.0 1060.2L677.5 1060.4L678.0 1060.7L678.5 1060.9L679.0 1061.2L679.5 1061.4L680.0 1061.6L680.5 1061.8L681.0 1062.1L681.5 1062.3L682.0 1062.4L682.5 1062.6L683.0 1062.7L683.5 1062.8L684.0 1062.8L684.5 1062.8L685.0 1062.8L685.5 1062.8L686.0 1062.8L686.5 1062.8L687.0 1062.8L687.5 1062.8L688.0 1062.8L688.5 1062.8L689.0 1062.8L689.5 1062.8L690.0 1062.8L690.5 1062.8L691.0 1062.8L691.5 1062.8L692.0 1062.8L692.5 1062.8L693.0 1062.8L693.5 1062.8L694.0 1062.8L694.5 1062.8L695.0 1062.8L695.5 1062.8L696.0 1062.8L696.5 1062.8L697.0 1062.8L697.5 1062.8L698.0 1062.8L698.5 1062.8L699.0 1062.7L699.5 1062.6L700.0 1062.4L700.5 1062.2L701.0 1061.9L701.5 1061.7L702.0 1061.4L702.5 1061.1L703.0 1060.7L703.5 1060.4L704.0 1060.0L704.5 1059.5L705.0 1058.7L705.5 1057.6L706.0 1056.4L706.5 1055.0L707.0 1053.4L707.5 1051.7L708.0 1049.9L708.5 1048.1L709.0 1046.3L709.5 1044.5L710.0 1042.7L710.5 1041.0L711.0 1039.3L711.5 1037.5L712.0 1035.7L712.5 1033.8L713.0 1031.8L713.5 1029.8L714.0 1027.9L714.5 1025.9L715.0 1024.0L715.5 1022.1L716.0 1020.3L716.5 1018.5L717.0 1016.8L717.5 1014.9L718.0 1013.1L718.5 1011.3L719.0 1009.5L719.5 1007.8L720.0 1006.2L720.5 1004.7L721.0 1003.4L721.5 1002.3L722.0 1001.5L722.5 1000.6L723.0 999.8L723.5 999.0L724.0 998.4L724.5 997.9L725.0 997.6L725.5 997.5L726.0 997.7L726.5 998.2L727.0 999.0L727.5 999.9L728.0 1001.0L728.5 1002.2L729.0 1003.5L729.5 1004.7L730.0 1006.0L730.5 1007.4L731.0 1008.9L731.5 1010.7L732.0 1012.6L732.5 1014.6L733.0 1016.6L733.5 1018.7L734.0 1020.8L734.5 1022.9L735.0 1024.9L735.5 1026.7L736.0 1028.7L736.5 1030.6L737.0 1032.6L737.5 1034.6L738.0 1036.6L738.5 1038.6L739.0 1040.5L739.5 1042.3L740.0 1043.9L740.5 1045.5L741.0 1046.9L741.5 1048.1L742.0 1049.4L742.5 1050.5L743.0 1051.7L743.5 1052.8L744.0 1053.8L744.5 1054.8L745.0 1055.6L745.5 1056.3L746.0 1056.9L746.5 1057.4L747.0 1057.8L747.5 1058.2L748.0 1058.5L748.5 1058.8L749.0 1059.0L749.5 1059.2L750.0 1059.3L750.5 1059.3L751.0 1059.1L751.5 1058.8L752.0 1058.3L752.5 1057.8L753.0 1057.1L753.5 1056.4L754.0 1055.6L754.5 1054.8L755.0 1054.0L755.5 1053.3L756.0 1052.5L756.5 1051.8L757.0 1051.1L757.5 1050.4L758.0 1049.6L758.5 1048.8L759.0 1048.0L759.5 1047.1L760.0 1046.3L760.5 1045.5L761.0 1044.7L761.5 1044.0L762.0 1043.3L762.5 1042.7L763.0 1042.2L763.5 1041.7L764.0 1041.3L764.5 1040.9L765.0 1040.5L765.5 1040.1L766.0 1039.7L766.5 1039.3L767.0 1039.0L767.5 1038.8L768.0 1038.5L768.5 1038.4L769.0 1038.3L769.5 1038.3L770.0 1038.4L770.5 1038.5L771.0 1038.8L771.5 1039.1L772.0 1039.4L772.5 1039.8L773.0 1040.2L773.5 1040.7L774.0 1041.1L774.5 1041.6L775.0 1042.1L775.5 1042.5L776.0 1043.0L776.5 1043.5L777.0 1044.1L777.5 1044.8L778.0 1045.5L778.5 1046.2L779.0 1046.9L779.5 1047.7L780.0 1048.4L780.5 1049.2L781.0 1049.9L781.5 1050.6L782.0 1051.2L782.5 1051.8L783.0 1052.4L783.5 1052.9L784.0 1053.4L784.5 1053.9L785.0 1054.5L785.5 1055.0L786.0 1055.5L786.5 1056.0L787.0 1056.5L787.5 1056.9L788.0 1057.3L788.5 1057.7L789.0 1058.0L789.5 1058.2L790.0 1058.4L790.5 1058.5L791.0 1058.5L791.5 1058.5L792.0 1058.5L792.5 1058.5L793.0 1058.5L793.5 1058.5L794.0 1058.5L794.5 1058.3L795.0 1057.7L795.5 1056.8L796.0 1055.6L796.5 1054.3L797.0 1052.8L797.5 1051.2L798.0 1049.6L798.5 1048.1L799.0 1046.6L799.5 1045.1L800.0 1043.5L800.5 1041.7L801.0 1039.9L801.5 1038.1L802.0 1036.2L802.5 1034.2L803.0 1032.3L803.5 1030.4L804.0 1028.5L804.5 1026.7L805.0 1024.9L805.5 1023.2L806.0 1021.5L806.5 1019.7L807.0 1018.0L807.5 1016.3L808.0 1014.6L808.5 1012.9L809.0 1011.2L809.5 1009.6L810.0 1008.1L810.5 1006.6L811.0 1005.2L811.5 1003.9L812.0 1002.7L812.5 1001.5L813.0 1000.2L813.5 999.0L814.0 997.8L814.5 996.7L815.0 995.7L815.5 994.8L816.0 994.1L816.5 993.6L817.0 993.2L817.5 992.8L818.0 992.5L818.5 992.3L819.0 992.1L819.5 992.1L820.0 992.4L820.5 992.9L821.0 993.6L821.5 994.5L822.0 995.4L822.5 996.4L823.0 997.5L823.5 998.5L824.0 999.6L824.5 1001.0L825.0 1002.4L825.5 1004.0L826.0 1005.7L826.5 1007.4L827.0 1009.1L827.5 1010.7L828.0 1012.3L828.5 1013.8L829.0 1015.1L829.5 1016.4L830.0 1017.8L830.5 1019.1L831.0 1020.5L831.5 1021.8L832.0 1023.0L832.5 1024.2L833.0 1025.3L833.5 1026.4L834.0 1027.3L834.5 1028.2L835.0 1029.0L835.5 1029.7L836.0 1030.4L836.5 1031.1L837.0 1031.8L837.5 1032.4L838.0 1033.0L838.5 1033.6L839.0 1034.0L839.5 1034.4L840.0 1034.7L840.5 1035.0L841.0 1035.1L841.5 1035.3L842.0 1035.4L842.5 1035.5L843.0 1035.6L843.5 1035.7L844.0 1035.8L844.5 1035.8L845.0 1035.8L845.5 1035.8L846.0 1035.7L846.5 1035.6L847.0 1035.5L847.5 1035.4L848.0 1035.2L848.5 1035.1L849.0 1034.9L849.5 1034.6L850.0 1034.3L850.5 1033.9L851.0 1033.5L851.5 1033.1L852.0 1032.8L852.5 1032.5L853.0 1032.3L853.5 1032.2L854.0 1032.2L854.5 1032.4L855.0 1032.6L855.5 1033.0L856.0 1033.4L856.5 1033.8L857.0 1034.3L857.5 1034.8L858.0 1035.4L858.5 1035.9L859.0 1036.5L859.5 1037.1L860.0 1037.7L860.5 1038.5L861.0 1039.3L861.5 1040.1L862.0 1041.0L862.5 1041.9L863.0 1042.8L863.5 1043.6L864.0 1044.5L864.5 1045.3L865.0 1046.0L865.5 1046.8L866.0 1047.6L866.5 1048.4L867.0 1049.2L867.5 1050.0L868.0 1050.7L868.5 1051.5L869.0 1052.1L869.5 1052.7L870.0 1053.3L870.5 1053.7L871.0 1054.1L871.5 1054.4L872.0 1054.6L872.5 1054.8L873.0 1055.1L873.5 1055.3L874.0 1055.5L874.5 1055.6L875.0 1055.8L875.5 1055.9L876.0 1056.0L876.5 1056.0L877.0 1056.0L877.5 1055.8L878.0 1055.5L878.5 1055.1L879.0 1054.6L879.5 1054.0L880.0 1053.3L880.5 1052.6L881.0 1051.8L881.5 1051.0L882.0 1050.1L882.5 1049.3L883.0 1048.2L883.5 1046.9L884.0 1045.5L884.5 1043.9L885.0 1042.2L885.5 1040.4L886.0 1038.6L886.5 1036.6L887.0 1034.7L887.5 1032.7L888.0 1030.8L888.5 1028.9L889.0 1027.1L889.5 1025.1L890.0 1023.0L890.5 1020.7L891.0 1018.5L891.5 1016.1L892.0 1013.8L892.5 1011.6L893.0 1009.4L893.5 1007.4L894.0 1005.5L894.5 1003.9L895.0 1002.4L895.5 1001.3L896.0 1000.3L896.5 999.3L897.0 998.3L897.5 997.5L898.0 996.7L898.5 996.0L899.0 995.5L899.5 995.1L900.0 994.9L900.5 994.8L901.0 994.6L901.5 994.5L902.0 994.4L902.5 994.3L903.0 994.3L903.5 994.3L904.0 994.6L904.5 995.1L905.0 995.7L905.5 996.5L906.0 997.4L906.5 998.4L907.0 999.6L907.5 1000.7L908.0 1001.9L908.5 1003.1L909.0 1004.4L909.5 1005.9L910.0 1007.7L910.5 1009.8L911.0 1011.9L911.5 1014.2L912.0 1016.5L912.5 1018.8L913.0 1021.0L913.5 1023.1L914.0 1024.9L914.5 1026.6L915.0 1028.3L915.5 1030.0L916.0 1031.7L916.5 1033.3L917.0 1034.9L917.5 1036.3L918.0 1037.7L918.5 1038.9L919.0 1039.9L919.5 1040.7L920.0 1041.4L920.5 1042.0L921.0 1042.6L921.5 1043.1L922.0 1043.6L922.5 1044.1L923.0 1044.5L923.5 1044.9L924.0 1045.1L924.5 1045.3L925.0 1045.4L925.5 1045.4L926.0 1045.2L926.5 1045.0L927.0 1044.7L927.5 1044.2L928.0 1043.7L928.5 1043.1L929.0 1042.5L929.5 1041.8L930.0 1041.1L930.5 1040.3L931.0 1039.5L931.5 1038.7L932.0 1038.0L932.5 1037.2L933.0 1036.5L933.5 1035.7L934.0 1034.9L934.5 1034.1L935.0 1033.3L935.5 1032.4L936.0 1031.5L936.5 1030.6L937.0 1029.6L937.5 1028.5L938.0 1027.5L938.5 1026.3L939.0 1025.1L939.5 1023.9L940.0 1022.6L940.5 1021.3L941.0 1019.8L941.5 1018.1L942.0 1016.3L942.5 1014.2L943.0 1012.1L943.5 1009.8L944.0 1007.5L944.5 1005.1L945.0 1002.7L945.5 1000.3L946.0 997.9L946.5 995.6L947.0 993.4L947.5 991.3L948.0 989.1L948.5 986.8L949.0 984.4L949.5 982.0L950.0 979.7L950.5 977.5L951.0 975.5L951.5 973.7L952.0 972.1L952.5 970.9L953.0 970.0L953.5 969.1L954.0 968.2L954.5 967.4L955.0 966.6L955.5 965.9L956.0 965.3L956.5 964.8L957.0 964.4L957.5 964.1L958.0 963.9L958.5 963.9L959.0 964.1L959.5 964.4L960.0 964.9L960.5 965.6L961.0 966.4L961.5 967.3L962.0 968.3L962.5 969.5L963.0 970.7L963.5 971.9L964.0 973.3L964.5 975.4L965.0 978.2L965.5 981.5L966.0 985.2L966.5 989.0L967.0 993.0L967.5 996.7L968.0 1000.1L968.5 1003.2L969.0 1006.3L969.5 1009.4L970.0 1012.4L970.5 1015.5L971.0 1018.4L971.5 1021.3L972.0 1024.1L972.5 1026.7L973.0 1029.1L973.5 1031.4L974.0 1033.4L974.5 1035.4L975.0 1037.4L975.5 1039.4L976.0 1041.2L976.5 1043.0L977.0 1044.6L977.5 1046.1L978.0 1047.4L978.5 1048.6L979.0 1049.5L979.5 1050.2L980.0 1050.9L980.5 1051.6L981.0 1052.3L981.5 1053.0L982.0 1053.6L982.5 1054.1L983.0 1054.7L983.5 1055.1L984.0 1055.6L984.5 1055.9L985.0 1056.2L985.5 1056.5L986.0 1056.7L986.5 1056.8L987.0 1056.8L987.5 1056.7L988.0 1056.5L988.5 1056.1L989.0 1055.7L989.5 1055.2L990.0 1054.6L990.5 1054.0L991.0 1053.3L991.5 1052.6L992.0 1051.9L992.5 1051.2L993.0 1050.5L993.5 1049.8L994.0 1049.1L994.5 1048.3L995.0 1047.5L995.5 1046.7L996.0 1045.8L996.5 1044.8L997.0 1043.9L997.5 1043.0L998.0 1042.1L998.5 1041.2L999.0 1040.4L999.5 1039.6L1000.0 1038.9L1000.5 1038.3L1001.0 1037.7L1001.5 1037.1L1002.0 1036.5L1002.5 1035.9L1003.0 1035.4L1003.5 1034.9L1004.0 1034.3L1004.5 1033.8L1005.0 1033.4L1005.5 1032.9L1006.0 1032.4L1006.5 1032.0L1007.0 1031.5L1007.5 1031.1L1008.0 1030.7L1008.5 1030.3L1009.0 1029.9L1009.5 1029.6L1010.0 1029.2L1010.5 1028.8L1011.0 1028.5L1011.5 1028.1L1012.0 1027.8L1012.5 1027.5L1013.0 1027.1L1013.5 1026.8L1014.0 1026.5L1014.5 1026.2L1015.0 1025.9L1015.5 1025.6L1016.0 1025.3L1016.5 1025.1L1017.0 1024.8L1017.5 1024.5L1018.0 1024.3L1018.5 1024.0L1019.0 1023.8L1019.5 1023.6L1020.0 1023.4L1020.5 1023.2L1021.0 1023.0L1021.5 1022.8L1022.0 1022.6L1022.5 1022.5L1023.0 1022.3L1023.5 1022.2L1024.0 1022.0L1024.5 1021.9L1025.0 1021.8L1025.5 1021.6L1026.0 1021.5L1026.5 1021.4L1027.0 1021.3L1027.5 1021.1L1028.0 1021.0L1028.5 1020.8L1029.0 1020.7L1029.5 1020.5L1030.0 1020.4L1030.5 1020.2L1031.0 1020.0L1031.5 1019.8L1032.0 1019.6L1032.5 1019.3L1033.0 1019.1L1033.5 1018.7L1034.0 1018.3L1034.5 1017.9L1035.0 1017.3L1035.5 1016.7L1036.0 1016.0L1036.5 1015.3L1037.0 1014.6L1037.5 1013.9L1038.0 1013.2L1038.5 1012.5L1039.0 1011.8L1039.5 1011.2L1040.0 1010.7L1040.5 1010.2L1041.0 1009.9L1041.5 1009.5L1042.0 1009.1L1042.5 1008.8L1043.0 1008.4L1043.5 1008.1L1044.0 1007.8L1044.5 1007.5L1045.0 1007.3L1045.5 1007.1L1046.0 1007.0L1046.5 1006.9L1047.0 1006.9L1047.5 1007.0L1048.0 1007.2L1048.5 1007.5L1049.0 1007.8L1049.5 1008.2L1050.0 1008.7L1050.5 1009.3L1051.0 1009.9L1051.5 1010.5L1052.0 1011.1L1052.5 1011.8L1053.0 1012.5L1053.5 1013.5L1054.0 1014.7L1054.5 1016.2L1055.0 1017.8L1055.5 1019.6L1056.0 1021.4L1056.5 1023.3L1057.0 1025.2L1057.5 1027.0L1058.0 1028.7L1058.5 1030.3L1059.0 1031.8L1059.5 1033.4L1060.0 1035.1L1060.5 1036.7L1061.0 1038.3L1061.5 1039.8L1062.0 1041.2L1062.5 1042.5L1063.0 1043.7L1063.5 1044.7L1064.0 1045.5L1064.5 1046.3L1065.0 1047.0L1065.5 1047.7L1066.0 1048.4L1066.5 1049.1L1067.0 1049.7L1067.5 1050.3L1068.0 1050.8L1068.5 1051.2L1069.0 1051.5L1069.5 1051.8L1070.0 1051.9L1070.5 1052.0L1071.0 1051.9L1071.5 1051.5L1072.0 1050.9L1072.5 1050.2L1073.0 1049.3L1073.5 1048.3L1074.0 1047.3L1074.5 1046.1L1075.0 1045.0L1075.5 1043.9L1076.0 1042.9L1076.5 1042.0L1077.0 1041.1L1077.5 1040.4L1078.0 1039.7L1078.5 1039.0L1079.0 1038.3L1079.5 1037.6L1080.0 1036.9L1080.5 1036.2L1081.0 1035.5L1081.5 1034.8L1082.0 1034.2L1082.5 1033.5L1083.0 1032.9L1083.5 1032.4L1084.0 1031.8L1084.5 1031.3L1085.0 1030.8L1085.5 1030.3L1086.0 1029.9L1086.5 1029.5L1087.0 1029.1L1087.5 1028.8L1088.0 1028.4L1088.5 1028.0L1089.0 1027.7L1089.5 1027.4L1090.0 1027.0L1090.5 1026.7L1091.0 1026.4L1091.5 1026.1L1092.0 1025.9L1092.5 1025.6L1093.0 1025.3L1093.5 1025.0L1094.0 1024.8L1094.5 1024.5L1095.0 1024.3L1095.5 1024.1L1096.0 1023.8L1096.5 1023.6L1097.0 1023.4L1097.5 1023.2L1098.0 1023.0L1098.5 1022.7L1099.0 1022.5L1099.5 1022.3L1100.0 1022.1L1100.5 1021.8L1101.0 1021.6L1101.5 1021.4L1102.0 1021.2L1102.5 1020.9L1103.0 1020.7L1103.5 1020.5L1104.0 1020.3L1104.5 1020.2L1105.0 1020.0L1105.5 1019.8L1106.0 1019.7L1106.5 1019.5L1107.0 1019.4L1107.5 1019.3L1108.0 1019.2L1108.5 1019.1L1109.0 1019.1L1109.5 1019.0L1110.0 1019.0L1110.5 1019.0L1111.0 1019.0L1111.5 1019.0L1112.0 1019.0L1112.5 1019.0L1113.0 1019.0L1113.5 1019.1L1114.0 1019.1L1114.5 1019.1L1115.0 1019.1L1115.5 1019.1L1116.0 1019.2L1116.5 1019.2L1117.0 1019.2L1117.5 1019.2L1118.0 1019.3L1118.5 1019.3L1119.0 1019.3L1119.5 1019.3L1120.0 1019.3L1120.5 1019.4L1121.0 1019.4L1121.5 1019.4L1122.0 1019.4L1122.5 1019.4L1123.0 1019.4L1123.5 1019.4L1124.0 1019.4L1124.5 1019.4L1125.0 1019.4L1125.5 1019.4L1126.0 1019.4L1126.5 1019.3L1127.0 1019.3L1127.5 1019.3L1128.0 1019.3L1128.5 1019.2L1129.0 1019.2L1129.5 1019.2L1130.0 1019.1L1130.5 1019.1L1131.0 1019.0L1131.5 1018.9L1132.0 1018.5L1132.5 1018.0L1133.0 1017.3L1133.5 1016.5L1134.0 1015.5L1134.5 1014.5L1135.0 1013.4L1135.5 1012.3L1136.0 1011.2L1136.5 1010.2L1137.0 1009.2L1137.5 1008.1L1138.0 1006.9L1138.5 1005.6L1139.0 1004.4L1139.5 1003.0L1140.0 1001.7L1140.5 1000.3L1141.0 998.9L1141.5 997.5L1142.0 996.2L1142.5 994.8L1143.0 993.4L1143.5 992.0"/>
<path class="c" stroke="#2aa264" d="M177.0 1062.8L177.5 1062.8L178.0 1062.8L178.5 1062.8L179.0 1062.8L179.5 1062.8L180.0 1062.8L180.5 1062.8L181.0 1062.8L181.5 1062.8L182.0 1062.8L182.5 1062.8L183.0 1062.8L183.5 1062.8L184.0 1062.8L184.5 1062.8L185.0 1062.8L185.5 1062.8L186.0 1062.8L186.5 1062.8L187.0 1062.8L187.5 1062.8L188.0 1062.8L188.5 1062.8L189.0 1062.8L189.5 1062.8L190.0 1062.8L190.5 1062.8L191.0 1062.8L191.5 1062.8L192.0 1062.8L192.5 1062.8L193.0 1062.8L193.5 1062.8L194.0 1062.8L194.5 1062.8L195.0 1062.8L195.5 1062.8L196.0 1062.8L196.5 1062.8L197.0 1062.8L197.5 1062.8L198.0 1062.8L198.5 1062.8L199.0 1062.8L199.5 1062.8L200.0 1062.8L200.5 1062.8L201.0 1062.8L201.5 1062.8L202.0 1062.8L202.5 1062.8L203.0 1062.8L203.5 1062.8L204.0 1062.8L204.5 1062.8L205.0 1062.8L205.5 1062.8L206.0 1062.8L206.5 1062.8L207.0 1062.8L207.5 1062.8L208.0 1062.8L208.5 1062.8L209.0 1062.8L209.5 1062.8L210.0 1062.8L210.5 1062.8L211.0 1062.8L211.5 1062.8L212.0 1062.8L212.5 1062.8L213.0 1062.8L213.5 1062.8L214.0 1062.8L214.5 1062.8L215.0 1062.8L215.5 1062.8L216.0 1062.8L216.5 1062.8L217.0 1062.8L217.5 1062.8L218.0 1062.8L218.5 1062.8L219.0 1062.8L219.5 1062.8L220.0 1062.8L220.5 1062.8L221.0 1062.8L221.5 1062.8L222.0 1062.8L222.5 1062.8L223.0 1062.8L223.5 1062.8L224.0 1062.8L224.5 1062.8L225.0 1062.8L225.5 1062.8L226.0 1062.8L226.5 1062.8L227.0 1062.8L227.5 1062.8L228.0 1062.8L228.5 1062.8L229.0 1062.8L229.5 1062.8L230.0 1062.8L230.5 1062.8L231.0 1062.8L231.5 1062.8L232.0 1062.8L232.5 1062.8L233.0 1062.8L233.5 1062.8L234.0 1062.8L234.5 1062.8L235.0 1062.8L235.5 1062.8L236.0 1062.8L236.5 1062.8L237.0 1062.8L237.5 1062.8L238.0 1062.8L238.5 1062.8L239.0 1062.8L239.5 1062.8L240.0 1062.8L240.5 1062.8L241.0 1062.8L241.5 1062.8L242.0 1062.8L242.5 1062.8L243.0 1062.8L243.5 1062.8L244.0 1062.8L244.5 1062.8L245.0 1062.8L245.5 1062.8L246.0 1062.8L246.5 1062.8L247.0 1062.8L247.5 1062.8L248.0 1062.8L248.5 1062.8L249.0 1062.8L249.5 1062.8L250.0 1062.8L250.5 1062.8L251.0 1062.8L251.5 1062.8L252.0 1062.7L252.5 1062.5L253.0 1062.3L253.5 1062.1L254.0 1061.7L254.5 1061.3L255.0 1060.9L255.5 1060.4L256.0 1059.9L256.5 1059.1L257.0 1058.3L257.5 1057.6L258.0 1056.7L258.5 1055.6L259.0 1054.5L259.5 1053.5L260.0 1052.4L260.5 1051.3L261.0 1050.1L261.5 1048.8L262.0 1047.6L262.5 1046.3L263.0 1045.1L263.5 1043.9L264.0 1042.6L264.5 1041.4L265.0 1040.1L265.5 1038.9L266.0 1037.6L266.5 1036.4L267.0 1035.1L267.5 1033.9L268.0 1032.6L268.5 1031.4L269.0 1030.1L269.5 1028.9L270.0 1027.6L270.5 1026.4L271.0 1025.2L271.5 1024.3L272.0 1023.4L272.5 1022.6L273.0 1021.8L273.5 1021.0L274.0 1020.2L274.5 1019.4L275.0 1018.6L275.5 1017.8L276.0 1016.9L276.5 1016.0L277.0 1016.0L277.5 1016.9L278.0 1017.8L278.5 1018.6L279.0 1019.4L279.5 1020.2L280.0 1021.0L280.5 1021.8L281.0 1022.6L281.5 1023.4L282.0 1024.3L282.5 1025.2L283.0 1026.4L283.5 1027.6L284.0 1028.9L284.5 1030.1L285.0 1031.4L285.5 1032.6L286.0 1033.9L286.5 1035.1L287.0 1036.4L287.5 1037.6L288.0 1038.9L288.5 1040.1L289.0 1041.4L289.5 1042.6L290.0 1043.9L290.5 1045.1L291.0 1046.3L291.5 1047.6L292.0 1048.8L292.5 1050.1L293.0 1051.3L293.5 1052.4L294.0 1053.5L294.5 1054.5L295.0 1055.6L295.5 1056.7L296.0 1057.6L296.5 1058.3L297.0 1059.1L297.5 1059.9L298.0 1060.4L298.5 1060.9L299.0 1061.3L299.5 1061.7L300.0 1062.1L300.5 1062.3L301.0 1062.5L301.5 1062.7L302.0 1062.8L302.5 1062.8L303.0 1062.8L303.5 1062.8L304.0 1062.8L304.5 1062.8L305.0 1062.8L305.5 1062.8L306.0 1062.8L306.5 1062.8L307.0 1062.8L307.5 1062.8L308.0 1062.8L308.5 1062.8L309.0 1062.8L309.5 1062.8L310.0 1062.8L310.5 1062.8L311.0 1062.8L311.5 1062.8L312.0 1062.8L312.5 1062.8L313.0 1062.8L313.5 1062.8L314.0 1062.8L314.5 1062.8L315.0 1062.8L315.5 1062.8L316.0 1062.8L316.5 1062.8L317.0 1062.8L317.5 1062.8L318.0 1062.8L318.5 1062.8L319.0 1062.8L319.5 1062.8L320.0 1062.8L320.5 1062.8L321.0 1062.8L321.5 1062.8L322.0 1062.8L322.5 1062.8L323.0 1062.8L323.5 1062.8L324.0 1062.8L324.5 1062.8L325.0 1062.8L325.5 1062.8L326.0 1062.8L326.5 1062.8L327.0 1062.8L327.5 1062.8L328.0 1062.8L328.5 1062.8L329.0 1062.8L329.5 1062.8L330.0 1062.8L330.5 1062.8L331.0 1062.8L331.5 1062.8L332.0 1062.8L332.5 1062.8L333.0 1062.8L333.5 1062.8L334.0 1062.8L334.5 1062.7L335.0 1062.4L335.5 1062.1L336.0 1061.8L336.5 1061.4L337.0 1061.0L337.5 1060.5L338.0 1060.0L338.5 1059.3L339.0 1058.4L339.5 1057.2L340.0 1055.7L340.5 1054.1L341.0 1052.4L341.5 1050.6L342.0 1048.7L342.5 1046.8L343.0 1045.0L343.5 1043.0L344.0 1040.8L344.5 1038.4L345.0 1035.8L345.5 1033.3L346.0 1030.7L346.5 1028.2L347.0 1025.9L347.5 1023.8L348.0 1022.0L348.5 1020.4L349.0 1018.8L349.5 1017.2L350.0 1015.7L350.5 1014.3L351.0 1013.1L351.5 1011.9L352.0 1010.9L352.5 1010.1L353.0 1009.5L353.5 1009.0L354.0 1008.5L354.5 1008.1L355.0 1007.7L355.5 1007.4L356.0 1007.1L356.5 1007.0L357.0 1006.9L357.5 1007.0L358.0 1007.2L358.5 1007.7L359.0 1008.2L359.5 1008.9L360.0 1009.6L360.5 1010.3L361.0 1011.0L361.5 1011.8L362.0 1012.8L362.5 1013.9L363.0 1015.1L363.5 1016.4L364.0 1017.6L364.5 1018.9L365.0 1020.0L365.5 1021.1L366.0 1022.0L366.5 1022.9L367.0 1023.7L367.5 1024.6L368.0 1025.5L368.5 1026.3L369.0 1026.9L369.5 1027.4L370.0 1027.7L370.5 1027.8L371.0 1027.5L371.5 1026.8L372.0 1025.8L372.5 1024.7L373.0 1023.4L373.5 1022.2L374.0 1021.0L374.5 1019.8L375.0 1018.4L375.5 1016.9L376.0 1015.4L376.5 1013.8L377.0 1012.4L377.5 1011.1L378.0 1010.0L378.5 1009.0L379.0 1008.0L379.5 1007.0L380.0 1006.1L380.5 1005.1L381.0 1004.3L381.5 1003.5L382.0 1002.9L382.5 1002.4L383.0 1002.0L383.5 1001.8L384.0 1001.8L384.5 1001.7L385.0 1001.6L385.5 1001.6L386.0 1001.6L386.5 1001.5L387.0 1001.5L387.5 1001.5L388.0 1001.5L388.5 1001.5L389.0 1001.6L389.5 1001.8L390.0 1001.9L390.5 1002.1L391.0 1002.3L391.5 1002.4L392.0 1002.5L392.5 1002.5L393.0 1002.4L393.5 1002.3L394.0 1002.0L394.5 1001.7L395.0 1001.4L395.5 1001.0L396.0 1000.7L396.5 1000.3L397.0 1000.0L397.5 999.7L398.0 999.3L398.5 998.8L399.0 998.4L399.5 998.0L400.0 997.6L400.5 997.3L401.0 997.1L401.5 997.0L402.0 997.1L402.5 997.3L403.0 997.6L403.5 998.0L404.0 998.4L404.5 998.9L405.0 999.5L405.5 1000.3L406.0 1001.5L406.5 1003.0L407.0 1004.7L407.5 1006.5L408.0 1008.3L408.5 1010.0L409.0 1011.6L409.5 1013.2L410.0 1014.7L410.5 1016.3L411.0 1017.9L411.5 1019.6L412.0 1021.3L412.5 1023.1L413.0 1025.2L413.5 1027.4L414.0 1029.7L414.5 1031.9L415.0 1034.0L415.5 1035.7L416.0 1037.0L416.5 1038.1L417.0 1039.1L417.5 1040.1L418.0 1041.0L418.5 1041.9L419.0 1042.6L419.5 1043.2L420.0 1043.7L420.5 1043.9L421.0 1044.0L421.5 1043.8L422.0 1043.3L422.5 1042.6L423.0 1041.7L423.5 1040.8L424.0 1039.9L424.5 1039.0L425.0 1038.1L425.5 1037.1L426.0 1036.1L426.5 1035.0L427.0 1033.8L427.5 1032.6L428.0 1031.4L428.5 1030.2L429.0 1029.0L429.5 1027.7L430.0 1026.3L430.5 1024.9L431.0 1023.4L431.5 1021.9L432.0 1020.4L432.5 1018.9L433.0 1017.5L433.5 1016.1L434.0 1014.8L434.5 1013.5L435.0 1012.4L435.5 1011.3L436.0 1010.5L436.5 1009.7L437.0 1009.1L437.5 1008.5L438.0 1007.9L438.5 1007.4L439.0 1006.9L439.5 1006.5L440.0 1006.0L440.5 1005.6L441.0 1005.2L441.5 1004.8L442.0 1004.4L442.5 1003.9L443.0 1003.5L443.5 1003.0L444.0 1002.5L444.5 1002.0L445.0 1001.4L445.5 1000.8L446.0 1000.2L446.5 999.5L447.0 998.9L447.5 998.3L448.0 997.6L448.5 997.0L449.0 996.4L449.5 995.8L450.0 995.3L450.5 994.8L451.0 994.3L451.5 993.9L452.0 993.5L452.5 993.1L453.0 992.6L453.5 992.2L454.0 991.8L454.5 991.5L455.0 991.2L455.5 990.9L456.0 990.6L456.5 990.5L457.0 990.4L457.5 990.4L458.0 990.6L458.5 990.9L459.0 991.3L459.5 991.8L460.0 992.3L460.5 993.0L461.0 993.7L461.5 994.5L462.0 995.4L462.5 996.8L463.0 998.6L463.5 1000.7L464.0 1003.1L464.5 1005.5L465.0 1008.0L465.5 1010.3L466.0 1012.4L466.5 1014.4L467.0 1016.5L467.5 1018.7L468.0 1020.8L468.5 1022.8L469.0 1024.7L469.5 1026.4L470.0 1027.8L470.5 1028.9L471.0 1029.8L471.5 1030.6L472.0 1031.4L472.5 1032.1L473.0 1032.8L473.5 1033.3L474.0 1033.7L474.5 1033.9L475.0 1034.0L475.5 1033.9L476.0 1033.8L476.5 1033.6L477.0 1033.3L477.5 1033.0L478.0 1032.6L478.5 1032.2L479.0 1031.9L479.5 1031.5L480.0 1031.2L480.5 1030.9L481.0 1030.7L481.5 1030.4L482.0 1030.1L482.5 1029.7L483.0 1029.4L483.5 1029.1L484.0 1028.8L484.5 1028.5L485.0 1028.2L485.5 1028.0L486.0 1027.7L486.5 1027.6L487.0 1027.4L487.5 1027.3L488.0 1027.3L488.5 1027.4L489.0 1027.6L489.5 1028.0L490.0 1028.6L490.5 1029.2L491.0 1029.9L491.5 1030.7L492.0 1031.6L492.5 1032.4L493.0 1033.3L493.5 1034.2L494.0 1035.2L494.5 1036.4L495.0 1037.8L495.5 1039.3L496.0 1040.9L496.5 1042.5L497.0 1044.2L497.5 1045.8L498.0 1047.3L498.5 1048.6L499.0 1049.8L499.5 1050.8L500.0 1051.9L500.5 1052.8L501.0 1053.8L501.5 1054.7L502.0 1055.6L502.5 1056.4L503.0 1057.1L503.5 1057.8L504.0 1058.4L504.5 1058.9L505.0 1059.4L505.5 1059.8L506.0 1060.3L506.5 1060.7L507.0 1061.1L507.5 1061.5L508.0 1061.9L508.5 1062.2L509.0 1062.5L509.5 1062.7L510.0 1062.8L510.5 1062.8L511.0 1062.8L511.5 1062.8L512.0 1062.8L512.5 1062.8L513.0 1062.8L513.5 1062.8L514.0 1062.8L514.5 1062.8L515.0 1062.8L515.5 1062.8L516.0 1062.8L516.5 1062.8L517.0 1062.8L517.5 1062.8L518.0 1062.8L518.5 1062.8L519.0 1062.8L519.5 1062.8L520.0 1062.8L520.5 1062.8L521.0 1062.8L521.5 1062.8L522.0 1062.8L522.5 1062.8L523.0 1062.8L523.5 1062.8L524.0 1062.8L524.5 1062.8L525.0 1062.8L525.5 1062.8L526.0 1062.8L526.5 1062.8L527.0 1062.8L527.5 1062.8L528.0 1062.8L528.5 1062.8L529.0 1062.8L529.5 1062.8L530.0 1062.8L530.5 1062.8L531.0 1062.8L531.5 1062.8L532.0 1062.8L532.5 1062.8L533.0 1062.8L533.5 1062.8L534.0 1062.8L534.5 1062.8L535.0 1062.8L535.5 1062.8L536.0 1062.8L536.5 1062.8L537.0 1062.8L537.5 1062.8L538.0 1062.8L538.5 1062.8L539.0 1062.8L539.5 1062.8L540.0 1062.8L540.5 1062.8L541.0 1062.8L541.5 1062.8L542.0 1062.8L542.5 1062.8L543.0 1062.8L543.5 1062.8L544.0 1062.8L544.5 1062.8L545.0 1062.8L545.5 1062.8L546.0 1062.8L546.5 1062.8L547.0 1062.8L547.5 1062.8L548.0 1062.8L548.5 1062.8L549.0 1062.8L549.5 1062.8L550.0 1062.8L550.5 1062.8L551.0 1062.8L551.5 1062.8L552.0 1062.8L552.5 1062.8L553.0 1062.8L553.5 1062.8L554.0 1062.8L554.5 1062.8L555.0 1062.8L555.5 1062.8L556.0 1062.8L556.5 1062.8L557.0 1062.8L557.5 1062.8L558.0 1062.8L558.5 1062.8L559.0 1062.8L559.5 1062.8L560.0 1062.8L560.5 1062.8L561.0 1062.8L561.5 1062.8L562.0 1062.8L562.5 1062.8L563.0 1062.8L563.5 1062.8L564.0 1062.8L564.5 1062.8L565.0 1062.8L565.5 1062.8L566.0 1062.8L566.5 1062.7L567.0 1062.5L567.5 1062.2L568.0 1061.9L568.5 1061.5L569.0 1060.9L569.5 1059.9L570.0 1058.7L570.5 1057.3L571.0 1056.0L571.5 1054.7L572.0 1053.3L572.5 1051.8L573.0 1049.9L573.5 1047.5L574.0 1044.5L574.5 1040.8L575.0 1036.8L575.5 1032.5L576.0 1028.2L576.5 1024.0L577.0 1019.8L577.5 1015.5L578.0 1011.0L578.5 1006.4L579.0 1001.8L579.5 997.1L580.0 992.4L580.5 987.8L581.0 983.1L581.5 978.2L582.0 973.1L582.5 968.0L583.0 962.9L583.5 958.0L584.0 953.5L584.5 949.4L585.0 945.9L585.5 942.8L586.0 939.7L586.5 936.8L587.0 934.1L587.5 931.6L588.0 929.3L588.5 927.3L589.0 925.5L589.5 924.0L590.0 922.7L590.5 921.5L591.0 920.4L591.5 919.4L592.0 918.4L592.5 917.5L593.0 916.6L593.5 915.8L594.0 915.0L594.5 914.1L595.0 913.2L595.5 912.4L596.0 911.5L596.5 910.6L597.0 909.7L597.5 908.9L598.0 908.0L598.5 907.3L599.0 906.5L599.5 905.9L600.0 905.2L600.5 904.7L601.0 904.2L601.5 903.6L602.0 903.1L602.5 902.6L603.0 902.1L603.5 901.7L604.0 901.4L604.5 901.1L605.0 901.0L605.5 901.1L606.0 901.5L606.5 902.3L607.0 903.3L607.5 904.6L608.0 906.1L608.5 907.7L609.0 909.3L609.5 911.1L610.0 913.6L610.5 916.5L611.0 919.9L611.5 923.5L612.0 927.3L612.5 931.0L613.0 934.9L613.5 939.0L614.0 943.4L614.5 947.9L615.0 952.5L615.5 957.1L616.0 961.6L616.5 966.3L617.0 971.0L617.5 975.8L618.0 980.4L618.5 984.9L619.0 989.3L619.5 993.8L620.0 998.3L620.5 1002.6L621.0 1006.8L621.5 1010.7L622.0 1014.2L622.5 1017.4L623.0 1020.4L623.5 1023.2L624.0 1025.8L624.5 1028.2L625.0 1030.2L625.5 1032.0L626.0 1033.6L626.5 1035.2L627.0 1036.7L627.5 1038.0L628.0 1039.1L628.5 1039.7L629.0 1040.0L629.5 1039.7L630.0 1038.9L630.5 1037.7L631.0 1036.1L631.5 1034.2L632.0 1032.1L632.5 1029.8L633.0 1027.5L633.5 1025.1L634.0 1022.2L634.5 1018.6L635.0 1014.7L635.5 1010.6L636.0 1006.6L636.5 1003.0L637.0 999.7L637.5 996.5L638.0 993.4L638.5 990.4L639.0 987.5L639.5 984.7L640.0 982.0L640.5 979.4L641.0 976.8L641.5 974.2L642.0 971.7L642.5 969.3L643.0 967.1L643.5 965.0L644.0 963.2L644.5 961.7L645.0 960.3L645.5 958.8L646.0 957.4L646.5 956.1L647.0 954.9L647.5 953.9L648.0 953.2L648.5 952.7L649.0 952.5L649.5 952.8L650.0 953.5L650.5 954.6L651.0 956.0L651.5 957.7L652.0 959.5L652.5 961.4L653.0 963.3L653.5 965.2L654.0 967.5L654.5 970.1L655.0 973.1L655.5 976.2L656.0 979.4L656.5 982.6L657.0 985.8L657.5 988.8L658.0 991.6L658.5 994.1L659.0 996.3L659.5 998.5L660.0 1000.5L660.5 1002.5L661.0 1004.4L661.5 1006.2L662.0 1008.0L662.5 1009.8L663.0 1011.6L663.5 1013.3L664.0 1015.1L664.5 1016.8L665.0 1018.6L665.5 1020.4L666.0 1022.3L666.5 1024.2L667.0 1026.0L667.5 1027.9L668.0 1029.8L668.5 1031.6L669.0 1033.4L669.5 1035.2L670.0 1036.9L670.5 1038.5L671.0 1040.1L671.5 1041.6L672.0 1043.1L672.5 1044.6L673.0 1046.0L673.5 1047.5L674.0 1048.9L674.5 1050.3L675.0 1051.6L675.5 1052.9L676.0 1054.1L676.5 1055.2L677.0 1056.2L677.5 1057.1L678.0 1057.9L678.5 1058.6L679.0 1059.2L679.5 1059.8L680.0 1060.4L680.5 1060.9L681.0 1061.3L681.5 1061.7L682.0 1062.0L682.5 1062.2L683.0 1062.5L683.5 1062.7L684.0 1062.8L684.5 1062.8L685.0 1062.8L685.5 1062.8L686.0 1062.8L686.5 1062.8L687.0 1062.8L687.5 1062.8L688.0 1062.8L688.5 1062.8L689.0 1062.8L689.5 1062.8L690.0 1062.8L690.5 1062.8L691.0 1062.8L691.5 1062.8L692.0 1062.8L692.5 1062.8L693.0 1062.8L693.5 1062.8L694.0 1062.8L694.5 1062.8L695.0 1062.7L695.5 1062.4L696.0 1062.0L696.5 1061.4L697.0 1060.9L697.5 1060.2L698.0 1059.5L698.5 1058.6L699.0 1057.2L699.5 1055.4L700.0 1053.2L700.5 1050.7L701.0 1047.9L701.5 1044.8L702.0 1041.4L702.5 1037.9L703.0 1034.2L703.5 1030.4L704.0 1026.4L704.5 1022.4L705.0 1018.2L705.5 1013.3L706.0 1007.9L706.5 1002.0L707.0 995.7L707.5 989.0L708.0 981.9L708.5 974.5L709.0 966.9L709.5 959.1L710.0 951.2L710.5 943.2L711.0 934.5L711.5 925.1L712.0 915.1L712.5 904.6L713.0 893.9L713.5 883.1L714.0 872.4L714.5 861.9L715.0 851.9L715.5 842.4L716.0 833.5L716.5 824.8L717.0 816.4L717.5 808.2L718.0 800.0L718.5 791.5L719.0 782.9L719.5 774.7L720.0 767.5L720.5 761.9L721.0 757.1L721.5 752.9L722.0 749.4L722.5 746.5L723.0 744.0L723.5 741.6L724.0 739.7L724.5 738.6L725.0 738.7L725.5 739.7L726.0 741.4L726.5 743.8L727.0 746.5L727.5 751.5L728.0 758.9L728.5 765.9L729.0 771.8L729.5 777.9L730.0 785.0L730.5 794.1L731.0 805.0L731.5 816.8L732.0 828.4L732.5 839.2L733.0 849.8L733.5 860.4L734.0 870.9L734.5 881.2L735.0 891.4L735.5 901.3L736.0 910.8L736.5 920.0L737.0 929.0L737.5 938.0L738.0 946.8L738.5 955.4L739.0 963.5L739.5 971.1L740.0 978.0L740.5 984.0L741.0 989.5L741.5 994.8L742.0 999.9L742.5 1004.6L743.0 1009.0L743.5 1013.0L744.0 1016.6L744.5 1019.6L745.0 1022.0L745.5 1024.1L746.0 1026.1L746.5 1028.1L747.0 1029.9L747.5 1031.4L748.0 1032.7L748.5 1033.7L749.0 1034.3L749.5 1034.4L750.0 1033.9L750.5 1032.9L751.0 1031.4L751.5 1029.6L752.0 1027.4L752.5 1025.0L753.0 1022.5L753.5 1020.0L754.0 1017.4L754.5 1014.3L755.0 1010.7L755.5 1006.7L756.0 1002.4L756.5 997.9L757.0 993.1L757.5 988.3L758.0 983.4L758.5 978.6L759.0 974.0L759.5 969.3L760.0 964.3L760.5 959.1L761.0 953.9L761.5 948.7L762.0 943.6L762.5 938.6L763.0 934.0L763.5 929.8L764.0 925.9L764.5 921.9L765.0 918.2L765.5 914.8L766.0 911.8L766.5 909.4L767.0 907.5L767.5 905.6L768.0 904.0L768.5 902.7L769.0 901.9L769.5 901.9L770.0 902.4L770.5 903.5L771.0 905.0L771.5 906.7L772.0 908.6L772.5 910.9L773.0 914.0L773.5 917.7L774.0 921.8L774.5 926.0L775.0 930.0L775.5 933.9L776.0 937.8L776.5 941.9L777.0 946.0L777.5 950.2L778.0 954.3L778.5 958.5L779.0 962.5L779.5 966.5L780.0 970.3L780.5 974.0L781.0 977.6L781.5 981.2L782.0 984.9L782.5 988.4L783.0 992.0L783.5 995.4L784.0 998.8L784.5 1002.0L785.0 1005.1L785.5 1008.1L786.0 1010.8L786.5 1013.4L787.0 1015.7L787.5 1018.0L788.0 1020.2L788.5 1022.3L789.0 1024.3L789.5 1026.1L790.0 1027.9L790.5 1029.4L791.0 1030.8L791.5 1032.0L792.0 1033.1L792.5 1034.2L793.0 1035.2L793.5 1036.0L794.0 1036.4L794.5 1036.4L795.0 1035.8L795.5 1034.6L796.0 1032.8L796.5 1030.6L797.0 1028.1L797.5 1025.4L798.0 1022.5L798.5 1019.6L799.0 1016.4L799.5 1012.6L800.0 1008.1L800.5 1003.1L801.0 997.7L801.5 991.9L802.0 985.9L802.5 979.8L803.0 973.7L803.5 967.7L804.0 961.8L804.5 955.9L805.0 949.7L805.5 943.4L806.0 936.9L806.5 930.3L807.0 923.8L807.5 917.3L808.0 911.0L808.5 904.9L809.0 899.0L809.5 893.5L810.0 887.9L810.5 882.5L811.0 877.1L811.5 871.8L812.0 866.7L812.5 861.8L813.0 857.2L813.5 852.9L814.0 849.0L814.5 845.3L815.0 841.6L815.5 838.1L816.0 834.8L816.5 831.9L817.0 829.3L817.5 827.3L818.0 825.7L818.5 824.1L819.0 822.7L819.5 821.6L820.0 820.8L820.5 820.5L821.0 820.9L821.5 821.8L822.0 823.2L822.5 825.0L823.0 826.9L823.5 828.8L824.0 830.8L824.5 833.1L825.0 835.8L825.5 838.7L826.0 841.8L826.5 844.9L827.0 848.2L827.5 851.4L828.0 854.4L828.5 857.4L829.0 860.3L829.5 863.3L830.0 866.4L830.5 869.4L831.0 872.4L831.5 875.4L832.0 878.3L832.5 881.1L833.0 883.9L833.5 886.5L834.0 889.1L834.5 891.6L835.0 894.2L835.5 896.7L836.0 899.2L836.5 901.6L837.0 903.8L837.5 906.0L838.0 907.9L838.5 909.7L839.0 911.3L839.5 912.9L840.0 914.4L840.5 916.0L841.0 917.5L841.5 918.9L842.0 920.3L842.5 921.5L843.0 922.5L843.5 923.3L844.0 923.9L844.5 924.2L845.0 924.3L845.5 924.0L846.0 923.5L846.5 922.9L847.0 922.1L847.5 921.2L848.0 920.2L848.5 919.3L849.0 918.4L849.5 917.6L850.0 916.9L850.5 916.4L851.0 916.0L851.5 915.5L852.0 915.1L852.5 914.7L853.0 914.3L853.5 914.0L854.0 913.8L854.5 913.7L855.0 913.8L855.5 914.1L856.0 914.7L856.5 915.6L857.0 916.6L857.5 917.7L858.0 918.8L858.5 920.2L859.0 922.0L859.5 924.1L860.0 926.6L860.5 929.2L861.0 931.9L861.5 934.8L862.0 937.5L862.5 940.2L863.0 943.0L863.5 945.8L864.0 948.8L864.5 951.8L865.0 954.9L865.5 958.0L866.0 961.1L866.5 964.2L867.0 967.2L867.5 970.4L868.0 973.7L868.5 977.1L869.0 980.5L869.5 983.7L870.0 986.7L870.5 989.4L871.0 991.8L871.5 993.8L872.0 995.7L872.5 997.7L873.0 999.6L873.5 1001.5L874.0 1003.2L874.5 1004.7L875.0 1006.1L875.5 1007.3L876.0 1008.1L876.5 1008.7L877.0 1009.0L877.5 1009.0L878.0 1008.8L878.5 1008.5L879.0 1008.2L879.5 1007.7L880.0 1007.1L880.5 1006.5L881.0 1005.7L881.5 1004.9L882.0 1004.0L882.5 1002.8L883.0 1000.6L883.5 997.5L884.0 993.5L884.5 988.9L885.0 983.8L885.5 978.4L886.0 972.8L886.5 967.1L887.0 961.5L887.5 955.5L888.0 949.2L888.5 942.3L889.0 934.8L889.5 926.4L890.0 917.1L890.5 906.6L891.0 895.0L891.5 877.5L892.0 853.7L892.5 829.8L893.0 812.0L893.5 800.2L894.0 790.0L894.5 781.1L895.0 773.2L895.5 765.9L896.0 758.8L896.5 751.8L897.0 745.0L897.5 738.6L898.0 732.8L898.5 727.8L899.0 723.4L899.5 719.4L900.0 716.8L900.5 715.9L901.0 715.2L901.5 714.6L902.0 714.1L902.5 713.7L903.0 713.4L903.5 713.3L904.0 713.2L904.5 713.3L905.0 713.8L905.5 714.4L906.0 715.3L906.5 716.5L907.0 717.8L907.5 719.4L908.0 723.5L908.5 730.2L909.0 738.1L909.5 745.9L910.0 752.4L910.5 758.7L911.0 764.8L911.5 771.0L912.0 777.3L912.5 784.0L913.0 791.3L913.5 799.2L914.0 808.2L914.5 817.8L915.0 827.5L915.5 836.8L916.0 846.1L916.5 855.5L917.0 864.9L917.5 874.3L918.0 883.4L918.5 892.2L919.0 900.5L919.5 908.1L920.0 915.2L920.5 922.2L921.0 929.1L921.5 935.7L922.0 942.0L922.5 947.8L923.0 953.0L923.5 957.5L924.0 961.1L924.5 964.1L925.0 967.0L925.5 969.8L926.0 972.4L926.5 974.6L927.0 976.6L927.5 978.0L928.0 979.0L928.5 979.3L929.0 979.0L929.5 978.2L930.0 976.9L930.5 975.2L931.0 973.2L931.5 971.0L932.0 968.6L932.5 966.0L933.0 963.5L933.5 960.4L934.0 956.6L934.5 952.2L935.0 947.4L935.5 942.2L936.0 936.7L936.5 931.1L937.0 925.4L937.5 919.7L938.0 913.5L938.5 906.8L939.0 899.7L939.5 892.4L940.0 884.8L940.5 877.2L941.0 869.7L941.5 862.4L942.0 855.4L942.5 848.7L943.0 842.6L943.5 836.8L944.0 831.3L944.5 825.9L945.0 820.7L945.5 815.5L946.0 810.3L946.5 805.0L947.0 799.7L947.5 794.3L948.0 789.0L948.5 783.7L949.0 778.5L949.5 773.5L950.0 768.5L950.5 763.4L951.0 758.2L951.5 753.2L952.0 748.4L952.5 744.2L953.0 740.7L953.5 737.8L954.0 735.0L954.5 732.3L955.0 729.8L955.5 727.6L956.0 725.7L956.5 724.4L957.0 723.6L957.5 723.5L958.0 724.0L958.5 725.0L959.0 726.4L959.5 728.1L960.0 730.2L960.5 732.5L961.0 735.1L961.5 737.8L962.0 740.8L962.5 745.1L963.0 750.6L963.5 757.0L964.0 763.6L964.5 770.2L965.0 776.6L965.5 783.1L966.0 789.8L966.5 796.8L967.0 804.2L967.5 812.0L968.0 820.6L968.5 830.2L969.0 840.4L969.5 850.9L970.0 861.4L970.5 871.4L971.0 880.7L971.5 889.0L972.0 896.4L972.5 903.4L973.0 910.0L973.5 916.3L974.0 922.4L974.5 928.2L975.0 933.9L975.5 939.5L976.0 945.1L976.5 950.7L977.0 956.4L977.5 961.9L978.0 967.3L978.5 972.5L979.0 977.4L979.5 981.9L980.0 985.9L980.5 989.4L981.0 992.8L981.5 996.4L982.0 999.8L982.5 1003.1L983.0 1006.2L983.5 1009.0L984.0 1011.4L984.5 1013.4L985.0 1014.8L985.5 1015.6L986.0 1015.7L986.5 1015.5L987.0 1015.2L987.5 1014.7L988.0 1014.1L988.5 1013.3L989.0 1012.4L989.5 1011.5L990.0 1010.4L990.5 1009.1L991.0 1007.0L991.5 1003.9L992.0 1000.3L992.5 996.1L993.0 991.6L993.5 987.0L994.0 982.3L994.5 977.9L995.0 973.5L995.5 968.9L996.0 964.1L996.5 959.2L997.0 954.1L997.5 949.0L998.0 943.7L998.5 938.5L999.0 933.3L999.5 928.1L1000.0 923.0L1000.5 918.0L1001.0 913.0L1001.5 908.1L1002.0 903.1L1002.5 898.2L1003.0 893.2L1003.5 888.3L1004.0 883.3L1004.5 878.2L1005.0 873.2L1005.5 868.0L1006.0 862.9L1006.5 857.7L1007.0 852.5L1007.5 847.3L1008.0 842.1L1008.5 836.7L1009.0 831.3L1009.5 825.7L1010.0 820.0L1010.5 813.8L1011.0 807.2L1011.5 800.5L1012.0 794.2L1012.5 788.5L1013.0 783.6L1013.5 779.1L1014.0 774.9L1014.5 770.9L1015.0 767.1L1015.5 763.5L1016.0 760.0L1016.5 756.4L1017.0 752.7L1017.5 749.0L1018.0 745.7L1018.5 742.8L1019.0 740.7L1019.5 739.5L1020.0 738.9L1020.5 738.4L1021.0 737.9L1021.5 737.5L1022.0 737.1L1022.5 736.8L1023.0 736.5L1023.5 736.3L1024.0 736.2L1024.5 736.1L1025.0 736.0L1025.5 736.2L1026.0 737.2L1026.5 738.9L1027.0 741.0L1027.5 743.5L1028.0 745.9L1028.5 748.2L1029.0 750.3L1029.5 752.7L1030.0 755.2L1030.5 757.7L1031.0 760.3L1031.5 762.7L1032.0 765.0L1032.5 767.0L1033.0 768.7L1033.5 770.0L1034.0 771.2L1034.5 772.4L1035.0 773.6L1035.5 774.6L1036.0 775.6L1036.5 776.3L1037.0 776.8L1037.5 777.1L1038.0 777.1L1038.5 776.5L1039.0 775.3L1039.5 773.5L1040.0 771.4L1040.5 769.0L1041.0 766.5L1041.5 763.9L1042.0 761.4L1042.5 759.0L1043.0 756.1L1043.5 752.7L1044.0 749.2L1044.5 745.9L1045.0 743.1L1045.5 741.2L1046.0 740.4L1046.5 739.8L1047.0 739.3L1047.5 738.9L1048.0 738.6L1048.5 738.4L1049.0 738.3L1049.5 738.6L1050.0 740.2L1050.5 742.9L1051.0 746.5L1051.5 750.6L1052.0 754.9L1052.5 759.2L1053.0 763.3L1053.5 767.5L1054.0 772.1L1054.5 777.2L1055.0 782.9L1055.5 789.5L1056.0 797.0L1056.5 808.1L1057.0 822.9L1057.5 837.7L1058.0 849.2L1058.5 859.2L1059.0 868.6L1059.5 877.5L1060.0 885.8L1060.5 893.6L1061.0 901.1L1061.5 908.2L1062.0 915.1L1062.5 921.9L1063.0 928.5L1063.5 934.8L1064.0 940.9L1064.5 946.6L1065.0 951.9L1065.5 956.7L1066.0 960.9L1066.5 964.8L1067.0 968.8L1067.5 972.7L1068.0 976.5L1068.5 979.9L1069.0 982.8L1069.5 985.0L1070.0 986.5L1070.5 987.0L1071.0 986.8L1071.5 986.3L1072.0 985.5L1072.5 984.4L1073.0 983.1L1073.5 981.7L1074.0 980.1L1074.5 978.4L1075.0 976.6L1075.5 974.3L1076.0 971.2L1076.5 967.5L1077.0 963.4L1077.5 959.1L1078.0 954.7L1078.5 950.4L1079.0 946.3L1079.5 942.5L1080.0 938.9L1080.5 935.3L1081.0 931.6L1081.5 928.0L1082.0 924.4L1082.5 920.8L1083.0 917.3L1083.5 913.9L1084.0 910.5L1084.5 907.1L1085.0 903.9L1085.5 900.7L1086.0 897.5L1086.5 894.4L1087.0 891.4L1087.5 888.4L1088.0 885.4L1088.5 882.5L1089.0 879.6L1089.5 876.7L1090.0 873.8L1090.5 870.9L1091.0 867.9L1091.5 864.8L1092.0 861.7L1092.5 858.6L1093.0 855.6L1093.5 852.8L1094.0 850.3L1094.5 848.2L1095.0 846.6L1095.5 845.0L1096.0 843.5L1096.5 842.1L1097.0 840.8L1097.5 839.7L1098.0 838.7L1098.5 838.0L1099.0 837.4L1099.5 837.1L1100.0 836.9L1100.5 836.6L1101.0 836.4L1101.5 836.2L1102.0 836.0L1102.5 835.9L1103.0 835.8L1103.5 835.8L1104.0 835.8L1104.5 835.9L1105.0 836.1L1105.5 836.3L1106.0 836.6L1106.5 836.9L1107.0 837.2L1107.5 837.5L1108.0 837.7L1108.5 838.0L1109.0 838.2L1109.5 838.3L1110.0 838.4L1110.5 838.3L1111.0 837.9L1111.5 837.0L1112.0 835.9L1112.5 834.5L1113.0 833.0L1113.5 831.3L1114.0 829.5L1114.5 827.7L1115.0 825.8L1115.5 823.4L1116.0 820.7L1116.5 817.7L1117.0 814.8L1117.5 812.0L1118.0 809.1L1118.5 806.0L1119.0 802.7L1119.5 799.5L1120.0 796.7L1120.5 794.3L1121.0 792.5L1121.5 791.4L1122.0 790.5L1122.5 789.6L1123.0 788.9L1123.5 788.2L1124.0 787.6L1124.5 787.1L1125.0 786.7L1125.5 786.4L1126.0 786.2L1126.5 786.1L1127.0 786.0L1127.5 785.9L1128.0 785.8L1128.5 785.7L1129.0 785.6L1129.5 785.5L1130.0 785.3L1130.5 785.1L1131.0 784.4L1131.5 783.4L1132.0 782.1L1132.5 780.6L1133.0 778.9L1133.5 777.1L1134.0 775.2L1134.5 773.0L1135.0 770.3L1135.5 767.4L1136.0 764.1L1136.5 760.8L1137.0 757.3L1137.5 753.9L1138.0 750.5L1138.5 747.3L1139.0 744.1L1139.5 740.9L1140.0 737.6L1140.5 734.3L1141.0 731.0L1141.5 727.7L1142.0 724.5L1142.5 721.3L1143.0 718.2L1143.5 715.0"/>
<path class="c" stroke="#ae70e0" d="M176.0 575.0L176.5 559.1L177.0 543.0L177.5 526.7L178.0 510.2L178.5 493.5L179.0 476.7L179.5 459.9L180.0 443.3L180.5 427.1L181.0 411.4L181.5 395.9L182.0 380.3L182.5 364.4L183.0 347.7L183.5 330.0L184.0 311.1L184.5 291.2L185.0 270.4L185.5 248.8L186.0 226.5L186.5 203.3L187.0 177.5L187.5 150.1L188.0 122.4L188.5 95.8L189.0 71.4L189.5 50.6L190.0 32.6L190.5 14.2L191.0 -4.0L191.5 -20.9L192.0 -35.8L192.5 -47.9L193.0 -56.2L193.5 -59.9L194.0 -58.1L194.5 -50.9L195.0 -39.4L195.5 -24.8L196.0 -8.0L196.5 9.8L197.0 27.4L197.5 43.9L198.0 59.5L198.5 76.1L199.0 93.6L199.5 111.7L200.0 130.1L200.5 148.6L201.0 166.9L201.5 184.6L202.0 201.6L202.5 217.5L203.0 232.8L203.5 248.0L204.0 263.0L204.5 277.9L205.0 292.4L205.5 306.6L206.0 320.4L206.5 333.8L207.0 346.5L207.5 358.6L208.0 370.0L208.5 380.7L209.0 390.4L209.5 399.3L210.0 407.3L210.5 414.7L211.0 421.7L211.5 428.5L212.0 435.2L212.5 442.0L213.0 449.2L213.5 456.7L214.0 465.0L214.5 474.1L215.0 484.2L215.5 495.5L216.0 507.8L216.5 521.2L217.0 535.4L217.5 550.4L218.0 566.1L218.5 582.3L219.0 600.3L219.5 620.1L220.0 641.0L220.5 662.2L221.0 683.1L221.5 703.0L222.0 722.0L222.5 740.7L223.0 759.0L223.5 777.1L224.0 795.0L224.5 813.0L225.0 831.1L225.5 848.4L226.0 864.1L226.5 877.9L227.0 890.7L227.5 902.6L228.0 913.9L228.5 924.8L229.0 935.5L229.5 946.1L230.0 956.9L230.5 967.6L231.0 977.9L231.5 987.5L232.0 996.0L232.5 1003.3L233.0 1010.0L233.5 1016.3L234.0 1022.0L234.5 1027.2L235.0 1031.9L235.5 1036.0L236.0 1039.9L236.5 1043.5L237.0 1046.9L237.5 1049.7L238.0 1052.0L238.5 1053.6L239.0 1055.0L239.5 1056.3L240.0 1057.5L240.5 1058.5L241.0 1059.4L241.5 1060.1L242.0 1060.6L242.5 1061.0L243.0 1061.3L243.5 1061.5L244.0 1061.8L244.5 1062.0L245.0 1062.2L245.5 1062.4L246.0 1062.5L246.5 1062.7L247.0 1062.8L247.5 1062.8L248.0 1062.8L248.5 1062.8L249.0 1062.8L249.5 1062.8L250.0 1062.8L250.5 1062.8L251.0 1062.8L251.5 1062.7L252.0 1062.6L252.5 1062.3L253.0 1062.0L253.5 1061.7L254.0 1061.2L254.5 1060.7L255.0 1060.0L255.5 1059.4L256.0 1058.6L256.5 1057.6L257.0 1056.5L257.5 1055.5L258.0 1054.2L258.5 1052.7L259.0 1051.3L259.5 1049.8L260.0 1048.3L260.5 1046.7L261.0 1045.1L261.5 1043.3L262.0 1041.6L262.5 1039.9L263.0 1038.2L263.5 1036.4L264.0 1034.7L264.5 1033.0L265.0 1031.2L265.5 1029.5L266.0 1027.8L266.5 1026.0L267.0 1024.3L267.5 1022.6L268.0 1020.9L268.5 1019.1L269.0 1017.4L269.5 1015.7L270.0 1013.9L270.5 1012.1L271.0 1010.6L271.5 1009.2L272.0 1008.0L272.5 1006.9L273.0 1005.8L273.5 1004.7L274.0 1003.6L274.5 1002.5L275.0 1001.4L275.5 1000.3L276.0 999.1L276.5 997.7L277.0 997.7L277.5 999.1L278.0 1000.3L278.5 1001.4L279.0 1002.5L279.5 1003.6L280.0 1004.7L280.5 1005.8L281.0 1006.9L281.5 1008.0L282.0 1009.2L282.5 1010.6L283.0 1012.1L283.5 1013.9L284.0 1015.7L284.5 1017.4L285.0 1019.1L285.5 1020.9L286.0 1022.6L286.5 1024.3L287.0 1026.0L287.5 1027.8L288.0 1029.5L288.5 1031.2L289.0 1033.0L289.5 1034.7L290.0 1036.4L290.5 1038.2L291.0 1039.9L291.5 1041.6L292.0 1043.3L292.5 1045.1L293.0 1046.7L293.5 1048.3L294.0 1049.8L294.5 1051.3L295.0 1052.7L295.5 1054.2L296.0 1055.5L296.5 1056.5L297.0 1057.6L297.5 1058.6L298.0 1059.4L298.5 1060.0L299.0 1060.7L299.5 1061.2L300.0 1061.7L300.5 1062.0L301.0 1062.3L301.5 1062.5L302.0 1062.8L302.5 1062.8L303.0 1062.8L303.5 1062.8L304.0 1062.8L304.5 1062.8L305.0 1062.8L305.5 1062.8L306.0 1062.8L306.5 1062.8L307.0 1062.8L307.5 1062.8L308.0 1062.8L308.5 1062.8L309.0 1062.8L309.5 1062.8L310.0 1062.8L310.5 1062.8L311.0 1062.8L311.5 1062.8L312.0 1062.8L312.5 1062.8L313.0 1062.8L313.5 1062.8L314.0 1062.8L314.5 1062.8L315.0 1062.8L315.5 1062.8L316.0 1062.8L316.5 1062.8L317.0 1062.8L317.5 1062.8L318.0 1062.8L318.5 1062.8L319.0 1062.8L319.5 1062.8L320.0 1062.8L320.5 1062.8L321.0 1062.8L321.5 1062.8L322.0 1062.8L322.5 1062.8L323.0 1062.8L323.5 1062.8L324.0 1062.8L324.5 1062.8L325.0 1062.8L325.5 1062.8L326.0 1062.8L326.5 1062.8L327.0 1062.8L327.5 1062.8L328.0 1062.8L328.5 1062.8L329.0 1062.7L329.5 1062.4L330.0 1062.0L330.5 1061.5L331.0 1061.0L331.5 1060.3L332.0 1059.4L332.5 1058.3L333.0 1057.1L333.5 1055.7L334.0 1054.4L334.5 1053.0L335.0 1051.7L335.5 1050.3L336.0 1049.0L336.5 1047.5L337.0 1045.9L337.5 1044.2L338.0 1042.2L338.5 1040.0L339.0 1037.4L339.5 1034.4L340.0 1030.9L340.5 1027.0L341.0 1022.8L341.5 1018.3L342.0 1013.5L342.5 1008.6L343.0 1003.5L343.5 998.2L344.0 992.9L344.5 987.6L345.0 982.3L345.5 977.0L346.0 971.5L346.5 965.6L347.0 959.3L347.5 952.8L348.0 946.3L348.5 939.8L349.0 933.5L349.5 927.6L350.0 922.0L350.5 916.6L351.0 911.2L351.5 905.9L352.0 900.8L352.5 896.2L353.0 892.2L353.5 889.0L354.0 886.2L354.5 883.4L355.0 880.8L355.5 878.5L356.0 876.7L356.5 875.4L357.0 874.8L357.5 875.0L358.0 875.7L358.5 876.8L359.0 878.4L359.5 880.2L360.0 882.3L360.5 884.5L361.0 886.7L361.5 889.0L362.0 891.6L362.5 894.8L363.0 898.4L363.5 902.4L364.0 906.6L364.5 910.7L365.0 914.8L365.5 918.6L366.0 922.0L366.5 925.3L367.0 928.9L367.5 932.6L368.0 936.3L368.5 939.7L369.0 942.8L369.5 945.3L370.0 947.2L370.5 948.3L371.0 948.4L371.5 947.7L372.0 946.1L372.5 944.0L373.0 941.3L373.5 938.2L374.0 934.9L374.5 931.4L375.0 927.9L375.5 924.6L376.0 921.4L376.5 918.0L377.0 914.1L377.5 910.1L378.0 905.9L378.5 901.8L379.0 897.8L379.5 894.0L380.0 890.7L380.5 887.9L381.0 885.3L381.5 882.8L382.0 880.4L382.5 878.2L383.0 876.1L383.5 874.2L384.0 872.6L384.5 871.2L385.0 870.1L385.5 869.1L386.0 868.3L386.5 867.5L387.0 866.7L387.5 865.9L388.0 864.9L388.5 863.8L389.0 862.4L389.5 860.9L390.0 859.2L390.5 857.4L391.0 855.5L391.5 853.5L392.0 851.5L392.5 849.4L393.0 847.2L393.5 844.8L394.0 842.2L394.5 839.3L395.0 836.1L395.5 832.2L396.0 827.3L396.5 821.7L397.0 816.0L397.5 810.4L398.0 805.0L398.5 798.8L399.0 792.6L399.5 787.4L400.0 784.1L400.5 783.1L401.0 782.4L401.5 781.8L402.0 781.3L402.5 780.9L403.0 780.5L403.5 780.2L404.0 780.0L404.5 779.9L405.0 779.8L405.5 780.6L406.0 784.4L406.5 789.8L407.0 795.0L407.5 799.3L408.0 803.5L408.5 807.9L409.0 812.8L409.5 818.4L410.0 825.5L410.5 834.1L411.0 843.7L411.5 853.6L412.0 863.2L412.5 872.0L413.0 880.2L413.5 888.5L414.0 896.7L414.5 904.6L415.0 912.2L415.5 919.2L416.0 925.5L416.5 931.0L417.0 936.1L417.5 941.3L418.0 946.4L418.5 951.2L419.0 955.5L419.5 959.1L420.0 961.9L420.5 963.6L421.0 964.0L421.5 963.0L422.0 960.9L422.5 957.8L423.0 953.9L423.5 949.3L424.0 944.4L424.5 939.2L425.0 934.0L425.5 928.9L426.0 923.1L426.5 916.4L427.0 909.0L427.5 901.2L428.0 893.0L428.5 884.7L429.0 876.4L429.5 868.2L430.0 860.2L430.5 852.1L431.0 843.7L431.5 835.3L432.0 826.8L432.5 818.4L433.0 810.0L433.5 801.1L434.0 791.4L434.5 781.5L435.0 772.2L435.5 764.1L436.0 757.7L436.5 753.5L437.0 750.0L437.5 746.7L438.0 743.6L438.5 740.8L439.0 738.3L439.5 736.3L440.0 734.7L440.5 733.6L441.0 733.0L441.5 733.2L442.0 734.4L442.5 736.4L443.0 739.1L443.5 742.5L444.0 746.2L444.5 750.2L445.0 754.2L445.5 758.7L446.0 764.5L446.5 771.3L447.0 778.7L447.5 786.2L448.0 793.6L448.5 800.3L449.0 806.7L449.5 813.0L450.0 819.3L450.5 825.5L451.0 831.7L451.5 837.9L452.0 844.1L452.5 850.3L453.0 856.5L453.5 862.9L454.0 869.3L454.5 875.8L455.0 882.3L455.5 888.6L456.0 894.9L456.5 900.9L457.0 906.8L457.5 912.4L458.0 918.0L458.5 923.6L459.0 929.1L459.5 934.5L460.0 939.5L460.5 944.3L461.0 948.6L461.5 952.3L462.0 955.7L462.5 959.2L463.0 962.6L463.5 966.0L464.0 969.2L464.5 972.1L465.0 974.8L465.5 977.0L466.0 978.8L466.5 980.0L467.0 980.6L467.5 980.6L468.0 979.9L468.5 978.8L469.0 977.1L469.5 975.1L470.0 972.8L470.5 970.2L471.0 967.5L471.5 964.6L472.0 961.2L472.5 956.7L473.0 951.2L473.5 944.9L474.0 938.0L474.5 930.7L475.0 923.4L475.5 916.0L476.0 909.0L476.5 902.0L477.0 894.6L477.5 886.9L478.0 879.1L478.5 871.3L479.0 863.5L479.5 855.9L480.0 848.6L480.5 841.6L481.0 834.6L481.5 827.3L482.0 820.0L482.5 812.9L483.0 806.1L483.5 800.0L484.0 794.6L484.5 790.1L485.0 786.7L485.5 783.6L486.0 780.6L486.5 777.8L487.0 775.2L487.5 773.0L488.0 771.3L488.5 770.1L489.0 769.5L489.5 769.6L490.0 770.5L490.5 772.1L491.0 774.4L491.5 777.1L492.0 780.4L492.5 783.9L493.0 787.7L493.5 791.7L494.0 796.3L494.5 802.7L495.0 810.3L495.5 818.8L496.0 827.6L496.5 836.4L497.0 844.6L497.5 852.7L498.0 861.0L498.5 869.4L499.0 877.8L499.5 886.3L500.0 894.7L500.5 903.1L501.0 911.7L501.5 920.5L502.0 929.1L502.5 937.6L503.0 945.6L503.5 953.0L504.0 959.8L504.5 966.2L505.0 972.3L505.5 978.2L506.0 984.1L506.5 990.0L507.0 996.3L507.5 1002.8L508.0 1009.5L508.5 1015.9L509.0 1021.8L509.5 1027.1L510.0 1031.3L510.5 1034.6L511.0 1037.6L511.5 1040.4L512.0 1042.9L512.5 1045.2L513.0 1047.3L513.5 1049.2L514.0 1050.9L514.5 1052.5L515.0 1054.0L515.5 1055.3L516.0 1056.5L516.5 1057.6L517.0 1058.6L517.5 1059.5L518.0 1060.3L518.5 1061.2L519.0 1061.9L519.5 1062.4L520.0 1062.6L520.5 1062.7L521.0 1062.8L521.5 1062.8L522.0 1062.8L522.5 1062.8L523.0 1062.8L523.5 1062.8L524.0 1062.8L524.5 1062.8L525.0 1062.8L525.5 1062.8L526.0 1062.8L526.5 1062.8L527.0 1062.8L527.5 1062.8L528.0 1062.8L528.5 1062.8L529.0 1062.8L529.5 1062.8L530.0 1062.8L530.5 1062.8L531.0 1062.8L531.5 1062.8L532.0 1062.8L532.5 1062.8L533.0 1062.8L533.5 1062.8L534.0 1062.8L534.5 1062.8L535.0 1062.8L535.5 1062.8L536.0 1062.8L536.5 1062.8L537.0 1062.8L537.5 1062.8L538.0 1062.8L538.5 1062.8L539.0 1062.8L539.5 1062.8L540.0 1062.8L540.5 1062.8L541.0 1062.8L541.5 1062.8L542.0 1062.8L542.5 1062.8L543.0 1062.8L543.5 1062.8L544.0 1062.8L544.5 1062.8L545.0 1062.8L545.5 1062.8L546.0 1062.8L546.5 1062.8L547.0 1062.8L547.5 1062.8L548.0 1062.8L548.5 1062.8L549.0 1062.8L549.5 1062.8L550.0 1062.8L550.5 1062.8L551.0 1062.8L551.5 1062.8L552.0 1062.8L552.5 1062.8L553.0 1062.8L553.5 1062.8L554.0 1062.8L554.5 1062.8L555.0 1062.8L555.5 1062.8L556.0 1062.8L556.5 1062.8L557.0 1062.8L557.5 1062.8L558.0 1062.8L558.5 1062.8L559.0 1062.8L559.5 1062.8L560.0 1062.8L560.5 1062.8L561.0 1062.8L561.5 1062.7L562.0 1062.4L562.5 1062.0L563.0 1061.5L563.5 1061.0L564.0 1060.4L564.5 1059.6L565.0 1058.6L565.5 1057.4L566.0 1056.2L566.5 1054.9L567.0 1053.5L567.5 1052.1L568.0 1050.4L568.5 1048.7L569.0 1046.7L569.5 1044.4L570.0 1042.0L570.5 1039.1L571.0 1035.9L571.5 1032.4L572.0 1028.5L572.5 1024.3L573.0 1019.9L573.5 1015.2L574.0 1010.4L574.5 1005.3L575.0 1000.1L575.5 994.8L576.0 989.3L576.5 983.7L577.0 977.5L577.5 970.7L578.0 963.4L578.5 955.8L579.0 948.0L579.5 940.2L580.0 932.6L580.5 925.2L581.0 918.3L581.5 911.4L582.0 904.7L582.5 898.0L583.0 891.4L583.5 884.9L584.0 878.4L584.5 872.2L585.0 866.0L585.5 859.9L586.0 853.7L586.5 847.7L587.0 841.8L587.5 836.1L588.0 830.9L588.5 826.0L589.0 821.4L589.5 816.8L590.0 812.4L590.5 808.3L591.0 804.6L591.5 801.4L592.0 799.0L592.5 797.1L593.0 795.4L593.5 793.9L594.0 792.6L594.5 791.3L595.0 790.2L595.5 789.1L596.0 788.0L596.5 786.9L597.0 785.7L597.5 784.6L598.0 783.6L598.5 782.7L599.0 782.2L599.5 781.8L600.0 781.5L600.5 781.3L601.0 781.0L601.5 780.8L602.0 780.7L602.5 780.5L603.0 780.4L603.5 780.4L604.0 780.5L604.5 781.0L605.0 782.0L605.5 783.3L606.0 784.8L606.5 786.6L607.0 788.5L607.5 791.1L608.0 794.8L608.5 799.3L609.0 804.4L609.5 809.7L610.0 815.0L610.5 820.4L611.0 826.2L611.5 832.4L612.0 838.8L612.5 845.4L613.0 852.0L613.5 858.7L614.0 865.3L614.5 872.2L615.0 879.1L615.5 886.1L616.0 893.2L616.5 900.3L617.0 907.2L617.5 914.1L618.0 921.1L618.5 928.1L619.0 935.1L619.5 941.9L620.0 948.6L620.5 955.0L621.0 961.3L621.5 967.7L622.0 973.9L622.5 979.8L623.0 985.2L623.5 990.0L624.0 994.3L624.5 998.2L625.0 1001.8L625.5 1005.0L626.0 1008.0L626.5 1010.9L627.0 1014.0L627.5 1017.0L628.0 1019.6L628.5 1021.7L629.0 1023.0L629.5 1023.4L630.0 1022.5L630.5 1020.4L631.0 1017.5L631.5 1013.7L632.0 1009.4L632.5 1004.7L633.0 999.8L633.5 994.9L634.0 990.0L634.5 984.4L635.0 978.0L635.5 970.9L636.0 963.5L636.5 955.9L637.0 948.4L637.5 941.1L638.0 934.3L638.5 927.4L639.0 920.3L639.5 913.4L640.0 906.5L640.5 899.9L641.0 893.7L641.5 888.0L642.0 882.5L642.5 877.1L643.0 871.8L643.5 866.9L644.0 862.7L644.5 859.2L645.0 856.5L645.5 854.1L646.0 851.8L646.5 849.7L647.0 847.8L647.5 846.3L648.0 845.1L648.5 844.5L649.0 844.5L649.5 845.1L650.0 846.2L650.5 847.9L651.0 849.8L651.5 852.1L652.0 854.5L652.5 857.0L653.0 859.8L653.5 863.3L654.0 867.5L654.5 872.0L655.0 876.8L655.5 881.5L656.0 886.0L656.5 890.3L657.0 894.7L657.5 899.0L658.0 903.5L658.5 907.9L659.0 912.4L659.5 917.0L660.0 921.7L660.5 926.7L661.0 931.8L661.5 936.9L662.0 942.0L662.5 947.0L663.0 951.7L663.5 956.1L664.0 960.0L664.5 963.6L665.0 967.0L665.5 970.3L666.0 973.5L666.5 976.5L667.0 979.4L667.5 982.3L668.0 985.1L668.5 987.8L669.0 990.4L669.5 993.1L670.0 995.7L670.5 998.3L671.0 1001.0L671.5 1003.7L672.0 1006.4L672.5 1009.0L673.0 1011.6L673.5 1014.2L674.0 1016.8L674.5 1019.4L675.0 1021.9L675.5 1024.4L676.0 1026.8L676.5 1029.2L677.0 1031.6L677.5 1033.9L678.0 1036.2L678.5 1038.6L679.0 1041.0L679.5 1043.4L680.0 1045.9L680.5 1048.2L681.0 1050.5L681.5 1052.7L682.0 1054.6L682.5 1056.2L683.0 1057.6L683.5 1058.6L684.0 1059.6L684.5 1060.4L685.0 1061.1L685.5 1061.7L686.0 1062.0L686.5 1062.2L687.0 1062.4L687.5 1062.5L688.0 1062.7L688.5 1062.8L689.0 1062.8L689.5 1062.8L690.0 1062.8L690.5 1062.8L691.0 1062.8L691.5 1062.8L692.0 1062.7L692.5 1062.5L693.0 1062.3L693.5 1062.0L694.0 1061.5L694.5 1060.6L695.0 1059.3L695.5 1057.8L696.0 1056.1L696.5 1054.2L697.0 1052.0L697.5 1049.1L698.0 1045.7L698.5 1041.8L699.0 1037.7L699.5 1033.4L700.0 1028.8L700.5 1023.8L701.0 1018.5L701.5 1012.8L702.0 1006.9L702.5 1000.5L703.0 993.9L703.5 986.9L704.0 979.6L704.5 972.0L705.0 963.8L705.5 954.7L706.0 944.7L706.5 934.1L707.0 922.9L707.5 911.3L708.0 899.3L708.5 887.3L709.0 875.1L709.5 862.8L710.0 850.0L710.5 836.5L711.0 822.3L711.5 807.2L712.0 790.7L712.5 772.7L713.0 753.4L713.5 733.3L714.0 712.7L714.5 691.8L715.0 669.0L715.5 644.5L716.0 619.6L716.5 595.8L717.0 574.5L717.5 556.8L718.0 541.2L718.5 526.5L719.0 513.0L719.5 500.5L720.0 489.1L720.5 478.9L721.0 470.0L721.5 461.5L722.0 453.0L722.5 444.7L723.0 437.2L723.5 430.8L724.0 425.8L724.5 422.8L725.0 422.1L725.5 423.8L726.0 427.8L726.5 433.5L727.0 440.5L727.5 448.4L728.0 456.7L728.5 465.1L729.0 473.2L729.5 481.8L730.0 491.1L730.5 501.2L731.0 512.2L731.5 524.1L732.0 537.0L732.5 551.0L733.0 566.6L733.5 586.3L734.0 609.4L734.5 634.4L735.0 659.5L735.5 683.2L736.0 704.0L736.5 723.7L737.0 742.6L737.5 760.9L738.0 778.7L738.5 795.9L739.0 812.7L739.5 829.6L740.0 846.5L740.5 863.0L741.0 878.8L741.5 893.7L742.0 907.2L742.5 919.2L743.0 930.1L743.5 940.6L744.0 950.5L744.5 959.7L745.0 968.1L745.5 975.5L746.0 981.8L746.5 987.0L747.0 992.0L747.5 996.8L748.0 1001.0L748.5 1004.4L749.0 1006.4L749.5 1007.0L750.0 1005.8L750.5 1003.1L751.0 999.3L751.5 994.8L752.0 990.0L752.5 985.1L753.0 980.3L753.5 974.9L754.0 968.9L754.5 962.3L755.0 955.4L755.5 948.2L756.0 940.9L756.5 933.5L757.0 925.9L757.5 917.9L758.0 909.6L758.5 901.0L759.0 892.3L759.5 883.5L760.0 874.8L760.5 866.3L761.0 857.6L761.5 848.8L762.0 839.8L762.5 831.0L763.0 822.5L763.5 814.3L764.0 806.8L764.5 799.8L765.0 792.9L765.5 786.2L766.0 780.3L766.5 775.5L767.0 772.1L767.5 769.0L768.0 766.3L768.5 764.1L769.0 762.7L769.5 762.3L770.0 763.2L770.5 765.2L771.0 767.8L771.5 770.8L772.0 773.9L772.5 777.7L773.0 782.2L773.5 787.5L774.0 793.3L774.5 799.5L775.0 806.1L775.5 812.8L776.0 819.6L776.5 827.2L777.0 835.7L777.5 844.7L778.0 853.8L778.5 862.8L779.0 871.4L779.5 879.3L780.0 886.5L780.5 893.5L781.0 900.3L781.5 906.9L782.0 913.4L782.5 919.6L783.0 925.6L783.5 931.5L784.0 937.2L784.5 942.7L785.0 948.0L785.5 953.4L786.0 958.8L786.5 964.0L787.0 969.2L787.5 974.1L788.0 978.7L788.5 983.0L789.0 986.8L789.5 990.2L790.0 993.1L790.5 996.0L791.0 998.8L791.5 1001.5L792.0 1003.9L792.5 1006.0L793.0 1007.6L793.5 1008.6L794.0 1009.0L794.5 1008.6L795.0 1007.6L795.5 1006.0L796.0 1003.9L796.5 1001.5L797.0 998.8L797.5 996.0L798.0 992.5L798.5 987.7L799.0 981.9L799.5 975.1L800.0 967.7L800.5 959.8L801.0 951.5L801.5 943.1L802.0 933.6L802.5 922.8L803.0 911.0L803.5 898.6L804.0 885.9L804.5 873.1L805.0 860.4L805.5 847.6L806.0 834.4L806.5 820.7L807.0 806.2L807.5 790.6L808.0 773.7L808.5 755.7L809.0 737.0L809.5 718.0L810.0 697.8L810.5 676.4L811.0 655.3L811.5 636.5L812.0 620.9L812.5 606.7L813.0 593.8L813.5 582.5L814.0 573.3L814.5 564.8L815.0 557.0L815.5 550.7L816.0 546.8L816.5 545.1L817.0 543.5L817.5 542.2L818.0 541.0L818.5 540.0L819.0 539.1L819.5 538.5L820.0 538.0L820.5 537.7L821.0 537.6L821.5 538.9L822.0 542.6L822.5 547.8L823.0 553.9L823.5 560.3L824.0 566.5L824.5 573.6L825.0 581.8L825.5 590.6L826.0 599.6L826.5 608.7L827.0 617.3L827.5 625.6L828.0 634.1L828.5 642.5L829.0 650.8L829.5 658.9L830.0 666.7L830.5 674.0L831.0 680.9L831.5 687.7L832.0 694.2L832.5 700.4L833.0 706.2L833.5 711.6L834.0 716.7L834.5 721.4L835.0 725.9L835.5 730.3L836.0 734.4L836.5 738.4L837.0 742.2L837.5 746.0L838.0 749.7L838.5 753.4L839.0 757.1L839.5 760.8L840.0 764.3L840.5 767.6L841.0 770.6L841.5 773.2L842.0 775.7L842.5 778.2L843.0 780.5L843.5 782.6L844.0 784.2L844.5 785.1L845.0 785.2L845.5 784.5L846.0 783.0L846.5 781.0L847.0 778.7L847.5 776.2L848.0 773.7L848.5 771.0L849.0 767.5L849.5 763.5L850.0 759.5L850.5 755.8L851.0 752.8L851.5 750.9L852.0 749.5L852.5 748.3L853.0 747.3L853.5 746.4L854.0 745.7L854.5 745.1L855.0 744.8L855.5 744.5L856.0 744.3L856.5 744.1L857.0 744.1L857.5 744.8L858.0 746.3L858.5 748.5L859.0 751.0L859.5 753.8L860.0 756.7L860.5 759.5L861.0 762.9L861.5 766.7L862.0 770.8L862.5 775.2L863.0 779.7L863.5 784.2L864.0 788.5L864.5 792.9L865.0 797.7L865.5 803.4L866.0 811.0L866.5 822.2L867.0 834.5L867.5 845.0L868.0 853.6L868.5 862.1L869.0 870.2L869.5 878.0L870.0 885.3L870.5 892.1L871.0 898.3L871.5 903.8L872.0 908.5L872.5 912.5L873.0 916.4L873.5 920.1L874.0 923.7L874.5 927.2L875.0 930.3L875.5 933.1L876.0 935.5L876.5 937.4L877.0 938.8L877.5 939.6L878.0 939.6L878.5 938.8L879.0 937.2L879.5 934.8L880.0 931.6L880.5 927.9L881.0 923.5L881.5 918.6L882.0 913.3L882.5 906.3L883.0 893.9L883.5 877.4L884.0 858.9L884.5 840.3L885.0 823.4L885.5 806.8L886.0 789.8L886.5 772.5L887.0 754.6L887.5 736.3L888.0 717.0L888.5 696.9L889.0 676.4L889.5 655.9L890.0 635.7L890.5 616.2L891.0 597.2L891.5 578.5L892.0 560.0L892.5 541.7L893.0 523.6L893.5 505.9L894.0 488.6L894.5 471.0L895.0 452.4L895.5 432.3L896.0 411.5L896.5 390.8L897.0 370.8L897.5 351.1L898.0 330.3L898.5 310.6L899.0 294.2L899.5 283.2L900.0 275.3L900.5 270.4L901.0 268.9L901.5 267.8L902.0 266.7L902.5 265.8L903.0 265.1L903.5 264.4L904.0 263.9L904.5 263.5L905.0 263.2L905.5 263.0L906.0 262.9L906.5 263.7L907.0 271.7L907.5 284.6L908.0 298.0L908.5 311.3L909.0 326.3L909.5 342.2L910.0 358.0L910.5 372.8L911.0 387.1L911.5 401.1L912.0 415.1L912.5 429.1L913.0 443.4L913.5 458.0L914.0 472.8L914.5 487.6L915.0 503.2L915.5 520.0L916.0 538.8L916.5 559.4L917.0 580.7L917.5 601.8L918.0 622.3L918.5 643.3L919.0 664.7L919.5 685.6L920.0 705.6L920.5 723.9L921.0 740.0L921.5 754.2L922.0 767.3L922.5 779.3L923.0 790.2L923.5 800.0L924.0 809.5L924.5 819.2L925.0 829.0L925.5 838.4L926.0 847.3L926.5 855.2L927.0 861.9L927.5 867.0L928.0 870.3L928.5 871.5L929.0 870.6L929.5 868.2L930.0 864.5L930.5 860.1L931.0 855.1L931.5 850.0L932.0 844.1L932.5 836.7L933.0 828.1L933.5 818.8L934.0 808.9L934.5 797.7L935.0 785.2L935.5 772.0L936.0 758.3L936.5 744.6L937.0 731.1L937.5 718.0L938.0 705.0L938.5 692.1L939.0 679.0L939.5 665.8L940.0 652.4L940.5 638.9L941.0 625.0L941.5 611.1L942.0 597.3L942.5 583.4L943.0 569.3L943.5 554.7L944.0 539.6L944.5 523.8L945.0 507.0L945.5 488.8L946.0 468.2L946.5 445.9L947.0 422.9L947.5 400.2L948.0 378.8L948.5 359.5L949.0 340.9L949.5 323.0L950.0 306.2L950.5 290.7L951.0 276.6L951.5 262.8L952.0 249.5L952.5 237.4L953.0 226.9L953.5 218.6L954.0 211.9L954.5 205.5L955.0 199.4L955.5 194.0L956.0 189.5L956.5 186.2L957.0 184.3L957.5 184.3L958.0 187.2L958.5 192.3L959.0 198.6L959.5 205.0L960.0 210.3L960.5 214.1L961.0 217.1L961.5 220.1L962.0 223.8L962.5 229.0L963.0 238.3L963.5 263.1L964.0 292.8L964.5 317.9L965.0 342.9L965.5 367.3L966.0 390.0L966.5 411.0L967.0 431.1L967.5 450.4L968.0 469.0L968.5 487.2L969.0 505.0L969.5 522.3L970.0 539.0L970.5 555.3L971.0 571.5L971.5 588.0L972.0 604.9L972.5 621.9L973.0 639.0L973.5 656.1L974.0 673.1L974.5 689.8L975.0 706.2L975.5 722.6L976.0 739.1L976.5 755.4L977.0 771.1L977.5 786.1L978.0 800.0L978.5 812.9L979.0 825.3L979.5 837.1L980.0 848.4L980.5 859.3L981.0 869.8L981.5 880.1L982.0 891.1L982.5 902.9L983.0 915.0L983.5 926.6L984.0 937.2L984.5 946.1L985.0 952.8L985.5 956.6L986.0 957.2L986.5 955.9L987.0 953.5L987.5 950.0L988.0 945.7L988.5 940.8L989.0 935.4L989.5 929.8L990.0 924.2L990.5 918.4L991.0 911.3L991.5 903.1L992.0 894.1L992.5 884.5L993.0 874.6L993.5 864.8L994.0 855.4L994.5 846.6L995.0 838.8L995.5 831.7L996.0 824.6L996.5 816.9L997.0 808.0L997.5 797.0L998.0 784.1L998.5 769.8L999.0 754.9L999.5 740.1L1000.0 726.0L1000.5 712.5L1001.0 699.0L1001.5 685.5L1002.0 672.1L1002.5 658.8L1003.0 645.6L1003.5 632.7L1004.0 620.0L1004.5 607.6L1005.0 595.4L1005.5 583.4L1006.0 571.5L1006.5 559.5L1007.0 547.4L1007.5 535.0L1008.0 522.4L1008.5 509.5L1009.0 496.5L1009.5 483.6L1010.0 471.0L1010.5 458.7L1011.0 447.0L1011.5 435.6L1012.0 424.3L1012.5 413.3L1013.0 402.7L1013.5 392.6L1014.0 383.2L1014.5 374.7L1015.0 366.7L1015.5 359.2L1016.0 352.1L1016.5 345.3L1017.0 338.8L1017.5 332.5L1018.0 326.0L1018.5 318.9L1019.0 312.1L1019.5 307.2L1020.0 305.4L1020.5 304.8L1021.0 304.4L1021.5 303.9L1022.0 303.6L1022.5 303.2L1023.0 303.0L1023.5 302.7L1024.0 302.6L1024.5 302.4L1025.0 302.3L1025.5 302.2L1026.0 302.2L1026.5 302.5L1027.0 305.3L1027.5 310.6L1028.0 317.5L1028.5 325.3L1029.0 333.2L1029.5 340.4L1030.0 346.6L1030.5 353.4L1031.0 360.4L1031.5 367.3L1032.0 373.7L1032.5 379.0L1033.0 382.9L1033.5 385.4L1034.0 387.5L1034.5 389.5L1035.0 391.3L1035.5 392.9L1036.0 394.3L1036.5 395.4L1037.0 396.1L1037.5 396.5L1038.0 396.3L1038.5 393.5L1039.0 388.3L1039.5 381.3L1040.0 373.3L1040.5 365.0L1041.0 357.2L1041.5 349.8L1042.0 341.2L1042.5 331.7L1043.0 322.3L1043.5 313.7L1044.0 306.8L1044.5 302.2L1045.0 299.8L1045.5 297.7L1046.0 295.7L1046.5 293.9L1047.0 292.4L1047.5 291.2L1048.0 290.2L1048.5 289.5L1049.0 289.2L1049.5 289.7L1050.0 292.4L1050.5 297.1L1051.0 303.2L1051.5 310.3L1052.0 317.9L1052.5 325.5L1053.0 333.2L1053.5 341.7L1054.0 351.4L1054.5 362.1L1055.0 374.1L1055.5 387.2L1056.0 402.7L1056.5 421.9L1057.0 443.3L1057.5 465.6L1058.0 488.9L1058.5 515.0L1059.0 541.7L1059.5 567.0L1060.0 588.6L1060.5 606.4L1061.0 622.2L1061.5 636.9L1062.0 651.3L1062.5 666.0L1063.0 680.1L1063.5 693.9L1064.0 707.9L1064.5 722.7L1065.0 739.1L1065.5 757.4L1066.0 776.3L1066.5 794.2L1067.0 809.8L1067.5 822.5L1068.0 835.4L1068.5 848.0L1069.0 859.4L1069.5 868.6L1070.0 874.7L1070.5 877.0L1071.0 876.5L1071.5 875.0L1072.0 872.6L1072.5 869.6L1073.0 866.0L1073.5 861.9L1074.0 857.6L1074.5 853.1L1075.0 848.5L1075.5 844.1L1076.0 839.2L1076.5 833.5L1077.0 827.3L1077.5 820.7L1078.0 813.9L1078.5 806.9L1079.0 800.0L1079.5 793.0L1080.0 785.7L1080.5 778.2L1081.0 770.6L1081.5 762.8L1082.0 754.9L1082.5 747.0L1083.0 739.0L1083.5 730.8L1084.0 722.4L1084.5 714.0L1085.0 705.5L1085.5 697.0L1086.0 688.5L1086.5 680.2L1087.0 671.9L1087.5 663.6L1088.0 655.1L1088.5 646.3L1089.0 637.5L1089.5 628.9L1090.0 620.7L1090.5 613.0L1091.0 606.0L1091.5 600.0L1092.0 594.8L1092.5 590.0L1093.0 585.6L1093.5 581.6L1094.0 577.7L1094.5 573.8L1095.0 570.0L1095.5 566.0L1096.0 562.0L1096.5 558.2L1097.0 554.8L1097.5 552.0L1098.0 549.5L1098.5 546.9L1099.0 544.5L1099.5 542.4L1100.0 540.7L1100.5 539.6L1101.0 539.2L1101.5 539.3L1102.0 539.6L1102.5 540.0L1103.0 540.5L1103.5 541.0L1104.0 541.4L1104.5 541.8L1105.0 542.0L1105.5 542.0L1106.0 542.0L1106.5 541.9L1107.0 541.9L1107.5 541.8L1108.0 541.6L1108.5 541.5L1109.0 541.3L1109.5 541.1L1110.0 540.7L1110.5 538.8L1111.0 535.5L1111.5 531.3L1112.0 526.6L1112.5 522.0L1113.0 517.2L1113.5 511.8L1114.0 505.8L1114.5 499.5L1115.0 492.9L1115.5 486.1L1116.0 479.4L1116.5 472.8L1117.0 466.0L1117.5 458.4L1118.0 450.5L1118.5 442.8L1119.0 435.7L1119.5 429.9L1120.0 425.7L1120.5 422.7L1121.0 420.0L1121.5 417.5L1122.0 415.3L1122.5 413.3L1123.0 411.6L1123.5 410.1L1124.0 408.8L1124.5 407.7L1125.0 406.8L1125.5 406.1L1126.0 405.5L1126.5 405.0L1127.0 404.6L1127.5 404.1L1128.0 403.7L1128.5 403.2L1129.0 402.6L1129.5 401.9L1130.0 401.0L1130.5 399.7L1131.0 397.3L1131.5 393.6L1132.0 389.1L1132.5 384.0L1133.0 378.4L1133.5 372.8L1134.0 367.3L1134.5 361.4L1135.0 354.9L1135.5 348.0L1136.0 340.7L1136.5 332.9L1137.0 324.8L1137.5 316.3L1138.0 306.8L1138.5 296.5L1139.0 285.8L1139.5 274.9L1140.0 264.0L1140.5 253.5L1141.0 243.4L1141.5 233.2L1142.0 223.1L1142.5 213.3L1143.0 203.9L1143.5 195.0"/>
<path class="c" stroke="#c8960f" d="M177.0 1062.8L177.5 1062.8L178.0 1062.8L178.5 1062.8L179.0 1062.8L179.5 1062.8L180.0 1062.8L180.5 1062.8L181.0 1062.8L181.5 1062.8L182.0 1062.8L182.5 1062.8L183.0 1062.8L183.5 1062.8L184.0 1062.8L184.5 1062.8L185.0 1062.8L185.5 1062.8L186.0 1062.8L186.5 1062.8L187.0 1062.8L187.5 1062.8L188.0 1062.8L188.5 1062.8L189.0 1062.8L189.5 1062.8L190.0 1062.8L190.5 1062.8L191.0 1062.8L191.5 1062.8L192.0 1062.8L192.5 1062.8L193.0 1062.8L193.5 1062.8L194.0 1062.8L194.5 1062.8L195.0 1062.8L195.5 1062.8L196.0 1062.8L196.5 1062.8L197.0 1062.8L197.5 1062.8L198.0 1062.8L198.5 1062.8L199.0 1062.8L199.5 1062.8L200.0 1062.8L200.5 1062.8L201.0 1062.8L201.5 1062.8L202.0 1062.8L202.5 1062.8L203.0 1062.8L203.5 1062.8L204.0 1062.8L204.5 1062.8L205.0 1062.8L205.5 1062.8L206.0 1062.8L206.5 1062.8L207.0 1062.8L207.5 1062.8L208.0 1062.8L208.5 1062.8L209.0 1062.8L209.5 1062.8L210.0 1062.8L210.5 1062.8L211.0 1062.8L211.5 1062.8L212.0 1062.8L212.5 1062.8L213.0 1062.8L213.5 1062.8L214.0 1062.8L214.5 1062.8L215.0 1062.8L215.5 1062.8L216.0 1062.8L216.5 1062.8L217.0 1062.8L217.5 1062.8L218.0 1062.8L218.5 1062.8L219.0 1062.8L219.5 1062.8L220.0 1062.8L220.5 1062.8L221.0 1062.8L221.5 1062.8L222.0 1062.8L222.5 1062.8L223.0 1062.8L223.5 1062.8L224.0 1062.8L224.5 1062.8L225.0 1062.8L225.5 1062.8L226.0 1062.8L226.5 1062.8L227.0 1062.8L227.5 1062.8L228.0 1062.8L228.5 1062.8L229.0 1062.8L229.5 1062.8L230.0 1062.8L230.5 1062.8L231.0 1062.8L231.5 1062.8L232.0 1062.8L232.5 1062.8L233.0 1062.8L233.5 1062.8L234.0 1062.8L234.5 1062.8L235.0 1062.8L235.5 1062.8L236.0 1062.8L236.5 1062.8L237.0 1062.8L237.5 1062.8L238.0 1062.8L238.5 1062.8L239.0 1062.8L239.5 1062.8L240.0 1062.8L240.5 1062.8L241.0 1062.8L241.5 1062.8L242.0 1062.8L242.5 1062.8L243.0 1062.8L243.5 1062.8L244.0 1062.8L244.5 1062.8L245.0 1062.8L245.5 1062.8L246.0 1062.8L246.5 1062.8L247.0 1062.8L247.5 1062.8L248.0 1062.8L248.5 1062.8L249.0 1062.8L249.5 1062.8L250.0 1062.8L250.5 1062.8L251.0 1062.8L251.5 1062.8L252.0 1062.8L252.5 1062.8L253.0 1062.8L253.5 1062.8L254.0 1062.8L254.5 1062.8L255.0 1062.8L255.5 1062.8L256.0 1062.7L256.5 1062.6L257.0 1062.6L257.5 1062.5L258.0 1062.4L258.5 1062.3L259.0 1062.2L259.5 1062.1L260.0 1062.0L260.5 1061.9L261.0 1061.8L261.5 1061.7L262.0 1061.6L262.5 1061.4L263.0 1061.3L263.5 1061.2L264.0 1061.1L264.5 1061.0L265.0 1060.9L265.5 1060.7L266.0 1060.6L266.5 1060.5L267.0 1060.4L267.5 1060.3L268.0 1060.2L268.5 1060.0L269.0 1059.9L269.5 1059.8L270.0 1059.7L270.5 1059.6L271.0 1059.5L271.5 1059.4L272.0 1059.3L272.5 1059.2L273.0 1059.2L273.5 1059.1L274.0 1059.0L274.5 1058.9L275.0 1058.9L275.5 1058.8L276.0 1058.7L276.5 1058.6L277.0 1058.6L277.5 1058.7L278.0 1058.8L278.5 1058.9L279.0 1058.9L279.5 1059.0L280.0 1059.1L280.5 1059.2L281.0 1059.2L281.5 1059.3L282.0 1059.4L282.5 1059.5L283.0 1059.6L283.5 1059.7L284.0 1059.8L284.5 1059.9L285.0 1060.0L285.5 1060.2L286.0 1060.3L286.5 1060.4L287.0 1060.5L287.5 1060.6L288.0 1060.7L288.5 1060.9L289.0 1061.0L289.5 1061.1L290.0 1061.2L290.5 1061.3L291.0 1061.4L291.5 1061.6L292.0 1061.7L292.5 1061.8L293.0 1061.9L293.5 1062.0L294.0 1062.1L294.5 1062.2L295.0 1062.3L295.5 1062.4L296.0 1062.5L296.5 1062.6L297.0 1062.6L297.5 1062.7L298.0 1062.8L298.5 1062.8L299.0 1062.8L299.5 1062.8L300.0 1062.8L300.5 1062.8L301.0 1062.8L301.5 1062.8L302.0 1062.8L302.5 1062.8L303.0 1062.8L303.5 1062.8L304.0 1062.8L304.5 1062.8L305.0 1062.8L305.5 1062.8L306.0 1062.8L306.5 1062.8L307.0 1062.8L307.5 1062.8L308.0 1062.8L308.5 1062.8L309.0 1062.8L309.5 1062.8L310.0 1062.8L310.5 1062.8L311.0 1062.8L311.5 1062.8L312.0 1062.8L312.5 1062.8L313.0 1062.8L313.5 1062.8L314.0 1062.8L314.5 1062.8L315.0 1062.8L315.5 1062.8L316.0 1062.8L316.5 1062.8L317.0 1062.8L317.5 1062.8L318.0 1062.8L318.5 1062.8L319.0 1062.8L319.5 1062.8L320.0 1062.8L320.5 1062.8L321.0 1062.8L321.5 1062.8L322.0 1062.8L322.5 1062.8L323.0 1062.8L323.5 1062.8L324.0 1062.8L324.5 1062.8L325.0 1062.8L325.5 1062.8L326.0 1062.8L326.5 1062.8L327.0 1062.8L327.5 1062.8L328.0 1062.8L328.5 1062.8L329.0 1062.8L329.5 1062.8L330.0 1062.8L330.5 1062.8L331.0 1062.8L331.5 1062.8L332.0 1062.8L332.5 1062.8L333.0 1062.8L333.5 1062.8L334.0 1062.8L334.5 1062.8L335.0 1062.8L335.5 1062.8L336.0 1062.8L336.5 1062.8L337.0 1062.8L337.5 1062.8L338.0 1062.8L338.5 1062.8L339.0 1062.8L339.5 1062.8L340.0 1062.8L340.5 1062.8L341.0 1062.8L341.5 1062.8L342.0 1062.6L342.5 1062.4L343.0 1062.1L343.5 1061.9L344.0 1061.6L344.5 1061.3L345.0 1061.0L345.5 1060.7L346.0 1060.5L346.5 1060.2L347.0 1060.0L347.5 1059.8L348.0 1059.6L348.5 1059.3L349.0 1059.1L349.5 1058.8L350.0 1058.6L350.5 1058.4L351.0 1058.2L351.5 1058.0L352.0 1057.8L352.5 1057.6L353.0 1057.5L353.5 1057.4L354.0 1057.3L354.5 1057.1L355.0 1057.0L355.5 1056.9L356.0 1056.9L356.5 1056.8L357.0 1056.8L357.5 1056.8L358.0 1056.9L358.5 1056.9L359.0 1057.0L359.5 1057.1L360.0 1057.3L360.5 1057.4L361.0 1057.5L361.5 1057.6L362.0 1057.7L362.5 1057.8L363.0 1057.8L363.5 1057.8L364.0 1057.8L364.5 1057.9L365.0 1057.9L365.5 1057.9L366.0 1057.9L366.5 1057.9L367.0 1058.0L367.5 1058.0L368.0 1058.0L368.5 1058.0L369.0 1058.0L369.5 1058.0L370.0 1058.0L370.5 1058.0L371.0 1058.0L371.5 1057.9L372.0 1057.7L372.5 1057.5L373.0 1057.3L373.5 1057.0L374.0 1056.8L374.5 1056.5L375.0 1056.2L375.5 1055.9L376.0 1055.5L376.5 1055.3L377.0 1055.0L377.5 1054.7L378.0 1054.5L378.5 1054.3L379.0 1054.1L379.5 1053.8L380.0 1053.6L380.5 1053.3L381.0 1053.1L381.5 1052.8L382.0 1052.6L382.5 1052.4L383.0 1052.2L383.5 1052.0L384.0 1051.9L384.5 1051.7L385.0 1051.7L385.5 1051.6L386.0 1051.6L386.5 1051.6L387.0 1051.6L387.5 1051.6L388.0 1051.7L388.5 1051.7L389.0 1051.7L389.5 1051.8L390.0 1051.8L390.5 1051.8L391.0 1051.9L391.5 1051.9L392.0 1051.9L392.5 1052.0L393.0 1052.0L393.5 1052.0L394.0 1052.1L394.5 1052.1L395.0 1052.1L395.5 1052.1L396.0 1052.2L396.5 1052.2L397.0 1052.2L397.5 1052.2L398.0 1052.3L398.5 1052.3L399.0 1052.4L399.5 1052.4L400.0 1052.4L400.5 1052.5L401.0 1052.6L401.5 1052.7L402.0 1052.9L402.5 1053.1L403.0 1053.3L403.5 1053.5L404.0 1053.8L404.5 1054.1L405.0 1054.4L405.5 1054.7L406.0 1055.0L406.5 1055.3L407.0 1055.6L407.5 1055.8L408.0 1056.1L408.5 1056.3L409.0 1056.5L409.5 1056.7L410.0 1056.9L410.5 1057.1L411.0 1057.3L411.5 1057.5L412.0 1057.7L412.5 1057.9L413.0 1058.1L413.5 1058.3L414.0 1058.5L414.5 1058.6L415.0 1058.8L415.5 1059.0L416.0 1059.1L416.5 1059.2L417.0 1059.4L417.5 1059.5L418.0 1059.6L418.5 1059.6L419.0 1059.7L419.5 1059.7L420.0 1059.7L420.5 1059.6L421.0 1059.5L421.5 1059.4L422.0 1059.2L422.5 1058.9L423.0 1058.7L423.5 1058.4L424.0 1058.1L424.5 1057.7L425.0 1057.4L425.5 1057.1L426.0 1056.7L426.5 1056.4L427.0 1056.1L427.5 1055.8L428.0 1055.6L428.5 1055.3L429.0 1055.1L429.5 1054.9L430.0 1054.7L430.5 1054.5L431.0 1054.3L431.5 1054.0L432.0 1053.8L432.5 1053.6L433.0 1053.4L433.5 1053.2L434.0 1053.0L434.5 1052.9L435.0 1052.7L435.5 1052.6L436.0 1052.5L436.5 1052.5L437.0 1052.4L437.5 1052.4L438.0 1052.4L438.5 1052.5L439.0 1052.7L439.5 1052.8L440.0 1053.0L440.5 1053.2L441.0 1053.5L441.5 1053.8L442.0 1054.1L442.5 1054.4L443.0 1054.7L443.5 1055.0L444.0 1055.3L444.5 1055.6L445.0 1055.8L445.5 1056.1L446.0 1056.3L446.5 1056.5L447.0 1056.7L447.5 1056.9L448.0 1057.2L448.5 1057.4L449.0 1057.6L449.5 1057.8L450.0 1058.0L450.5 1058.2L451.0 1058.4L451.5 1058.6L452.0 1058.7L452.5 1058.9L453.0 1059.0L453.5 1059.1L454.0 1059.3L454.5 1059.4L455.0 1059.5L455.5 1059.6L456.0 1059.8L456.5 1059.9L457.0 1060.0L457.5 1060.1L458.0 1060.2L458.5 1060.3L459.0 1060.3L459.5 1060.4L460.0 1060.4L460.5 1060.4L461.0 1060.4L461.5 1060.3L462.0 1060.3L462.5 1060.2L463.0 1060.1L463.5 1060.0L464.0 1059.8L464.5 1059.6L465.0 1059.5L465.5 1059.3L466.0 1059.0L466.5 1058.8L467.0 1058.6L467.5 1058.4L468.0 1058.1L468.5 1057.8L469.0 1057.6L469.5 1057.3L470.0 1057.1L470.5 1056.8L471.0 1056.5L471.5 1056.2L472.0 1055.8L472.5 1055.3L473.0 1054.9L473.5 1054.4L474.0 1053.8L474.5 1053.3L475.0 1052.8L475.5 1052.3L476.0 1051.7L476.5 1051.2L477.0 1050.8L477.5 1050.3L478.0 1049.9L478.5 1049.6L479.0 1049.2L479.5 1048.8L480.0 1048.4L480.5 1048.1L481.0 1047.7L481.5 1047.3L482.0 1047.0L482.5 1046.6L483.0 1046.3L483.5 1046.1L484.0 1045.8L484.5 1045.6L485.0 1045.5L485.5 1045.4L486.0 1045.4L486.5 1045.4L487.0 1045.5L487.5 1045.7L488.0 1045.9L488.5 1046.1L489.0 1046.4L489.5 1046.6L490.0 1047.0L490.5 1047.3L491.0 1047.6L491.5 1048.0L492.0 1048.3L492.5 1048.7L493.0 1049.1L493.5 1049.6L494.0 1050.1L494.5 1050.7L495.0 1051.4L495.5 1052.1L496.0 1052.7L496.5 1053.4L497.0 1054.1L497.5 1054.8L498.0 1055.4L498.5 1055.9L499.0 1056.4L499.5 1056.8L500.0 1057.3L500.5 1057.7L501.0 1058.1L501.5 1058.5L502.0 1058.9L502.5 1059.3L503.0 1059.7L503.5 1060.0L504.0 1060.3L504.5 1060.6L505.0 1060.9L505.5 1061.1L506.0 1061.3L506.5 1061.5L507.0 1061.7L507.5 1061.9L508.0 1062.1L508.5 1062.3L509.0 1062.5L509.5 1062.6L510.0 1062.7L510.5 1062.8L511.0 1062.8L511.5 1062.8L512.0 1062.8L512.5 1062.8L513.0 1062.8L513.5 1062.8L514.0 1062.8L514.5 1062.8L515.0 1062.8L515.5 1062.8L516.0 1062.8L516.5 1062.8L517.0 1062.8L517.5 1062.8L518.0 1062.8L518.5 1062.8L519.0 1062.8L519.5 1062.8L520.0 1062.8L520.5 1062.8L521.0 1062.8L521.5 1062.8L522.0 1062.8L522.5 1062.8L523.0 1062.8L523.5 1062.8L524.0 1062.8L524.5 1062.8L525.0 1062.8L525.5 1062.8L526.0 1062.8L526.5 1062.8L527.0 1062.8L527.5 1062.8L528.0 1062.8L528.5 1062.8L529.0 1062.8L529.5 1062.8L530.0 1062.8L530.5 1062.8L531.0 1062.8L531.5 1062.8L532.0 1062.8L532.5 1062.8L533.0 1062.8L533.5 1062.8L534.0 1062.8L534.5 1062.8L535.0 1062.8L535.5 1062.8L536.0 1062.8L536.5 1062.8L537.0 1062.8L537.5 1062.8L538.0 1062.8L538.5 1062.8L539.0 1062.8L539.5 1062.8L540.0 1062.8L540.5 1062.8L541.0 1062.8L541.5 1062.8L542.0 1062.8L542.5 1062.8L543.0 1062.8L543.5 1062.8L544.0 1062.8L544.5 1062.8L545.0 1062.8L545.5 1062.8L546.0 1062.8L546.5 1062.8L547.0 1062.8L547.5 1062.8L548.0 1062.8L548.5 1062.8L549.0 1062.8L549.5 1062.8L550.0 1062.8L550.5 1062.8L551.0 1062.8L551.5 1062.8L552.0 1062.8L552.5 1062.8L553.0 1062.8L553.5 1062.8L554.0 1062.8L554.5 1062.8L555.0 1062.8L555.5 1062.8L556.0 1062.8L556.5 1062.8L557.0 1062.8L557.5 1062.8L558.0 1062.8L558.5 1062.8L559.0 1062.8L559.5 1062.8L560.0 1062.8L560.5 1062.8L561.0 1062.8L561.5 1062.8L562.0 1062.8L562.5 1062.8L563.0 1062.8L563.5 1062.8L564.0 1062.8L564.5 1062.8L565.0 1062.8L565.5 1062.8L566.0 1062.8L566.5 1062.8L567.0 1062.8L567.5 1062.8L568.0 1062.8L568.5 1062.8L569.0 1062.8L569.5 1062.8L570.0 1062.8L570.5 1062.8L571.0 1062.8L571.5 1062.8L572.0 1062.8L572.5 1062.8L573.0 1062.8L573.5 1062.8L574.0 1062.8L574.5 1062.8L575.0 1062.8L575.5 1062.8L576.0 1062.8L576.5 1062.8L577.0 1062.8L577.5 1062.8L578.0 1062.8L578.5 1062.8L579.0 1062.8L579.5 1062.8L580.0 1062.8L580.5 1062.8L581.0 1062.8L581.5 1062.8L582.0 1062.8L582.5 1062.8L583.0 1062.8L583.5 1062.8L584.0 1062.8L584.5 1062.8L585.0 1062.8L585.5 1062.8L586.0 1062.8L586.5 1062.8L587.0 1062.8L587.5 1062.8L588.0 1062.8L588.5 1062.8L589.0 1062.8L589.5 1062.8L590.0 1062.8L590.5 1062.8L591.0 1062.8L591.5 1062.8L592.0 1062.8L592.5 1062.8L593.0 1062.8L593.5 1062.8L594.0 1062.8L594.5 1062.8L595.0 1062.8L595.5 1062.8L596.0 1062.8L596.5 1062.8L597.0 1062.8L597.5 1062.8L598.0 1062.8L598.5 1062.8L599.0 1062.8L599.5 1062.8L600.0 1062.8L600.5 1062.8L601.0 1062.8L601.5 1062.8L602.0 1062.8L602.5 1062.8L603.0 1062.8L603.5 1062.8L604.0 1062.8L604.5 1062.8L605.0 1062.8L605.5 1062.8L606.0 1062.8L606.5 1062.8L607.0 1062.8L607.5 1062.8L608.0 1062.8L608.5 1062.8L609.0 1062.8L609.5 1062.8L610.0 1062.8L610.5 1062.8L611.0 1062.8L611.5 1062.8L612.0 1062.8L612.5 1062.8L613.0 1062.8L613.5 1062.8L614.0 1062.8L614.5 1062.8L615.0 1062.8L615.5 1062.8L616.0 1062.8L616.5 1062.8L617.0 1062.8L617.5 1062.8L618.0 1062.8L618.5 1062.8L619.0 1062.8L619.5 1062.8L620.0 1062.8L620.5 1062.8L621.0 1062.8L621.5 1062.8L622.0 1062.8L622.5 1062.8L623.0 1062.8L623.5 1062.8L624.0 1062.8L624.5 1062.8L625.0 1062.8L625.5 1062.8L626.0 1062.8L626.5 1062.8L627.0 1062.8L627.5 1062.8L628.0 1062.8L628.5 1062.8L629.0 1062.8L629.5 1062.8L630.0 1062.8L630.5 1062.8L631.0 1062.8L631.5 1062.8L632.0 1062.8L632.5 1062.8L633.0 1062.8L633.5 1062.8L634.0 1062.8L634.5 1062.8L635.0 1062.8L635.5 1062.8L636.0 1062.8L636.5 1062.8L637.0 1062.8L637.5 1062.8L638.0 1062.8L638.5 1062.8L639.0 1062.8L639.5 1062.8L640.0 1062.8L640.5 1062.8L641.0 1062.8L641.5 1062.8L642.0 1062.8L642.5 1062.8L643.0 1062.8L643.5 1062.8L644.0 1062.8L644.5 1062.8L645.0 1062.8L645.5 1062.8L646.0 1062.8L646.5 1062.8L647.0 1062.8L647.5 1062.8L648.0 1062.8L648.5 1062.8L649.0 1062.8L649.5 1062.8L650.0 1062.8L650.5 1062.8L651.0 1062.8L651.5 1062.8L652.0 1062.8L652.5 1062.8L653.0 1062.8L653.5 1062.8L654.0 1062.8L654.5 1062.8L655.0 1062.8L655.5 1062.8L656.0 1062.8L656.5 1062.8L657.0 1062.8L657.5 1062.8L658.0 1062.8L658.5 1062.8L659.0 1062.8L659.5 1062.8L660.0 1062.8L660.5 1062.8L661.0 1062.8L661.5 1062.8L662.0 1062.8L662.5 1062.8L663.0 1062.8L663.5 1062.8L664.0 1062.8L664.5 1062.8L665.0 1062.8L665.5 1062.8L666.0 1062.8L666.5 1062.8L667.0 1062.8L667.5 1062.8L668.0 1062.8L668.5 1062.8L669.0 1062.8L669.5 1062.8L670.0 1062.8L670.5 1062.8L671.0 1062.8L671.5 1062.8L672.0 1062.8L672.5 1062.8L673.0 1062.8L673.5 1062.8L674.0 1062.8L674.5 1062.8L675.0 1062.8L675.5 1062.8L676.0 1062.8L676.5 1062.8L677.0 1062.8L677.5 1062.8L678.0 1062.8L678.5 1062.8L679.0 1062.8L679.5 1062.8L680.0 1062.8L680.5 1062.8L681.0 1062.8L681.5 1062.8L682.0 1062.8L682.5 1062.8L683.0 1062.8L683.5 1062.8L684.0 1062.8L684.5 1062.8L685.0 1062.8L685.5 1062.8L686.0 1062.8L686.5 1062.8L687.0 1062.8L687.5 1062.8L688.0 1062.8L688.5 1062.8L689.0 1062.8L689.5 1062.8L690.0 1062.8L690.5 1062.8L691.0 1062.8L691.5 1062.8L692.0 1062.8L692.5 1062.8L693.0 1062.8L693.5 1062.8L694.0 1062.8L694.5 1062.8L695.0 1062.8L695.5 1062.8L696.0 1062.8L696.5 1062.8L697.0 1062.8L697.5 1062.8L698.0 1062.8L698.5 1062.8L699.0 1062.8L699.5 1062.8L700.0 1062.8L700.5 1062.8L701.0 1062.8L701.5 1062.8L702.0 1062.8L702.5 1062.8L703.0 1062.8L703.5 1062.7L704.0 1062.6L704.5 1062.6L705.0 1062.5L705.5 1062.4L706.0 1062.3L706.5 1062.2L707.0 1062.1L707.5 1062.0L708.0 1061.9L708.5 1061.8L709.0 1061.7L709.5 1061.6L710.0 1061.5L710.5 1061.4L711.0 1061.3L711.5 1061.2L712.0 1061.1L712.5 1061.0L713.0 1060.8L713.5 1060.7L714.0 1060.6L714.5 1060.4L715.0 1060.3L715.5 1060.2L716.0 1060.0L716.5 1059.9L717.0 1059.7L717.5 1059.6L718.0 1059.5L718.5 1059.4L719.0 1059.2L719.5 1059.1L720.0 1059.0L720.5 1058.9L721.0 1058.9L721.5 1058.8L722.0 1058.7L722.5 1058.7L723.0 1058.6L723.5 1058.6L724.0 1058.6L724.5 1058.6L725.0 1058.6L725.5 1058.7L726.0 1058.8L726.5 1058.8L727.0 1058.9L727.5 1059.1L728.0 1059.2L728.5 1059.3L729.0 1059.4L729.5 1059.6L730.0 1059.7L730.5 1059.9L731.0 1060.0L731.5 1060.2L732.0 1060.4L732.5 1060.5L733.0 1060.7L733.5 1060.8L734.0 1060.9L734.5 1061.0L735.0 1061.2L735.5 1061.3L736.0 1061.3L736.5 1061.4L737.0 1061.5L737.5 1061.5L738.0 1061.5L738.5 1061.5L739.0 1061.5L739.5 1061.5L740.0 1061.5L740.5 1061.5L741.0 1061.5L741.5 1061.5L742.0 1061.5L742.5 1061.5L743.0 1061.5L743.5 1061.5L744.0 1061.5L744.5 1061.5L745.0 1061.5L745.5 1061.5L746.0 1061.5L746.5 1061.5L747.0 1061.5L747.5 1061.5L748.0 1061.5L748.5 1061.5L749.0 1061.5L749.5 1061.5L750.0 1061.5L750.5 1061.5L751.0 1061.5L751.5 1061.5L752.0 1061.5L752.5 1061.5L753.0 1061.5L753.5 1061.5L754.0 1061.5L754.5 1061.5L755.0 1061.5L755.5 1061.5L756.0 1061.5L756.5 1061.5L757.0 1061.4L757.5 1061.4L758.0 1061.4L758.5 1061.3L759.0 1061.3L759.5 1061.2L760.0 1061.2L760.5 1061.1L761.0 1061.1L761.5 1061.0L762.0 1060.9L762.5 1060.9L763.0 1060.8L763.5 1060.7L764.0 1060.6L764.5 1060.6L765.0 1060.5L765.5 1060.4L766.0 1060.3L766.5 1060.3L767.0 1060.2L767.5 1060.1L768.0 1060.0L768.5 1059.9L769.0 1059.9L769.5 1059.8L770.0 1059.7L770.5 1059.7L771.0 1059.6L771.5 1059.5L772.0 1059.5L772.5 1059.4L773.0 1059.4L773.5 1059.3L774.0 1059.3L774.5 1059.3L775.0 1059.2L775.5 1059.2L776.0 1059.2L776.5 1059.2L777.0 1059.2L777.5 1059.2L778.0 1059.2L778.5 1059.2L779.0 1059.3L779.5 1059.3L780.0 1059.4L780.5 1059.4L781.0 1059.5L781.5 1059.5L782.0 1059.6L782.5 1059.7L783.0 1059.7L783.5 1059.8L784.0 1059.9L784.5 1060.0L785.0 1060.0L785.5 1060.1L786.0 1060.2L786.5 1060.3L787.0 1060.3L787.5 1060.4L788.0 1060.5L788.5 1060.6L789.0 1060.6L789.5 1060.7L790.0 1060.8L790.5 1060.8L791.0 1060.9L791.5 1060.9L792.0 1060.9L792.5 1061.0L793.0 1061.0L793.5 1061.0L794.0 1061.0L794.5 1060.9L795.0 1060.8L795.5 1060.6L796.0 1060.3L796.5 1059.9L797.0 1059.6L797.5 1059.2L798.0 1058.8L798.5 1058.4L799.0 1058.0L799.5 1057.6L800.0 1057.3L800.5 1056.9L801.0 1056.5L801.5 1056.1L802.0 1055.7L802.5 1055.3L803.0 1054.8L803.5 1054.4L804.0 1053.9L804.5 1053.4L805.0 1052.8L805.5 1052.1L806.0 1051.5L806.5 1050.8L807.0 1050.1L807.5 1049.4L808.0 1048.7L808.5 1048.0L809.0 1047.4L809.5 1046.8L810.0 1046.3L810.5 1045.9L811.0 1045.6L811.5 1045.3L812.0 1045.1L812.5 1044.8L813.0 1044.5L813.5 1044.3L814.0 1044.1L814.5 1043.9L815.0 1043.7L815.5 1043.6L816.0 1043.4L816.5 1043.4L817.0 1043.3L817.5 1043.3L818.0 1043.4L818.5 1043.5L819.0 1043.8L819.5 1044.1L820.0 1044.4L820.5 1044.8L821.0 1045.2L821.5 1045.7L822.0 1046.1L822.5 1046.6L823.0 1047.0L823.5 1047.5L824.0 1048.0L824.5 1048.5L825.0 1049.2L825.5 1049.8L826.0 1050.5L826.5 1051.2L827.0 1052.0L827.5 1052.7L828.0 1053.4L828.5 1054.1L829.0 1054.7L829.5 1055.3L830.0 1055.8L830.5 1056.2L831.0 1056.6L831.5 1057.0L832.0 1057.4L832.5 1057.7L833.0 1058.1L833.5 1058.4L834.0 1058.8L834.5 1059.1L835.0 1059.4L835.5 1059.7L836.0 1059.9L836.5 1060.1L837.0 1060.2L837.5 1060.3L838.0 1060.4L838.5 1060.4L839.0 1060.4L839.5 1060.4L840.0 1060.3L840.5 1060.3L841.0 1060.2L841.5 1060.1L842.0 1060.1L842.5 1060.0L843.0 1059.9L843.5 1059.8L844.0 1059.7L844.5 1059.6L845.0 1059.5L845.5 1059.5L846.0 1059.4L846.5 1059.3L847.0 1059.2L847.5 1059.2L848.0 1059.1L848.5 1059.1L849.0 1059.0L849.5 1059.0L850.0 1059.0L850.5 1059.0L851.0 1059.0L851.5 1059.0L852.0 1059.1L852.5 1059.1L853.0 1059.1L853.5 1059.2L854.0 1059.2L854.5 1059.2L855.0 1059.3L855.5 1059.3L856.0 1059.4L856.5 1059.5L857.0 1059.5L857.5 1059.6L858.0 1059.6L858.5 1059.7L859.0 1059.8L859.5 1059.8L860.0 1059.9L860.5 1060.0L861.0 1060.0L861.5 1060.1L862.0 1060.1L862.5 1060.2L863.0 1060.2L863.5 1060.3L864.0 1060.3L864.5 1060.4L865.0 1060.4L865.5 1060.5L866.0 1060.5L866.5 1060.6L867.0 1060.6L867.5 1060.7L868.0 1060.7L868.5 1060.8L869.0 1060.8L869.5 1060.9L870.0 1060.9L870.5 1060.9L871.0 1061.0L871.5 1061.0L872.0 1061.1L872.5 1061.1L873.0 1061.1L873.5 1061.2L874.0 1061.2L874.5 1061.2L875.0 1061.2L875.5 1061.2L876.0 1061.2L876.5 1061.1L877.0 1061.1L877.5 1060.9L878.0 1060.8L878.5 1060.6L879.0 1060.4L879.5 1060.2L880.0 1060.0L880.5 1059.7L881.0 1059.4L881.5 1059.2L882.0 1058.9L882.5 1058.6L883.0 1058.3L883.5 1058.0L884.0 1057.7L884.5 1057.4L885.0 1057.2L885.5 1056.9L886.0 1056.7L886.5 1056.4L887.0 1056.2L887.5 1056.0L888.0 1055.8L888.5 1055.5L889.0 1055.3L889.5 1055.0L890.0 1054.8L890.5 1054.5L891.0 1054.3L891.5 1054.0L892.0 1053.8L892.5 1053.6L893.0 1053.4L893.5 1053.2L894.0 1053.1L894.5 1053.0L895.0 1052.9L895.5 1052.8L896.0 1052.7L896.5 1052.7L897.0 1052.6L897.5 1052.6L898.0 1052.5L898.5 1052.5L899.0 1052.5L899.5 1052.4L900.0 1052.4L900.5 1052.4L901.0 1052.4L901.5 1052.4L902.0 1052.5L902.5 1052.6L903.0 1052.7L903.5 1052.8L904.0 1053.0L904.5 1053.1L905.0 1053.3L905.5 1053.5L906.0 1053.8L906.5 1054.0L907.0 1054.2L907.5 1054.5L908.0 1054.7L908.5 1055.0L909.0 1055.2L909.5 1055.4L910.0 1055.7L910.5 1055.9L911.0 1056.1L911.5 1056.2L912.0 1056.4L912.5 1056.5L913.0 1056.7L913.5 1056.9L914.0 1057.0L914.5 1057.2L915.0 1057.3L915.5 1057.5L916.0 1057.6L916.5 1057.8L917.0 1057.9L917.5 1058.1L918.0 1058.2L918.5 1058.4L919.0 1058.5L919.5 1058.6L920.0 1058.7L920.5 1058.8L921.0 1058.9L921.5 1058.9L922.0 1059.0L922.5 1059.0L923.0 1059.0L923.5 1059.0L924.0 1059.0L924.5 1058.9L925.0 1058.8L925.5 1058.7L926.0 1058.6L926.5 1058.5L927.0 1058.4L927.5 1058.2L928.0 1058.1L928.5 1057.9L929.0 1057.7L929.5 1057.5L930.0 1057.3L930.5 1057.0L931.0 1056.8L931.5 1056.6L932.0 1056.3L932.5 1056.1L933.0 1055.8L933.5 1055.6L934.0 1055.3L934.5 1055.0L935.0 1054.7L935.5 1054.3L936.0 1053.8L936.5 1053.4L937.0 1052.9L937.5 1052.3L938.0 1051.7L938.5 1051.1L939.0 1050.5L939.5 1049.9L940.0 1049.2L940.5 1048.6L941.0 1047.9L941.5 1047.2L942.0 1046.5L942.5 1045.8L943.0 1045.1L943.5 1044.4L944.0 1043.6L944.5 1042.7L945.0 1041.9L945.5 1040.9L946.0 1040.0L946.5 1039.1L947.0 1038.1L947.5 1037.2L948.0 1036.3L948.5 1035.4L949.0 1034.5L949.5 1033.7L950.0 1032.9L950.5 1032.2L951.0 1031.5L951.5 1030.8L952.0 1030.2L952.5 1029.5L953.0 1028.8L953.5 1028.2L954.0 1027.7L954.5 1027.1L955.0 1026.7L955.5 1026.3L956.0 1026.0L956.5 1025.7L957.0 1025.5L957.5 1025.3L958.0 1025.1L958.5 1024.9L959.0 1024.7L959.5 1024.6L960.0 1024.5L960.5 1024.5L961.0 1024.6L961.5 1024.8L962.0 1025.2L962.5 1025.7L963.0 1026.3L963.5 1026.9L964.0 1027.5L964.5 1028.3L965.0 1029.2L965.5 1030.4L966.0 1031.6L966.5 1032.9L967.0 1034.2L967.5 1035.4L968.0 1036.7L968.5 1038.1L969.0 1039.6L969.5 1041.0L970.0 1042.5L970.5 1044.0L971.0 1045.5L971.5 1046.9L972.0 1048.2L972.5 1049.5L973.0 1050.6L973.5 1051.6L974.0 1052.5L974.5 1053.4L975.0 1054.3L975.5 1055.2L976.0 1056.0L976.5 1056.9L977.0 1057.6L977.5 1058.3L978.0 1059.0L978.5 1059.5L979.0 1060.0L979.5 1060.4L980.0 1060.7L980.5 1060.9L981.0 1061.0L981.5 1061.1L982.0 1061.3L982.5 1061.4L983.0 1061.5L983.5 1061.6L984.0 1061.7L984.5 1061.7L985.0 1061.8L985.5 1061.8L986.0 1061.9L986.5 1061.9L987.0 1061.9L987.5 1061.9L988.0 1061.8L988.5 1061.7L989.0 1061.5L989.5 1061.4L990.0 1061.2L990.5 1060.9L991.0 1060.7L991.5 1060.4L992.0 1060.1L992.5 1059.8L993.0 1059.5L993.5 1059.2L994.0 1058.8L994.5 1058.5L995.0 1058.2L995.5 1057.8L996.0 1057.5L996.5 1057.2L997.0 1056.9L997.5 1056.6L998.0 1056.3L998.5 1056.1L999.0 1055.8L999.5 1055.5L1000.0 1055.2L1000.5 1054.9L1001.0 1054.6L1001.5 1054.3L1002.0 1054.0L1002.5 1053.7L1003.0 1053.4L1003.5 1053.1L1004.0 1052.8L1004.5 1052.6L1005.0 1052.3L1005.5 1052.1L1006.0 1051.9L1006.5 1051.7L1007.0 1051.5L1007.5 1051.3L1008.0 1051.2L1008.5 1051.0L1009.0 1050.9L1009.5 1050.7L1010.0 1050.6L1010.5 1050.4L1011.0 1050.3L1011.5 1050.2L1012.0 1050.0L1012.5 1049.9L1013.0 1049.8L1013.5 1049.6L1014.0 1049.5L1014.5 1049.4L1015.0 1049.3L1015.5 1049.2L1016.0 1049.1L1016.5 1049.0L1017.0 1048.9L1017.5 1048.8L1018.0 1048.7L1018.5 1048.6L1019.0 1048.5L1019.5 1048.4L1020.0 1048.3L1020.5 1048.3L1021.0 1048.2L1021.5 1048.1L1022.0 1048.0L1022.5 1047.9L1023.0 1047.9L1023.5 1047.8L1024.0 1047.7L1024.5 1047.7L1025.0 1047.6L1025.5 1047.6L1026.0 1047.5L1026.5 1047.5L1027.0 1047.4L1027.5 1047.4L1028.0 1047.3L1028.5 1047.3L1029.0 1047.3L1029.5 1047.2L1030.0 1047.2L1030.5 1047.1L1031.0 1047.1L1031.5 1047.0L1032.0 1047.0L1032.5 1046.9L1033.0 1046.8L1033.5 1046.8L1034.0 1046.7L1034.5 1046.6L1035.0 1046.6L1035.5 1046.5L1036.0 1046.4L1036.5 1046.2L1037.0 1046.1L1037.5 1046.0L1038.0 1045.8L1038.5 1045.7L1039.0 1045.5L1039.5 1045.3L1040.0 1045.2L1040.5 1045.0L1041.0 1044.8L1041.5 1044.7L1042.0 1044.5L1042.5 1044.3L1043.0 1044.1L1043.5 1043.9L1044.0 1043.7L1044.5 1043.5L1045.0 1043.3L1045.5 1043.1L1046.0 1042.9L1046.5 1042.8L1047.0 1042.7L1047.5 1042.7L1048.0 1042.7L1048.5 1042.9L1049.0 1043.0L1049.5 1043.2L1050.0 1043.5L1050.5 1043.8L1051.0 1044.1L1051.5 1044.5L1052.0 1044.9L1052.5 1045.3L1053.0 1045.7L1053.5 1046.1L1054.0 1046.5L1054.5 1047.0L1055.0 1047.5L1055.5 1048.1L1056.0 1048.8L1056.5 1049.5L1057.0 1050.2L1057.5 1051.0L1058.0 1051.8L1058.5 1052.5L1059.0 1053.3L1059.5 1054.0L1060.0 1054.6L1060.5 1055.2L1061.0 1055.7L1061.5 1056.3L1062.0 1056.8L1062.5 1057.3L1063.0 1057.9L1063.5 1058.3L1064.0 1058.8L1064.5 1059.2L1065.0 1059.5L1065.5 1059.8L1066.0 1060.0L1066.5 1060.1L1067.0 1060.3L1067.5 1060.4L1068.0 1060.6L1068.5 1060.7L1069.0 1060.8L1069.5 1060.9L1070.0 1061.0L1070.5 1061.0L1071.0 1061.1L1071.5 1061.2L1072.0 1061.2L1072.5 1061.2L1073.0 1061.2L1073.5 1061.1L1074.0 1061.0L1074.5 1060.8L1075.0 1060.6L1075.5 1060.4L1076.0 1060.1L1076.5 1059.8L1077.0 1059.5L1077.5 1059.1L1078.0 1058.7L1078.5 1058.4L1079.0 1058.0L1079.5 1057.6L1080.0 1057.3L1080.5 1056.9L1081.0 1056.6L1081.5 1056.3L1082.0 1056.0L1082.5 1055.7L1083.0 1055.5L1083.5 1055.4L1084.0 1055.2L1084.5 1055.1L1085.0 1055.0L1085.5 1054.9L1086.0 1054.7L1086.5 1054.6L1087.0 1054.5L1087.5 1054.4L1088.0 1054.3L1088.5 1054.2L1089.0 1054.1L1089.5 1054.0L1090.0 1054.0L1090.5 1053.9L1091.0 1053.9L1091.5 1053.8L1092.0 1053.8L1092.5 1053.8L1093.0 1053.8L1093.5 1053.8L1094.0 1053.8L1094.5 1053.8L1095.0 1053.8L1095.5 1053.8L1096.0 1053.8L1096.5 1053.8L1097.0 1053.8L1097.5 1053.8L1098.0 1053.8L1098.5 1053.8L1099.0 1053.8L1099.5 1053.8L1100.0 1053.8L1100.5 1053.8L1101.0 1053.8L1101.5 1053.8L1102.0 1053.8L1102.5 1053.8L1103.0 1053.8L1103.5 1053.8L1104.0 1053.8L1104.5 1053.8L1105.0 1053.8L1105.5 1053.8L1106.0 1053.8L1106.5 1053.8L1107.0 1053.8L1107.5 1053.8L1108.0 1053.8L1108.5 1053.8L1109.0 1053.8L1109.5 1053.8L1110.0 1053.8L1110.5 1053.8L1111.0 1053.8L1111.5 1053.8L1112.0 1053.8L1112.5 1053.8L1113.0 1053.8L1113.5 1053.8L1114.0 1053.8L1114.5 1053.8L1115.0 1053.9L1115.5 1053.9L1116.0 1053.9L1116.5 1053.9L1117.0 1053.9L1117.5 1053.9L1118.0 1053.9L1118.5 1054.0L1119.0 1054.0L1119.5 1054.0L1120.0 1054.0L1120.5 1054.0L1121.0 1054.1L1121.5 1054.1L1122.0 1054.1L1122.5 1054.2L1123.0 1054.2L1123.5 1054.2L1124.0 1054.3L1124.5 1054.3L1125.0 1054.5L1125.5 1054.6L1126.0 1054.7L1126.5 1054.9L1127.0 1055.1L1127.5 1055.3L1128.0 1055.4L1128.5 1055.6L1129.0 1055.8L1129.5 1055.9L1130.0 1056.1L1130.5 1056.2L1131.0 1056.3L1131.5 1056.4L1132.0 1056.4L1132.5 1056.4L1133.0 1056.4L1133.5 1056.3L1134.0 1056.2L1134.5 1056.1L1135.0 1056.0L1135.5 1055.8L1136.0 1055.7L1136.5 1055.5L1137.0 1055.3L1137.5 1055.2L1138.0 1055.0L1138.5 1054.8L1139.0 1054.6L1139.5 1054.3L1140.0 1054.1L1140.5 1053.8L1141.0 1053.5L1141.5 1053.3L1142.0 1053.0L1142.5 1052.8L1143.0 1052.7L1143.5 1052.5"/>
<path class="c" stroke="#14c8c8" d="M177.0 1062.8L177.5 1062.8L178.0 1062.8L178.5 1062.8L179.0 1062.8L179.5 1062.8L180.0 1062.8L180.5 1062.8L181.0 1062.8L181.5 1062.8L182.0 1062.8L182.5 1062.8L183.0 1062.8L183.5 1062.8L184.0 1062.8L184.5 1062.8L185.0 1062.8L185.5 1062.8L186.0 1062.8L186.5 1062.8L187.0 1062.8L187.5 1062.8L188.0 1062.8L188.5 1062.8L189.0 1062.8L189.5 1062.8L190.0 1062.8L190.5 1062.8L191.0 1062.8L191.5 1062.8L192.0 1062.8L192.5 1062.8L193.0 1062.8L193.5 1062.8L194.0 1062.8L194.5 1062.8L195.0 1062.8L195.5 1062.8L196.0 1062.8L196.5 1062.8L197.0 1062.8L197.5 1062.8L198.0 1062.8L198.5 1062.8L199.0 1062.8L199.5 1062.8L200.0 1062.8L200.5 1062.8L201.0 1062.8L201.5 1062.8L202.0 1062.8L202.5 1062.8L203.0 1062.8L203.5 1062.8L204.0 1062.8L204.5 1062.8L205.0 1062.8L205.5 1062.8L206.0 1062.8L206.5 1062.8L207.0 1062.8L207.5 1062.8L208.0 1062.8L208.5 1062.8L209.0 1062.8L209.5 1062.8L210.0 1062.8L210.5 1062.8L211.0 1062.8L211.5 1062.8L212.0 1062.8L212.5 1062.8L213.0 1062.8L213.5 1062.8L214.0 1062.8L214.5 1062.8L215.0 1062.8L215.5 1062.8L216.0 1062.8L216.5 1062.8L217.0 1062.8L217.5 1062.8L218.0 1062.8L218.5 1062.8L219.0 1062.8L219.5 1062.8L220.0 1062.8L220.5 1062.8L221.0 1062.8L221.5 1062.8L222.0 1062.8L222.5 1062.8L223.0 1062.8L223.5 1062.8L224.0 1062.8L224.5 1062.8L225.0 1062.8L225.5 1062.8L226.0 1062.8L226.5 1062.8L227.0 1062.8L227.5 1062.8L228.0 1062.8L228.5 1062.8L229.0 1062.8L229.5 1062.8L230.0 1062.8L230.5 1062.8L231.0 1062.8L231.5 1062.8L232.0 1062.8L232.5 1062.8L233.0 1062.8L233.5 1062.8L234.0 1062.8L234.5 1062.8L235.0 1062.8L235.5 1062.8L236.0 1062.8L236.5 1062.8L237.0 1062.8L237.5 1062.8L238.0 1062.8L238.5 1062.8L239.0 1062.8L239.5 1062.8L240.0 1062.8L240.5 1062.8L241.0 1062.8L241.5 1062.8L242.0 1062.8L242.5 1062.8L243.0 1062.8L243.5 1062.8L244.0 1062.8L244.5 1062.8L245.0 1062.8L245.5 1062.8L246.0 1062.8L246.5 1062.8L247.0 1062.8L247.5 1062.8L248.0 1062.8L248.5 1062.8L249.0 1062.8L249.5 1062.8L250.0 1062.8L250.5 1062.8L251.0 1062.8L251.5 1062.8L252.0 1062.8L252.5 1062.8L253.0 1062.7L253.5 1062.6L254.0 1062.5L254.5 1062.3L255.0 1062.1L255.5 1061.9L256.0 1061.7L256.5 1061.4L257.0 1061.1L257.5 1060.8L258.0 1060.4L258.5 1059.9L259.0 1059.5L259.5 1059.1L260.0 1058.6L260.5 1058.1L261.0 1057.6L261.5 1057.1L262.0 1056.6L262.5 1056.1L263.0 1055.6L263.5 1055.1L264.0 1054.5L264.5 1054.0L265.0 1053.5L265.5 1053.0L266.0 1052.5L266.5 1051.9L267.0 1051.4L267.5 1050.9L268.0 1050.4L268.5 1049.9L269.0 1049.3L269.5 1048.8L270.0 1048.3L270.5 1047.8L271.0 1047.3L271.5 1046.9L272.0 1046.5L272.5 1046.2L273.0 1045.9L273.5 1045.6L274.0 1045.2L274.5 1044.9L275.0 1044.6L275.5 1044.2L276.0 1043.9L276.5 1043.5L277.0 1043.5L277.5 1043.9L278.0 1044.2L278.5 1044.6L279.0 1044.9L279.5 1045.2L280.0 1045.6L280.5 1045.9L281.0 1046.2L281.5 1046.5L282.0 1046.9L282.5 1047.3L283.0 1047.8L283.5 1048.3L284.0 1048.8L284.5 1049.3L285.0 1049.9L285.5 1050.4L286.0 1050.9L286.5 1051.4L287.0 1051.9L287.5 1052.5L288.0 1053.0L288.5 1053.5L289.0 1054.0L289.5 1054.5L290.0 1055.1L290.5 1055.6L291.0 1056.1L291.5 1056.6L292.0 1057.1L292.5 1057.6L293.0 1058.1L293.5 1058.6L294.0 1059.1L294.5 1059.5L295.0 1059.9L295.5 1060.4L296.0 1060.8L296.5 1061.1L297.0 1061.4L297.5 1061.7L298.0 1061.9L298.5 1062.1L299.0 1062.3L299.5 1062.5L300.0 1062.6L300.5 1062.7L301.0 1062.8L301.5 1062.8L302.0 1062.8L302.5 1062.8L303.0 1062.8L303.5 1062.8L304.0 1062.8L304.5 1062.8L305.0 1062.8L305.5 1062.8L306.0 1062.8L306.5 1062.8L307.0 1062.8L307.5 1062.8L308.0 1062.8L308.5 1062.8L309.0 1062.8L309.5 1062.8L310.0 1062.8L310.5 1062.8L311.0 1062.8L311.5 1062.8L312.0 1062.8L312.5 1062.8L313.0 1062.8L313.5 1062.8L314.0 1062.8L314.5 1062.8L315.0 1062.8L315.5 1062.8L316.0 1062.8L316.5 1062.8L317.0 1062.8L317.5 1062.8L318.0 1062.8L318.5 1062.8L319.0 1062.8L319.5 1062.8L320.0 1062.8L320.5 1062.8L321.0 1062.8L321.5 1062.8L322.0 1062.8L322.5 1062.8L323.0 1062.8L323.5 1062.8L324.0 1062.8L324.5 1062.8L325.0 1062.8L325.5 1062.8L326.0 1062.8L326.5 1062.8L327.0 1062.8L327.5 1062.8L328.0 1062.8L328.5 1062.8L329.0 1062.8L329.5 1062.8L330.0 1062.8L330.5 1062.8L331.0 1062.8L331.5 1062.8L332.0 1062.8L332.5 1062.8L333.0 1062.8L333.5 1062.8L334.0 1062.8L334.5 1062.8L335.0 1062.8L335.5 1062.8L336.0 1062.8L336.5 1062.8L337.0 1062.8L337.5 1062.8L338.0 1062.8L338.5 1062.8L339.0 1062.7L339.5 1062.4L340.0 1061.9L340.5 1061.4L341.0 1060.8L341.5 1060.1L342.0 1059.4L342.5 1058.7L343.0 1058.0L343.5 1057.2L344.0 1056.2L344.5 1055.0L345.0 1053.7L345.5 1052.4L346.0 1051.0L346.5 1049.7L347.0 1048.3L347.5 1047.1L348.0 1046.0L348.5 1045.0L349.0 1043.9L349.5 1042.8L350.0 1041.8L350.5 1040.8L351.0 1039.8L351.5 1039.0L352.0 1038.2L352.5 1037.5L353.0 1037.0L353.5 1036.5L354.0 1036.1L354.5 1035.7L355.0 1035.3L355.5 1034.9L356.0 1034.7L356.5 1034.5L357.0 1034.4L357.5 1034.4L358.0 1034.6L358.5 1034.9L359.0 1035.2L359.5 1035.7L360.0 1036.1L360.5 1036.6L361.0 1037.1L361.5 1037.5L362.0 1037.9L362.5 1038.4L363.0 1039.0L363.5 1039.5L364.0 1040.1L364.5 1040.7L365.0 1041.2L365.5 1041.6L366.0 1042.0L366.5 1042.4L367.0 1042.7L367.5 1043.1L368.0 1043.4L368.5 1043.7L369.0 1044.0L369.5 1044.2L370.0 1044.3L370.5 1044.3L371.0 1044.1L371.5 1043.7L372.0 1043.0L372.5 1042.3L373.0 1041.4L373.5 1040.5L374.0 1039.6L374.5 1038.8L375.0 1038.0L375.5 1037.3L376.0 1036.4L376.5 1035.6L377.0 1034.7L377.5 1033.8L378.0 1032.9L378.5 1032.1L379.0 1031.3L379.5 1030.5L380.0 1029.9L380.5 1029.4L381.0 1029.1L381.5 1028.9L382.0 1028.7L382.5 1028.6L383.0 1028.5L383.5 1028.4L384.0 1028.3L384.5 1028.2L385.0 1028.2L385.5 1028.1L386.0 1028.1L386.5 1028.0L387.0 1028.0L387.5 1028.0L388.0 1028.0L388.5 1027.9L389.0 1027.9L389.5 1027.9L390.0 1027.9L390.5 1027.9L391.0 1027.9L391.5 1027.8L392.0 1027.8L392.5 1027.8L393.0 1027.7L393.5 1027.6L394.0 1027.5L394.5 1027.4L395.0 1027.2L395.5 1027.1L396.0 1026.9L396.5 1026.8L397.0 1026.6L397.5 1026.5L398.0 1026.4L398.5 1026.3L399.0 1026.1L399.5 1026.0L400.0 1025.9L400.5 1025.8L401.0 1025.7L401.5 1025.6L402.0 1025.6L402.5 1025.6L403.0 1025.7L403.5 1026.0L404.0 1026.4L404.5 1026.8L405.0 1027.4L405.5 1028.0L406.0 1028.7L406.5 1029.5L407.0 1030.2L407.5 1031.0L408.0 1031.8L408.5 1032.6L409.0 1033.3L409.5 1034.2L410.0 1035.2L410.5 1036.3L411.0 1037.5L411.5 1038.7L412.0 1040.0L412.5 1041.2L413.0 1042.5L413.5 1043.6L414.0 1044.7L414.5 1045.7L415.0 1046.5L415.5 1047.1L416.0 1047.7L416.5 1048.3L417.0 1048.9L417.5 1049.4L418.0 1050.0L418.5 1050.4L419.0 1050.8L419.5 1051.2L420.0 1051.4L420.5 1051.6L421.0 1051.6L421.5 1051.3L422.0 1050.8L422.5 1050.0L423.0 1049.0L423.5 1048.0L424.0 1047.0L424.5 1046.0L425.0 1045.0L425.5 1043.8L426.0 1042.6L426.5 1041.3L427.0 1040.1L427.5 1038.9L428.0 1037.7L428.5 1036.8L429.0 1035.9L429.5 1035.1L430.0 1034.3L430.5 1033.5L431.0 1032.7L431.5 1032.0L432.0 1031.3L432.5 1030.7L433.0 1030.1L433.5 1029.5L434.0 1029.0L434.5 1028.6L435.0 1028.3L435.5 1028.0L436.0 1027.8L436.5 1027.6L437.0 1027.3L437.5 1027.1L438.0 1027.0L438.5 1026.8L439.0 1026.7L439.5 1026.7L440.0 1026.7L440.5 1026.9L441.0 1027.2L441.5 1027.5L442.0 1028.0L442.5 1028.5L443.0 1029.1L443.5 1029.7L444.0 1030.3L444.5 1031.0L445.0 1031.7L445.5 1032.4L446.0 1033.0L446.5 1033.7L447.0 1034.5L447.5 1035.3L448.0 1036.2L448.5 1037.1L449.0 1038.1L449.5 1039.1L450.0 1040.2L450.5 1041.2L451.0 1042.2L451.5 1043.1L452.0 1044.1L452.5 1044.9L453.0 1045.7L453.5 1046.5L454.0 1047.3L454.5 1048.1L455.0 1048.9L455.5 1049.6L456.0 1050.4L456.5 1051.1L457.0 1051.8L457.5 1052.4L458.0 1053.0L458.5 1053.5L459.0 1053.9L459.5 1054.3L460.0 1054.6L460.5 1054.9L461.0 1055.3L461.5 1055.6L462.0 1055.9L462.5 1056.1L463.0 1056.4L463.5 1056.5L464.0 1056.7L464.5 1056.8L465.0 1056.8L465.5 1056.7L466.0 1056.6L466.5 1056.3L467.0 1055.9L467.5 1055.4L468.0 1054.9L468.5 1054.3L469.0 1053.6L469.5 1052.9L470.0 1052.2L470.5 1051.4L471.0 1050.7L471.5 1049.9L472.0 1049.2L472.5 1048.2L473.0 1047.2L473.5 1046.1L474.0 1044.8L474.5 1043.6L475.0 1042.3L475.5 1040.9L476.0 1039.6L476.5 1038.3L477.0 1037.1L477.5 1035.9L478.0 1034.8L478.5 1033.8L479.0 1032.8L479.5 1031.8L480.0 1030.8L480.5 1029.8L481.0 1028.9L481.5 1028.0L482.0 1027.2L482.5 1026.4L483.0 1025.7L483.5 1025.2L484.0 1024.7L484.5 1024.3L485.0 1023.8L485.5 1023.4L486.0 1023.1L486.5 1022.7L487.0 1022.5L487.5 1022.4L488.0 1022.3L488.5 1022.4L489.0 1022.7L489.5 1023.1L490.0 1023.6L490.5 1024.3L491.0 1025.0L491.5 1025.7L492.0 1026.5L492.5 1027.3L493.0 1028.1L493.5 1029.1L494.0 1030.2L494.5 1031.4L495.0 1032.7L495.5 1034.0L496.0 1035.4L496.5 1036.8L497.0 1038.2L497.5 1039.6L498.0 1041.1L498.5 1042.8L499.0 1044.5L499.5 1046.2L500.0 1047.8L500.5 1049.4L501.0 1050.7L501.5 1051.9L502.0 1053.1L502.5 1054.3L503.0 1055.3L503.5 1056.3L504.0 1057.3L504.5 1058.1L505.0 1058.8L505.5 1059.4L506.0 1060.0L506.5 1060.6L507.0 1061.0L507.5 1061.4L508.0 1061.8L508.5 1062.1L509.0 1062.5L509.5 1062.7L510.0 1062.8L510.5 1062.8L511.0 1062.8L511.5 1062.8L512.0 1062.8L512.5 1062.8L513.0 1062.8L513.5 1062.8L514.0 1062.8L514.5 1062.8L515.0 1062.8L515.5 1062.8L516.0 1062.8L516.5 1062.8L517.0 1062.8L517.5 1062.8L518.0 1062.8L518.5 1062.8L519.0 1062.8L519.5 1062.8L520.0 1062.8L520.5 1062.8L521.0 1062.8L521.5 1062.8L522.0 1062.8L522.5 1062.8L523.0 1062.8L523.5 1062.8L524.0 1062.8L524.5 1062.8L525.0 1062.8L525.5 1062.8L526.0 1062.8L526.5 1062.8L527.0 1062.8L527.5 1062.8L528.0 1062.8L528.5 1062.8L529.0 1062.8L529.5 1062.8L530.0 1062.8L530.5 1062.8L531.0 1062.8L531.5 1062.8L532.0 1062.8L532.5 1062.8L533.0 1062.8L533.5 1062.8L534.0 1062.8L534.5 1062.8L535.0 1062.8L535.5 1062.8L536.0 1062.8L536.5 1062.8L537.0 1062.8L537.5 1062.8L538.0 1062.8L538.5 1062.8L539.0 1062.8L539.5 1062.8L540.0 1062.8L540.5 1062.8L541.0 1062.8L541.5 1062.8L542.0 1062.8L542.5 1062.8L543.0 1062.8L543.5 1062.8L544.0 1062.8L544.5 1062.8L545.0 1062.8L545.5 1062.8L546.0 1062.8L546.5 1062.8L547.0 1062.8L547.5 1062.8L548.0 1062.8L548.5 1062.8L549.0 1062.8L549.5 1062.8L550.0 1062.8L550.5 1062.8L551.0 1062.8L551.5 1062.8L552.0 1062.8L552.5 1062.8L553.0 1062.8L553.5 1062.8L554.0 1062.8L554.5 1062.8L555.0 1062.8L555.5 1062.8L556.0 1062.8L556.5 1062.8L557.0 1062.8L557.5 1062.8L558.0 1062.8L558.5 1062.8L559.0 1062.8L559.5 1062.8L560.0 1062.8L560.5 1062.8L561.0 1062.8L561.5 1062.8L562.0 1062.8L562.5 1062.8L563.0 1062.8L563.5 1062.8L564.0 1062.8L564.5 1062.8L565.0 1062.8L565.5 1062.8L566.0 1062.8L566.5 1062.8L567.0 1062.8L567.5 1062.8L568.0 1062.8L568.5 1062.8L569.0 1062.8L569.5 1062.8L570.0 1062.8L570.5 1062.8L571.0 1062.8L571.5 1062.8L572.0 1062.8L572.5 1062.8L573.0 1062.8L573.5 1062.8L574.0 1062.8L574.5 1062.8L575.0 1062.8L575.5 1062.7L576.0 1062.7L576.5 1062.6L577.0 1062.5L577.5 1062.4L578.0 1062.4L578.5 1062.3L579.0 1062.2L579.5 1062.1L580.0 1062.0L580.5 1061.9L581.0 1061.8L581.5 1061.7L582.0 1061.6L582.5 1061.5L583.0 1061.4L583.5 1061.4L584.0 1061.3L584.5 1061.2L585.0 1061.2L585.5 1061.1L586.0 1061.1L586.5 1061.0L587.0 1061.0L587.5 1061.0L588.0 1061.0L588.5 1060.9L589.0 1060.9L589.5 1060.9L590.0 1060.9L590.5 1060.9L591.0 1060.9L591.5 1060.8L592.0 1060.8L592.5 1060.8L593.0 1060.8L593.5 1060.8L594.0 1060.8L594.5 1060.7L595.0 1060.7L595.5 1060.7L596.0 1060.7L596.5 1060.7L597.0 1060.7L597.5 1060.7L598.0 1060.6L598.5 1060.6L599.0 1060.6L599.5 1060.6L600.0 1060.6L600.5 1060.6L601.0 1060.6L601.5 1060.6L602.0 1060.6L602.5 1060.6L603.0 1060.6L603.5 1060.5L604.0 1060.5L604.5 1060.5L605.0 1060.5L605.5 1060.5L606.0 1060.5L606.5 1060.5L607.0 1060.5L607.5 1060.5L608.0 1060.5L608.5 1060.5L609.0 1060.5L609.5 1060.5L610.0 1060.5L610.5 1060.5L611.0 1060.5L611.5 1060.5L612.0 1060.5L612.5 1060.6L613.0 1060.6L613.5 1060.6L614.0 1060.6L614.5 1060.7L615.0 1060.7L615.5 1060.7L616.0 1060.8L616.5 1060.8L617.0 1060.9L617.5 1060.9L618.0 1061.0L618.5 1061.0L619.0 1061.1L619.5 1061.1L620.0 1061.1L620.5 1061.2L621.0 1061.2L621.5 1061.3L622.0 1061.3L622.5 1061.4L623.0 1061.4L623.5 1061.5L624.0 1061.5L624.5 1061.6L625.0 1061.6L625.5 1061.6L626.0 1061.7L626.5 1061.7L627.0 1061.7L627.5 1061.7L628.0 1061.8L628.5 1061.8L629.0 1061.8L629.5 1061.8L630.0 1061.8L630.5 1061.8L631.0 1061.8L631.5 1061.8L632.0 1061.7L632.5 1061.7L633.0 1061.7L633.5 1061.6L634.0 1061.6L634.5 1061.5L635.0 1061.5L635.5 1061.4L636.0 1061.3L636.5 1061.3L637.0 1061.2L637.5 1061.1L638.0 1061.1L638.5 1061.0L639.0 1060.9L639.5 1060.8L640.0 1060.7L640.5 1060.7L641.0 1060.6L641.5 1060.5L642.0 1060.4L642.5 1060.3L643.0 1060.3L643.5 1060.2L644.0 1060.1L644.5 1060.1L645.0 1060.0L645.5 1059.9L646.0 1059.9L646.5 1059.8L647.0 1059.7L647.5 1059.6L648.0 1059.5L648.5 1059.5L649.0 1059.4L649.5 1059.3L650.0 1059.2L650.5 1059.2L651.0 1059.1L651.5 1059.1L652.0 1059.0L652.5 1059.0L653.0 1059.0L653.5 1059.0L654.0 1059.0L654.5 1059.1L655.0 1059.1L655.5 1059.2L656.0 1059.2L656.5 1059.3L657.0 1059.4L657.5 1059.5L658.0 1059.6L658.5 1059.7L659.0 1059.8L659.5 1059.9L660.0 1060.0L660.5 1060.1L661.0 1060.2L661.5 1060.3L662.0 1060.4L662.5 1060.6L663.0 1060.7L663.5 1060.8L664.0 1060.8L664.5 1060.9L665.0 1061.0L665.5 1061.1L666.0 1061.1L666.5 1061.2L667.0 1061.3L667.5 1061.4L668.0 1061.4L668.5 1061.5L669.0 1061.6L669.5 1061.7L670.0 1061.7L670.5 1061.8L671.0 1061.9L671.5 1061.9L672.0 1062.0L672.5 1062.1L673.0 1062.1L673.5 1062.2L674.0 1062.2L674.5 1062.3L675.0 1062.3L675.5 1062.4L676.0 1062.4L676.5 1062.5L677.0 1062.5L677.5 1062.5L678.0 1062.6L678.5 1062.6L679.0 1062.6L679.5 1062.6L680.0 1062.7L680.5 1062.7L681.0 1062.7L681.5 1062.8L682.0 1062.8L682.5 1062.8L683.0 1062.8L683.5 1062.8L684.0 1062.8L684.5 1062.8L685.0 1062.8L685.5 1062.8L686.0 1062.8L686.5 1062.8L687.0 1062.8L687.5 1062.8L688.0 1062.8L688.5 1062.8L689.0 1062.8L689.5 1062.8L690.0 1062.8L690.5 1062.8L691.0 1062.8L691.5 1062.8L692.0 1062.8L692.5 1062.8L693.0 1062.8L693.5 1062.8L694.0 1062.8L694.5 1062.8L695.0 1062.8L695.5 1062.8L696.0 1062.8L696.5 1062.8L697.0 1062.8L697.5 1062.8L698.0 1062.8L698.5 1062.8L699.0 1062.8L699.5 1062.8L700.0 1062.8L700.5 1062.8L701.0 1062.8L701.5 1062.8L702.0 1062.8L702.5 1062.8L703.0 1062.8L703.5 1062.8L704.0 1062.8L704.5 1062.8L705.0 1062.6L705.5 1062.4L706.0 1062.1L706.5 1061.8L707.0 1061.5L707.5 1061.2L708.0 1060.9L708.5 1060.5L709.0 1060.1L709.5 1059.8L710.0 1059.2L710.5 1058.6L711.0 1057.9L711.5 1057.1L712.0 1056.2L712.5 1055.3L713.0 1054.4L713.5 1053.4L714.0 1052.5L714.5 1051.6L715.0 1050.8L715.5 1050.0L716.0 1049.2L716.5 1048.4L717.0 1047.6L717.5 1046.8L718.0 1046.0L718.5 1045.2L719.0 1044.4L719.5 1043.6L720.0 1042.9L720.5 1042.3L721.0 1041.7L721.5 1041.2L722.0 1040.8L722.5 1040.4L723.0 1040.1L723.5 1039.7L724.0 1039.4L724.5 1039.1L725.0 1038.8L725.5 1038.6L726.0 1038.4L726.5 1038.3L727.0 1038.2L727.5 1038.2L728.0 1038.4L728.5 1038.7L729.0 1039.2L729.5 1039.7L730.0 1040.2L730.5 1040.8L731.0 1041.5L731.5 1042.1L732.0 1042.8L732.5 1043.4L733.0 1044.1L733.5 1044.9L734.0 1045.8L734.5 1046.7L735.0 1047.7L735.5 1048.7L736.0 1049.7L736.5 1050.7L737.0 1051.6L737.5 1052.5L738.0 1053.3L738.5 1054.1L739.0 1054.7L739.5 1055.3L740.0 1055.9L740.5 1056.5L741.0 1057.1L741.5 1057.6L742.0 1058.1L742.5 1058.6L743.0 1059.1L743.5 1059.5L744.0 1059.8L744.5 1060.1L745.0 1060.4L745.5 1060.5L746.0 1060.7L746.5 1060.8L747.0 1060.9L747.5 1061.0L748.0 1061.1L748.5 1061.2L749.0 1061.3L749.5 1061.4L750.0 1061.4L750.5 1061.5L751.0 1061.5L751.5 1061.5L752.0 1061.4L752.5 1061.3L753.0 1061.1L753.5 1060.9L754.0 1060.6L754.5 1060.3L755.0 1060.0L755.5 1059.7L756.0 1059.3L756.5 1058.9L757.0 1058.5L757.5 1058.1L758.0 1057.7L758.5 1057.4L759.0 1057.0L759.5 1056.6L760.0 1056.2L760.5 1055.8L761.0 1055.3L761.5 1054.8L762.0 1054.3L762.5 1053.7L763.0 1053.2L763.5 1052.7L764.0 1052.2L764.5 1051.7L765.0 1051.2L765.5 1050.7L766.0 1050.3L766.5 1049.9L767.0 1049.6L767.5 1049.2L768.0 1048.9L768.5 1048.5L769.0 1048.1L769.5 1047.8L770.0 1047.4L770.5 1047.1L771.0 1046.8L771.5 1046.5L772.0 1046.2L772.5 1046.0L773.0 1045.8L773.5 1045.7L774.0 1045.6L774.5 1045.6L775.0 1045.7L775.5 1045.8L776.0 1046.0L776.5 1046.3L777.0 1046.6L777.5 1046.9L778.0 1047.3L778.5 1047.8L779.0 1048.2L779.5 1048.7L780.0 1049.1L780.5 1049.6L781.0 1050.0L781.5 1050.4L782.0 1050.8L782.5 1051.3L783.0 1051.8L783.5 1052.3L784.0 1052.9L784.5 1053.4L785.0 1054.0L785.5 1054.5L786.0 1055.0L786.5 1055.5L787.0 1056.0L787.5 1056.4L788.0 1056.7L788.5 1057.0L789.0 1057.2L789.5 1057.4L790.0 1057.6L790.5 1057.7L791.0 1057.9L791.5 1058.1L792.0 1058.2L792.5 1058.4L793.0 1058.5L793.5 1058.6L794.0 1058.6L794.5 1058.7L795.0 1058.7L795.5 1058.6L796.0 1058.3L796.5 1057.9L797.0 1057.2L797.5 1056.4L798.0 1055.5L798.5 1054.5L799.0 1053.4L799.5 1052.2L800.0 1051.0L800.5 1049.9L801.0 1048.7L801.5 1047.6L802.0 1046.5L802.5 1045.3L803.0 1044.0L803.5 1042.7L804.0 1041.2L804.5 1039.8L805.0 1038.3L805.5 1036.8L806.0 1035.4L806.5 1033.9L807.0 1032.5L807.5 1031.2L808.0 1029.9L808.5 1028.7L809.0 1027.5L809.5 1026.3L810.0 1025.0L810.5 1023.8L811.0 1022.6L811.5 1021.5L812.0 1020.4L812.5 1019.3L813.0 1018.4L813.5 1017.6L814.0 1016.8L814.5 1016.2L815.0 1015.7L815.5 1015.2L816.0 1014.7L816.5 1014.2L817.0 1013.8L817.5 1013.4L818.0 1013.1L818.5 1012.9L819.0 1012.7L819.5 1012.7L820.0 1012.9L820.5 1013.2L821.0 1013.7L821.5 1014.4L822.0 1015.2L822.5 1016.1L823.0 1017.0L823.5 1017.9L824.0 1018.8L824.5 1019.7L825.0 1020.5L825.5 1021.4L826.0 1022.4L826.5 1023.5L827.0 1024.6L827.5 1025.8L828.0 1026.9L828.5 1028.1L829.0 1029.2L829.5 1030.2L830.0 1031.2L830.5 1032.0L831.0 1032.7L831.5 1033.4L832.0 1034.0L832.5 1034.5L833.0 1035.1L833.5 1035.6L834.0 1036.1L834.5 1036.6L835.0 1037.0L835.5 1037.4L836.0 1037.8L836.5 1038.2L837.0 1038.5L837.5 1038.8L838.0 1039.1L838.5 1039.3L839.0 1039.5L839.5 1039.7L840.0 1039.9L840.5 1040.1L841.0 1040.2L841.5 1040.4L842.0 1040.5L842.5 1040.7L843.0 1040.8L843.5 1040.9L844.0 1041.1L844.5 1041.2L845.0 1041.3L845.5 1041.4L846.0 1041.5L846.5 1041.6L847.0 1041.7L847.5 1041.8L848.0 1041.8L848.5 1041.9L849.0 1042.0L849.5 1042.0L850.0 1042.1L850.5 1042.1L851.0 1042.2L851.5 1042.3L852.0 1042.4L852.5 1042.4L853.0 1042.6L853.5 1042.7L854.0 1042.8L854.5 1043.0L855.0 1043.3L855.5 1043.6L856.0 1043.9L856.5 1044.3L857.0 1044.7L857.5 1045.1L858.0 1045.6L858.5 1046.0L859.0 1046.5L859.5 1047.0L860.0 1047.4L860.5 1047.9L861.0 1048.4L861.5 1049.0L862.0 1049.6L862.5 1050.2L863.0 1050.9L863.5 1051.5L864.0 1052.2L864.5 1052.9L865.0 1053.5L865.5 1054.0L866.0 1054.6L866.5 1055.1L867.0 1055.5L867.5 1055.9L868.0 1056.3L868.5 1056.7L869.0 1057.1L869.5 1057.5L870.0 1057.9L870.5 1058.2L871.0 1058.6L871.5 1058.9L872.0 1059.2L872.5 1059.5L873.0 1059.8L873.5 1060.0L874.0 1060.1L874.5 1060.3L875.0 1060.4L875.5 1060.4L876.0 1060.4L876.5 1060.2L877.0 1060.0L877.5 1059.7L878.0 1059.2L878.5 1058.8L879.0 1058.2L879.5 1057.7L880.0 1057.1L880.5 1056.4L881.0 1055.8L881.5 1055.1L882.0 1054.5L882.5 1053.8L883.0 1053.0L883.5 1052.2L884.0 1051.2L884.5 1050.2L885.0 1049.1L885.5 1048.0L886.0 1046.9L886.5 1045.8L887.0 1044.7L887.5 1043.6L888.0 1042.5L888.5 1041.6L889.0 1040.6L889.5 1039.7L890.0 1038.7L890.5 1037.8L891.0 1036.8L891.5 1035.8L892.0 1034.9L892.5 1034.0L893.0 1033.1L893.5 1032.3L894.0 1031.6L894.5 1030.9L895.0 1030.4L895.5 1029.9L896.0 1029.5L896.5 1029.1L897.0 1028.6L897.5 1028.3L898.0 1027.9L898.5 1027.7L899.0 1027.5L899.5 1027.3L900.0 1027.3L900.5 1027.4L901.0 1027.5L901.5 1027.7L902.0 1028.0L902.5 1028.3L903.0 1028.7L903.5 1029.1L904.0 1029.6L904.5 1030.0L905.0 1030.6L905.5 1031.1L906.0 1031.6L906.5 1032.2L907.0 1032.7L907.5 1033.2L908.0 1033.7L908.5 1034.4L909.0 1035.0L909.5 1035.8L910.0 1036.6L910.5 1037.4L911.0 1038.3L911.5 1039.1L912.0 1040.0L912.5 1040.8L913.0 1041.6L913.5 1042.3L914.0 1043.0L914.5 1043.6L915.0 1044.1L915.5 1044.4L916.0 1044.8L916.5 1045.2L917.0 1045.6L917.5 1045.9L918.0 1046.3L918.5 1046.6L919.0 1046.9L919.5 1047.2L920.0 1047.5L920.5 1047.7L921.0 1048.0L921.5 1048.2L922.0 1048.4L922.5 1048.5L923.0 1048.6L923.5 1048.7L924.0 1048.7L924.5 1048.7L925.0 1048.6L925.5 1048.4L926.0 1048.2L926.5 1047.8L927.0 1047.5L927.5 1047.1L928.0 1046.6L928.5 1046.1L929.0 1045.6L929.5 1045.1L930.0 1044.5L930.5 1043.9L931.0 1043.3L931.5 1042.7L932.0 1042.1L932.5 1041.5L933.0 1040.9L933.5 1040.3L934.0 1039.6L934.5 1038.9L935.0 1038.2L935.5 1037.4L936.0 1036.5L936.5 1035.7L937.0 1034.8L937.5 1033.9L938.0 1033.0L938.5 1032.0L939.0 1031.0L939.5 1030.0L940.0 1029.0L940.5 1028.0L941.0 1027.0L941.5 1025.8L942.0 1024.6L942.5 1023.4L943.0 1022.1L943.5 1020.8L944.0 1019.4L944.5 1018.0L945.0 1016.7L945.5 1015.3L946.0 1013.9L946.5 1012.6L947.0 1011.2L947.5 1010.0L948.0 1008.7L948.5 1007.5L949.0 1006.3L949.5 1005.0L950.0 1003.7L950.5 1002.3L951.0 1001.0L951.5 999.7L952.0 998.5L952.5 997.4L953.0 996.3L953.5 995.4L954.0 994.6L954.5 994.0L955.0 993.6L955.5 993.3L956.0 993.0L956.5 992.7L957.0 992.4L957.5 992.1L958.0 991.9L958.5 991.7L959.0 991.6L959.5 991.5L960.0 991.5L960.5 991.7L961.0 992.3L961.5 993.3L962.0 994.5L962.5 995.9L963.0 997.5L963.5 999.2L964.0 1000.9L964.5 1002.6L965.0 1004.3L965.5 1006.2L966.0 1008.3L966.5 1010.6L967.0 1013.1L967.5 1015.7L968.0 1018.3L968.5 1020.9L969.0 1023.5L969.5 1026.0L970.0 1028.3L970.5 1030.4L971.0 1032.5L971.5 1034.5L972.0 1036.6L972.5 1038.6L973.0 1040.6L973.5 1042.4L974.0 1044.2L974.5 1045.9L975.0 1047.4L975.5 1048.8L976.0 1050.0L976.5 1051.2L977.0 1052.3L977.5 1053.3L978.0 1054.4L978.5 1055.3L979.0 1056.2L979.5 1057.0L980.0 1057.7L980.5 1058.3L981.0 1058.7L981.5 1059.1L982.0 1059.3L982.5 1059.6L983.0 1059.8L983.5 1060.0L984.0 1060.2L984.5 1060.4L985.0 1060.5L985.5 1060.7L986.0 1060.7L986.5 1060.8L987.0 1060.8L987.5 1060.7L988.0 1060.6L988.5 1060.4L989.0 1060.1L989.5 1059.8L990.0 1059.5L990.5 1059.0L991.0 1058.6L991.5 1058.1L992.0 1057.7L992.5 1057.2L993.0 1056.7L993.5 1056.2L994.0 1055.7L994.5 1055.2L995.0 1054.8L995.5 1054.4L996.0 1054.0L996.5 1053.6L997.0 1053.1L997.5 1052.7L998.0 1052.2L998.5 1051.7L999.0 1051.2L999.5 1050.7L1000.0 1050.2L1000.5 1049.8L1001.0 1049.4L1001.5 1049.0L1002.0 1048.6L1002.5 1048.3L1003.0 1048.0L1003.5 1047.8L1004.0 1047.7L1004.5 1047.6L1005.0 1047.6L1005.5 1047.5L1006.0 1047.5L1006.5 1047.5L1007.0 1047.5L1007.5 1047.4L1008.0 1047.4L1008.5 1047.4L1009.0 1047.4L1009.5 1047.4L1010.0 1047.4L1010.5 1047.4L1011.0 1047.3L1011.5 1047.3L1012.0 1047.3L1012.5 1047.3L1013.0 1047.3L1013.5 1047.3L1014.0 1047.3L1014.5 1047.2L1015.0 1047.2L1015.5 1047.2L1016.0 1047.2L1016.5 1047.2L1017.0 1047.1L1017.5 1047.1L1018.0 1047.1L1018.5 1047.1L1019.0 1047.0L1019.5 1047.0L1020.0 1047.0L1020.5 1047.0L1021.0 1046.9L1021.5 1046.9L1022.0 1046.9L1022.5 1046.9L1023.0 1046.8L1023.5 1046.8L1024.0 1046.7L1024.5 1046.7L1025.0 1046.7L1025.5 1046.6L1026.0 1046.6L1026.5 1046.5L1027.0 1046.4L1027.5 1046.3L1028.0 1046.1L1028.5 1045.8L1029.0 1045.6L1029.5 1045.3L1030.0 1044.9L1030.5 1044.5L1031.0 1044.1L1031.5 1043.7L1032.0 1043.3L1032.5 1042.8L1033.0 1042.4L1033.5 1041.9L1034.0 1041.5L1034.5 1041.1L1035.0 1040.6L1035.5 1040.2L1036.0 1039.8L1036.5 1039.4L1037.0 1039.1L1037.5 1038.8L1038.0 1038.5L1038.5 1038.2L1039.0 1037.9L1039.5 1037.5L1040.0 1037.2L1040.5 1036.9L1041.0 1036.5L1041.5 1036.2L1042.0 1035.9L1042.5 1035.6L1043.0 1035.3L1043.5 1035.1L1044.0 1034.9L1044.5 1034.7L1045.0 1034.6L1045.5 1034.5L1046.0 1034.4L1046.5 1034.4L1047.0 1034.5L1047.5 1034.8L1048.0 1035.1L1048.5 1035.5L1049.0 1036.0L1049.5 1036.6L1050.0 1037.2L1050.5 1037.8L1051.0 1038.5L1051.5 1039.1L1052.0 1039.8L1052.5 1040.5L1053.0 1041.1L1053.5 1041.8L1054.0 1042.6L1054.5 1043.5L1055.0 1044.4L1055.5 1045.3L1056.0 1046.3L1056.5 1047.2L1057.0 1048.1L1057.5 1049.1L1058.0 1049.9L1058.5 1050.7L1059.0 1051.4L1059.5 1052.0L1060.0 1052.5L1060.5 1053.1L1061.0 1053.7L1061.5 1054.2L1062.0 1054.7L1062.5 1055.3L1063.0 1055.8L1063.5 1056.3L1064.0 1056.8L1064.5 1057.2L1065.0 1057.7L1065.5 1058.1L1066.0 1058.4L1066.5 1058.8L1067.0 1059.0L1067.5 1059.3L1068.0 1059.5L1068.5 1059.6L1069.0 1059.7L1069.5 1059.7L1070.0 1059.6L1070.5 1059.4L1071.0 1059.1L1071.5 1058.7L1072.0 1058.2L1072.5 1057.7L1073.0 1057.1L1073.5 1056.4L1074.0 1055.8L1074.5 1055.1L1075.0 1054.4L1075.5 1053.8L1076.0 1053.2L1076.5 1052.6L1077.0 1052.1L1077.5 1051.6L1078.0 1051.1L1078.5 1050.6L1079.0 1050.1L1079.5 1049.6L1080.0 1049.1L1080.5 1048.5L1081.0 1048.0L1081.5 1047.5L1082.0 1047.0L1082.5 1046.6L1083.0 1046.1L1083.5 1045.7L1084.0 1045.3L1084.5 1045.0L1085.0 1044.7L1085.5 1044.5L1086.0 1044.3L1086.5 1044.1L1087.0 1043.9L1087.5 1043.7L1088.0 1043.6L1088.5 1043.4L1089.0 1043.3L1089.5 1043.1L1090.0 1043.0L1090.5 1042.9L1091.0 1042.8L1091.5 1042.8L1092.0 1042.7L1092.5 1042.7L1093.0 1042.7L1093.5 1042.7L1094.0 1042.7L1094.5 1042.7L1095.0 1042.7L1095.5 1042.8L1096.0 1042.8L1096.5 1042.8L1097.0 1042.8L1097.5 1042.9L1098.0 1042.9L1098.5 1042.9L1099.0 1043.0L1099.5 1043.0L1100.0 1043.0L1100.5 1043.1L1101.0 1043.1L1101.5 1043.2L1102.0 1043.2L1102.5 1043.2L1103.0 1043.3L1103.5 1043.3L1104.0 1043.3L1104.5 1043.4L1105.0 1043.4L1105.5 1043.4L1106.0 1043.5L1106.5 1043.5L1107.0 1043.5L1107.5 1043.5L1108.0 1043.6L1108.5 1043.6L1109.0 1043.6L1109.5 1043.6L1110.0 1043.6L1110.5 1043.6L1111.0 1043.6L1111.5 1043.6L1112.0 1043.6L1112.5 1043.6L1113.0 1043.6L1113.5 1043.5L1114.0 1043.5L1114.5 1043.5L1115.0 1043.5L1115.5 1043.5L1116.0 1043.4L1116.5 1043.4L1117.0 1043.4L1117.5 1043.4L1118.0 1043.3L1118.5 1043.3L1119.0 1043.3L1119.5 1043.3L1120.0 1043.3L1120.5 1043.2L1121.0 1043.2L1121.5 1043.2L1122.0 1043.2L1122.5 1043.2L1123.0 1043.2L1123.5 1043.2L1124.0 1043.2L1124.5 1043.2L1125.0 1043.3L1125.5 1043.4L1126.0 1043.4L1126.5 1043.5L1127.0 1043.6L1127.5 1043.7L1128.0 1043.8L1128.5 1043.9L1129.0 1044.0L1129.5 1044.1L1130.0 1044.1L1130.5 1044.2L1131.0 1044.2L1131.5 1044.3L1132.0 1044.3L1132.5 1044.3L1133.0 1044.1L1133.5 1043.9L1134.0 1043.5L1134.5 1043.1L1135.0 1042.7L1135.5 1042.2L1136.0 1041.6L1136.5 1041.1L1137.0 1040.6L1137.5 1040.1L1138.0 1039.6L1138.5 1039.2L1139.0 1038.7L1139.5 1038.2L1140.0 1037.7L1140.5 1037.2L1141.0 1036.6L1141.5 1036.1L1142.0 1035.6L1142.5 1035.1L1143.0 1034.5L1143.5 1034.0"/>
</g>
<g class="ax">
<path d="M161.3 46.7 H1144.6"/>
<path d="M161.3 1064.0 H1144.6" stroke-width="3.0"/>
<path d="M177.2 44.9 V1078.4"/>
<path d="M1142.8 44.9 V1078.4"/>
<path d="M161.3 724.6 H177.2" stroke-width="3.8"/>
<path d="M161.3 385.6 H177.2" stroke-width="3.8"/>
<path d="M167.0 894.0 H177.2" stroke-width="3.7"/>
<path d="M167.0 555.1 H177.2" stroke-width="3.7"/>
<path d="M167.0 216.2 H177.2" stroke-width="3.7"/>
<path d="M418.6 1063.5 V1078.3" stroke-width="3.8"/>
<path d="M660.0 1063.5 V1078.3" stroke-width="3.8"/>
<path d="M901.4 1063.5 V1078.3" stroke-width="3.8"/>
<path d="M297.9 1063.5 V1071.4" stroke-width="3.7"/>
<path d="M539.3 1063.5 V1071.4" stroke-width="3.7"/>
<path d="M780.7 1063.5 V1071.4" stroke-width="3.7"/>
<path d="M1022.1 1063.5 V1071.4" stroke-width="3.7"/>
</g>
<text transform="translate(150.6 1090.2) scale(0.930 1)" font-size="70.5" text-anchor="end">0</text>
<text transform="translate(150.6 751.3) scale(0.930 1)" font-size="70.5" text-anchor="end">1</text>
<text transform="translate(150.6 412.3) scale(0.930 1)" font-size="70.5" text-anchor="end">2</text>
<text transform="translate(150.6 73.4) scale(0.930 1)" font-size="70.5" text-anchor="end">3</text>
<text transform="translate(173.7 1145.9) scale(0.930 1)" font-size="70.5" text-anchor="middle">−1</text>
<text transform="translate(417.6 1145.9) scale(0.930 1)" font-size="70.5" text-anchor="middle">0</text>
<text transform="translate(659.0 1145.9) scale(0.930 1)" font-size="70.5" text-anchor="middle">1</text>
<text transform="translate(900.4 1145.9) scale(0.930 1)" font-size="70.5" text-anchor="middle">2</text>
<text transform="translate(1141.8 1145.9) scale(0.930 1)" font-size="70.5" text-anchor="middle">3</text>
<text x="503.2" y="1234.5" font-size="67" textLength="313" lengthAdjust="spacingAndGlyphs">Energy(eV)</text>
<text transform="translate(94.8 978.3) rotate(-90)" font-size="67" textLength="851" lengthAdjust="spacingAndGlyphs">Density of states, electrons/eV)</text>
<rect x="264.1" y="67.2" width="284.9" height="479.3" fill="#fff" stroke="none"/>
<path d="M549.0 65.9 V547.8" stroke="#b0b0b0" stroke-width="3.6" fill="none"/>
<path d="M264.1 547.8 V67.1 H550.8" stroke="#777" stroke-width="2.3" fill="none"/>
<path d="M262.9 546.5 H548.2" stroke="#777" stroke-width="2.5" fill="none"/>
<path d="M271.7 105.7 H396.8" stroke="#4d4d4d" stroke-width="3.6" fill="none"/>
<text x="408.0" y="123.4" font-size="53.5" letter-spacing="0.45">Zn-4s</text>
<path d="M271.7 172.5 H396.8" stroke="#f03232" stroke-width="3.6" fill="none"/>
<text x="408.0" y="190.2" font-size="53.5" letter-spacing="0.45">Zn-3p</text>
<path d="M271.7 239.3 H396.8" stroke="#1a64e0" stroke-width="3.6" fill="none"/>
<text x="408.0" y="257.0" font-size="53.5" letter-spacing="0.45">Zn-3d</text>
<path d="M271.7 306.1 H396.8" stroke="#2aa264" stroke-width="3.6" fill="none"/>
<text x="408.0" y="323.8" font-size="53.5" letter-spacing="0.45">O-2s</text>
<path d="M271.7 372.9 H396.8" stroke="#ae70e0" stroke-width="3.6" fill="none"/>
<text x="408.0" y="390.6" font-size="53.5" letter-spacing="0.45">O-2p</text>
<path d="M271.7 439.7 H396.8" stroke="#c8960f" stroke-width="3.6" fill="none"/>
<text x="408.0" y="457.4" font-size="53.5" letter-spacing="0.45">C-2s</text>
<path d="M271.7 506.5 H396.8" stroke="#14c8c8" stroke-width="3.6" fill="none"/>
<text x="408.0" y="524.2" font-size="53.5" letter-spacing="0.45">C-2p</text>
</svg>
</body></html>
